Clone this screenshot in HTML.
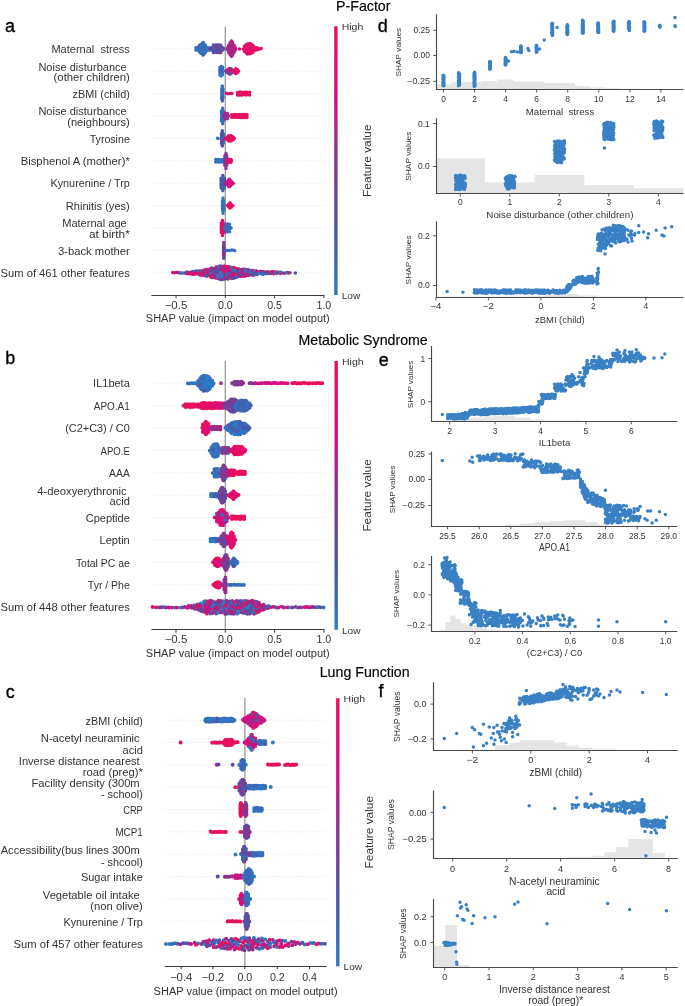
<!DOCTYPE html>
<html><head><meta charset="utf-8"><style>
html,body{margin:0;padding:0;background:#fff;}
svg{display:block;will-change:transform;}
text{font-family:'Liberation Sans', sans-serif;fill:#333;white-space:pre;}
</style></head><body>
<svg width="685" height="1006" viewBox="0 0 685 1006">
<rect width="685" height="1006" fill="#fff"/>
<defs><linearGradient id="cb" x1="0" y1="1" x2="0" y2="0"><stop offset="0.0" stop-color="#2e78c3"/><stop offset="0.25" stop-color="#4b55aa"/><stop offset="0.5" stop-color="#87378c"/><stop offset="0.75" stop-color="#dc0a82"/><stop offset="1.0" stop-color="#e8105a"/></linearGradient></defs>
<line x1="151.4" y1="48.8" x2="324.2" y2="48.8" stroke="#d5d5d5" stroke-width="0.7" stroke-dasharray="1 2"/>
<line x1="151.4" y1="71.2" x2="324.2" y2="71.2" stroke="#d5d5d5" stroke-width="0.7" stroke-dasharray="1 2"/>
<line x1="151.4" y1="93.6" x2="324.2" y2="93.6" stroke="#d5d5d5" stroke-width="0.7" stroke-dasharray="1 2"/>
<line x1="151.4" y1="116.0" x2="324.2" y2="116.0" stroke="#d5d5d5" stroke-width="0.7" stroke-dasharray="1 2"/>
<line x1="151.4" y1="138.4" x2="324.2" y2="138.4" stroke="#d5d5d5" stroke-width="0.7" stroke-dasharray="1 2"/>
<line x1="151.4" y1="160.8" x2="324.2" y2="160.8" stroke="#d5d5d5" stroke-width="0.7" stroke-dasharray="1 2"/>
<line x1="151.4" y1="183.2" x2="324.2" y2="183.2" stroke="#d5d5d5" stroke-width="0.7" stroke-dasharray="1 2"/>
<line x1="151.4" y1="205.6" x2="324.2" y2="205.6" stroke="#d5d5d5" stroke-width="0.7" stroke-dasharray="1 2"/>
<line x1="151.4" y1="228.0" x2="324.2" y2="228.0" stroke="#d5d5d5" stroke-width="0.7" stroke-dasharray="1 2"/>
<line x1="151.4" y1="250.4" x2="324.2" y2="250.4" stroke="#d5d5d5" stroke-width="0.7" stroke-dasharray="1 2"/>
<line x1="151.4" y1="272.8" x2="324.2" y2="272.8" stroke="#d5d5d5" stroke-width="0.7" stroke-dasharray="1 2"/>
<line x1="225.3" y1="26.4" x2="225.3" y2="295.2" stroke="#9a9a9a" stroke-width="1.3"/>
<path d="M195.9 47.8h0M195.9 49.9h0M197.8 50.2h0M199.0 47.4h0M199.0 50.0h0M201.0 47.9h0M201.0 50.1h0M202.4 47.4h0M202.4 49.8h0M204.4 47.6h0M204.4 50.1h0M206.1 47.4h0M206.1 49.8h0M207.5 47.5h0M207.5 50.2h0M209.3 47.8h0M209.3 50.2h0M199.7 47.6h0M201.1 51.2h0M203.2 42.5h0M203.2 45.0h0M203.2 52.7h0M203.1 54.9h0M204.0 48.6h0M204.0 51.3h0M205.5 52.3h0M206.7 49.0h0" stroke="#2e78c3" stroke-width="3.50" stroke-linecap="round" fill="none"/>
<path d="M197.8 47.3h0M198.4 48.6h0M201.1 44.2h0M201.1 53.6h0M203.2 54.7h0M203.1 50.0h0" stroke="#3d65b6" stroke-width="3.50" stroke-linecap="round" fill="none"/>
<path d="M199.7 45.3h0M204.0 53.7h0M211.5 50.0h0M213.4 44.9h0M213.4 47.4h0" stroke="#455caf" stroke-width="3.50" stroke-linecap="round" fill="none"/>
<path d="M199.7 50.0h0M199.7 52.3h0M201.1 46.4h0M201.1 48.9h0M203.2 47.7h0M203.2 50.2h0M203.1 42.7h0M203.1 45.4h0M203.1 47.6h0M203.1 52.2h0M204.0 44.1h0M204.0 46.3h0M205.5 45.2h0M205.5 47.5h0M205.5 50.2h0" stroke="#366fbc" stroke-width="3.50" stroke-linecap="round" fill="none"/>
<path d="M209.8 48.8h0M217.6 50.0h0M219.3 52.8h0M231.7 51.1h0" stroke="#6f4398" stroke-width="3.50" stroke-linecap="round" fill="none"/>
<path d="M211.5 47.7h0M213.4 52.4h0M215.9 47.6h0M215.9 52.5h0M217.6 45.1h0M217.6 52.3h0M217.4 45.3h0M217.4 47.5h0M217.4 52.3h0M219.3 50.1h0M220.8 47.3h0M222.9 47.8h0M222.9 50.0h0M223.7 48.5h0" stroke="#5f4ba0" stroke-width="3.50" stroke-linecap="round" fill="none"/>
<path d="M213.4 50.3h0M215.9 50.3h0M217.4 49.8h0M219.3 44.9h0M219.3 47.6h0M220.8 45.2h0M220.8 50.2h0" stroke="#4f53a8" stroke-width="3.50" stroke-linecap="round" fill="none"/>
<path d="M215.9 45.1h0M217.6 47.3h0M220.8 52.6h0M234.0 47.3h0M235.2 47.8h0" stroke="#7f3b90" stroke-width="3.50" stroke-linecap="round" fill="none"/>
<path d="M227.8 47.4h0M229.5 47.4h0M229.5 49.7h0M231.3 47.6h0M231.9 47.6h0M230.1 47.3h0M231.3 46.1h0M231.3 49.0h0M231.3 51.1h0M231.3 53.8h0M232.6 47.8h0M232.6 49.9h0M234.1 45.3h0M235.7 49.0h0" stroke="#c01985" stroke-width="3.50" stroke-linecap="round" fill="none"/>
<path d="M227.8 50.1h0M234.0 49.9h0M228.7 47.6h0M228.7 52.7h0M230.1 42.8h0M230.1 45.4h0M230.1 49.9h0M230.1 54.8h0M231.7 56.3h0" stroke="#92318b" stroke-width="3.50" stroke-linecap="round" fill="none"/>
<path d="M231.3 50.1h0M231.9 50.2h0M231.7 53.7h0M232.6 42.8h0M234.1 47.4h0M234.1 52.6h0" stroke="#d60d83" stroke-width="3.50" stroke-linecap="round" fill="none"/>
<path d="M235.2 50.2h0M227.3 49.0h0M228.7 45.2h0M228.7 50.1h0M230.1 52.7h0M231.7 41.2h0M231.7 43.7h0M231.7 46.5h0M231.7 48.7h0M231.3 41.2h0M231.3 43.7h0M231.3 56.1h0M232.6 45.3h0M232.6 52.5h0M232.6 54.7h0M234.1 50.2h0" stroke="#a92588" stroke-width="3.50" stroke-linecap="round" fill="none"/>
<path d="M239.5 48.9h0" stroke="#de0b7a" stroke-width="3.50" stroke-linecap="round" fill="none"/>
<path d="M243.3 49.0h0M244.4 48.5h0M247.1 44.0h0M247.1 46.6h0M249.4 51.1h0M249.4 53.7h0M249.5 44.1h0M249.5 51.3h0M250.5 43.7h0M250.5 53.6h0M252.4 47.3h0M252.4 52.8h0M253.5 48.5h0M255.7 47.8h0M255.7 50.1h0M257.0 47.7h0M257.0 49.8h0M259.5 49.1h0" stroke="#e8105a" stroke-width="3.50" stroke-linecap="round" fill="none"/>
<path d="M244.4 46.3h0M244.4 51.3h0M246.0 45.3h0M246.0 47.8h0M246.0 50.0h0M247.1 49.1h0M247.1 51.3h0M249.4 43.7h0M249.5 46.2h0M250.5 46.2h0M250.5 48.7h0M250.5 51.3h0M252.4 44.9h0M253.5 46.3h0M253.5 51.3h0M254.7 48.8h0M257.9 49.1h0" stroke="#e50e65" stroke-width="3.50" stroke-linecap="round" fill="none"/>
<path d="M246.0 52.6h0M247.1 53.9h0M249.4 46.1h0M249.4 48.5h0M249.5 48.6h0M249.5 53.5h0M252.4 50.3h0M261.1 48.6h0" stroke="#e20d6f" stroke-width="3.50" stroke-linecap="round" fill="none"/>
<path d="M219.9 67.6h0M219.9 71.3h0M219.9 75.1h0M221.1 68.4h0M221.1 74.0h0M221.1 76.1h0M222.6 69.3h0M222.6 70.9h0M222.6 73.2h0M222.6 74.7h0" stroke="#2e78c3" stroke-width="3.50" stroke-linecap="round" fill="none"/>
<path d="M219.9 69.5h0M219.9 73.1h0M221.1 66.6h0M222.6 67.2h0" stroke="#366fbc" stroke-width="3.50" stroke-linecap="round" fill="none"/>
<path d="M221.1 70.0h0" stroke="#455caf" stroke-width="3.50" stroke-linecap="round" fill="none"/>
<path d="M221.1 71.9h0" stroke="#3d65b6" stroke-width="3.50" stroke-linecap="round" fill="none"/>
<path d="M225.7 71.0h0M227.0 69.9h0M230.1 73.8h0M229.8 68.9h0" stroke="#92318b" stroke-width="3.50" stroke-linecap="round" fill="none"/>
<path d="M227.0 72.5h0M229.0 73.7h0M230.1 71.1h0M230.9 71.2h0M230.9 73.7h0M232.8 69.9h0M232.8 72.3h0M233.9 71.5h0" stroke="#7f3b90" stroke-width="3.50" stroke-linecap="round" fill="none"/>
<path d="M229.0 68.7h0" stroke="#c01985" stroke-width="3.50" stroke-linecap="round" fill="none"/>
<path d="M229.0 71.4h0M230.1 68.7h0M229.8 71.4h0M230.9 68.7h0" stroke="#a92588" stroke-width="3.50" stroke-linecap="round" fill="none"/>
<path d="M229.8 73.6h0" stroke="#6f4398" stroke-width="3.50" stroke-linecap="round" fill="none"/>
<path d="M232.9 71.1h0M234.9 70.2h0M234.9 72.3h0M235.9 71.2h0M237.5 69.8h0M237.5 72.5h0M238.6 71.3h0" stroke="#e8105a" stroke-width="3.50" stroke-linecap="round" fill="none"/>
<path d="M236.0 68.9h0" stroke="#e20d6f" stroke-width="3.50" stroke-linecap="round" fill="none"/>
<path d="M236.0 71.4h0M236.0 73.6h0M235.9 68.9h0" stroke="#e50e65" stroke-width="3.50" stroke-linecap="round" fill="none"/>
<path d="M235.9 73.6h0" stroke="#de0b7a" stroke-width="3.50" stroke-linecap="round" fill="none"/>
<path d="M221.8 88.6h0M221.8 90.6h0M221.8 92.6h0M221.8 96.5h0M222.3 85.9h0M222.3 87.6h0M222.3 91.5h0M222.3 93.5h0M222.3 95.5h0M222.3 97.5h0M222.3 99.5h0M222.9 88.8h0M222.9 92.4h0M222.9 94.4h0M222.9 96.7h0" stroke="#366fbc" stroke-width="3.50" stroke-linecap="round" fill="none"/>
<path d="M221.8 94.4h0M222.3 90.0h0" stroke="#2e78c3" stroke-width="3.50" stroke-linecap="round" fill="none"/>
<path d="M221.8 98.2h0" stroke="#455caf" stroke-width="3.50" stroke-linecap="round" fill="none"/>
<path d="M222.3 101.1h0M222.9 90.7h0M222.9 98.2h0" stroke="#3d65b6" stroke-width="3.50" stroke-linecap="round" fill="none"/>
<path d="M226.4 93.3h0M227.9 93.8h0M230.0 93.5h0M244.1 94.5h0" stroke="#e50e65" stroke-width="3.50" stroke-linecap="round" fill="none"/>
<path d="M231.9 93.4h0M237.5 94.9h0M239.1 95.1h0M240.4 95.1h0M249.6 94.9h0" stroke="#e20d6f" stroke-width="3.50" stroke-linecap="round" fill="none"/>
<path d="M237.5 92.5h0M239.1 92.2h0M242.4 92.5h0M242.4 94.9h0M244.1 92.3h0M245.9 92.3h0M245.9 95.0h0M247.0 92.2h0M247.0 94.7h0M249.6 92.2h0" stroke="#e8105a" stroke-width="3.50" stroke-linecap="round" fill="none"/>
<path d="M240.4 92.1h0" stroke="#de0b7a" stroke-width="3.50" stroke-linecap="round" fill="none"/>
<path d="M221.5 111.0h0M221.5 119.1h0M221.5 120.9h0M222.6 108.2h0M222.6 110.0h0M222.6 114.0h0M222.6 120.0h0M222.6 121.9h0M222.6 123.7h0M223.6 111.4h0M223.6 117.1h0M223.6 120.7h0" stroke="#366fbc" stroke-width="3.50" stroke-linecap="round" fill="none"/>
<path d="M221.5 113.0h0M221.5 115.2h0M221.5 116.8h0M222.6 116.1h0M223.6 115.2h0M223.6 118.8h0" stroke="#2e78c3" stroke-width="3.50" stroke-linecap="round" fill="none"/>
<path d="M222.6 112.4h0M222.6 118.0h0M223.6 112.9h0" stroke="#3d65b6" stroke-width="3.50" stroke-linecap="round" fill="none"/>
<path d="M223.8 115.7h0M225.0 118.6h0M226.3 115.7h0M227.3 113.4h0M227.3 118.7h0" stroke="#a92588" stroke-width="3.50" stroke-linecap="round" fill="none"/>
<path d="M225.0 113.4h0M227.3 116.0h0" stroke="#7f3b90" stroke-width="3.50" stroke-linecap="round" fill="none"/>
<path d="M225.0 116.0h0M226.3 113.6h0M226.3 118.6h0M226.6 115.7h0M226.6 118.4h0M228.5 115.9h0" stroke="#92318b" stroke-width="3.50" stroke-linecap="round" fill="none"/>
<path d="M226.6 113.8h0" stroke="#c01985" stroke-width="3.50" stroke-linecap="round" fill="none"/>
<path d="M231.7 114.8h0M231.7 117.3h0M233.7 114.8h0M233.7 117.3h0M235.6 117.2h0M237.3 115.0h0M237.3 117.3h0M238.8 114.6h0M238.8 117.3h0M240.7 114.5h0M240.7 117.5h0M242.0 114.6h0M242.0 117.5h0M245.3 114.8h0M245.3 117.4h0M247.0 114.7h0" stroke="#e8105a" stroke-width="3.50" stroke-linecap="round" fill="none"/>
<path d="M235.6 114.6h0M243.8 114.6h0M247.0 117.4h0" stroke="#e20d6f" stroke-width="3.50" stroke-linecap="round" fill="none"/>
<path d="M243.8 117.5h0" stroke="#e50e65" stroke-width="3.50" stroke-linecap="round" fill="none"/>
<path d="M217.5 138.3h0M218.1 138.6h0" stroke="#2e78c3" stroke-width="3.50" stroke-linecap="round" fill="none"/>
<path d="M221.5 133.7h0M221.5 135.3h0M221.5 137.3h0M221.5 139.2h0M222.3 130.7h0M222.3 132.6h0M222.3 134.8h0M222.3 140.2h0M222.3 144.4h0M223.3 133.9h0M223.3 135.3h0M223.3 139.2h0" stroke="#4f53a8" stroke-width="3.50" stroke-linecap="round" fill="none"/>
<path d="M221.5 141.2h0M222.3 138.3h0" stroke="#7f3b90" stroke-width="3.50" stroke-linecap="round" fill="none"/>
<path d="M221.5 143.2h0M222.3 142.2h0M222.3 146.1h0M223.3 141.0h0" stroke="#5f4ba0" stroke-width="3.50" stroke-linecap="round" fill="none"/>
<path d="M222.3 136.7h0M223.3 143.2h0" stroke="#455caf" stroke-width="3.50" stroke-linecap="round" fill="none"/>
<path d="M223.3 137.2h0" stroke="#3d65b6" stroke-width="3.50" stroke-linecap="round" fill="none"/>
<path d="M225.6 138.4h0M228.4 140.8h0M234.3 138.5h0" stroke="#e50e65" stroke-width="3.50" stroke-linecap="round" fill="none"/>
<path d="M227.2 137.3h0M227.2 139.4h0M230.4 138.3h0M233.1 137.0h0" stroke="#e20d6f" stroke-width="3.50" stroke-linecap="round" fill="none"/>
<path d="M228.4 136.1h0M228.4 138.7h0M230.4 135.9h0M230.4 140.8h0M229.9 135.7h0M229.9 138.6h0M229.9 141.0h0M231.2 135.8h0M231.2 138.3h0M231.2 140.8h0M233.1 139.7h0" stroke="#e8105a" stroke-width="3.50" stroke-linecap="round" fill="none"/>
<path d="M215.8 159.6h0M221.0 161.8h0M222.7 161.9h0" stroke="#366fbc" stroke-width="3.50" stroke-linecap="round" fill="none"/>
<path d="M215.8 161.9h0" stroke="#455caf" stroke-width="3.50" stroke-linecap="round" fill="none"/>
<path d="M217.7 159.4h0M217.7 161.8h0M219.0 159.4h0M219.0 162.3h0M221.0 159.9h0" stroke="#2e78c3" stroke-width="3.50" stroke-linecap="round" fill="none"/>
<path d="M222.7 159.7h0" stroke="#3d65b6" stroke-width="3.50" stroke-linecap="round" fill="none"/>
<path d="M224.8 156.1h0M224.8 157.8h0M224.8 162.0h0M224.8 163.5h0M226.7 163.9h0" stroke="#6f4398" stroke-width="3.50" stroke-linecap="round" fill="none"/>
<path d="M224.8 159.6h0M226.0 153.4h0M226.0 158.6h0M226.0 168.5h0M226.7 155.8h0M226.7 160.0h0M226.7 161.8h0" stroke="#7f3b90" stroke-width="3.50" stroke-linecap="round" fill="none"/>
<path d="M224.8 165.3h0" stroke="#a92588" stroke-width="3.50" stroke-linecap="round" fill="none"/>
<path d="M226.0 154.9h0M226.0 160.9h0M226.0 162.5h0M226.0 164.5h0M226.0 166.3h0M226.7 158.0h0M226.7 165.3h0" stroke="#92318b" stroke-width="3.50" stroke-linecap="round" fill="none"/>
<path d="M226.0 156.7h0" stroke="#5f4ba0" stroke-width="3.50" stroke-linecap="round" fill="none"/>
<path d="M227.6 161.0h0M229.9 159.5h0M229.9 162.0h0M231.0 159.5h0M231.0 162.3h0" stroke="#e50e65" stroke-width="3.50" stroke-linecap="round" fill="none"/>
<path d="M228.1 159.3h0" stroke="#de0b7a" stroke-width="3.50" stroke-linecap="round" fill="none"/>
<path d="M228.1 162.3h0M229.4 159.4h0M229.4 162.0h0" stroke="#e8105a" stroke-width="3.50" stroke-linecap="round" fill="none"/>
<path d="M231.3 160.5h0" stroke="#d60d83" stroke-width="3.50" stroke-linecap="round" fill="none"/>
<path d="M221.1 178.2h0M221.1 183.9h0M222.8 181.6h0M222.8 185.2h0M222.8 188.9h0M224.5 178.3h0" stroke="#455caf" stroke-width="3.50" stroke-linecap="round" fill="none"/>
<path d="M221.1 180.4h0M221.1 186.0h0M221.1 188.0h0M222.8 175.4h0M222.8 179.2h0M222.8 182.9h0M224.5 180.6h0M224.5 184.0h0" stroke="#4f53a8" stroke-width="3.50" stroke-linecap="round" fill="none"/>
<path d="M221.1 182.5h0M222.8 177.2h0M222.8 186.9h0M222.8 190.8h0" stroke="#3d65b6" stroke-width="3.50" stroke-linecap="round" fill="none"/>
<path d="M224.5 182.2h0M224.5 185.9h0" stroke="#5f4ba0" stroke-width="3.50" stroke-linecap="round" fill="none"/>
<path d="M224.5 187.9h0" stroke="#366fbc" stroke-width="3.50" stroke-linecap="round" fill="none"/>
<path d="M225.9 182.9h0M226.9 181.9h0M228.3 180.5h0M228.3 183.5h0M229.3 182.2h0M230.5 185.7h0M232.1 182.0h0M232.1 184.3h0M233.3 183.4h0" stroke="#de0b7a" stroke-width="3.50" stroke-linecap="round" fill="none"/>
<path d="M226.9 184.2h0M229.2 182.2h0M229.2 184.5h0M229.2 186.7h0M229.3 179.3h0M229.3 184.2h0M229.3 186.7h0M230.5 180.8h0" stroke="#d60d83" stroke-width="3.50" stroke-linecap="round" fill="none"/>
<path d="M228.3 185.9h0M229.2 179.8h0M230.5 183.2h0" stroke="#c01985" stroke-width="3.50" stroke-linecap="round" fill="none"/>
<path d="M222.5 201.1h0M222.5 202.5h0M222.5 206.4h0M222.5 210.2h0M223.0 198.1h0M223.0 199.7h0M223.0 202.0h0M223.0 203.5h0M223.0 209.4h0M223.0 211.3h0M223.0 213.3h0M223.7 201.0h0M223.7 202.7h0M223.7 204.5h0M223.7 206.7h0M223.7 210.3h0" stroke="#2e78c3" stroke-width="3.50" stroke-linecap="round" fill="none"/>
<path d="M222.5 204.9h0M222.5 208.2h0M223.0 205.7h0M223.0 207.7h0" stroke="#366fbc" stroke-width="3.50" stroke-linecap="round" fill="none"/>
<path d="M223.7 208.7h0" stroke="#3d65b6" stroke-width="3.50" stroke-linecap="round" fill="none"/>
<path d="M227.4 205.5h0M228.4 206.5h0M230.1 205.3h0M229.8 205.9h0" stroke="#e50e65" stroke-width="3.50" stroke-linecap="round" fill="none"/>
<path d="M228.4 204.6h0M230.1 207.9h0M229.8 203.2h0M229.8 208.1h0M231.4 207.0h0M232.8 205.8h0" stroke="#e8105a" stroke-width="3.50" stroke-linecap="round" fill="none"/>
<path d="M230.1 202.9h0" stroke="#e20d6f" stroke-width="3.50" stroke-linecap="round" fill="none"/>
<path d="M231.4 204.7h0" stroke="#de0b7a" stroke-width="3.50" stroke-linecap="round" fill="none"/>
<path d="M221.3 223.0h0" stroke="#d60d83" stroke-width="3.50" stroke-linecap="round" fill="none"/>
<path d="M221.3 225.3h0M221.3 228.8h0M222.5 229.8h0M223.6 225.3h0M223.6 226.9h0M223.6 230.9h0" stroke="#de0b7a" stroke-width="3.50" stroke-linecap="round" fill="none"/>
<path d="M221.3 226.8h0M221.3 231.0h0M222.5 220.4h0M222.5 224.4h0M222.5 226.3h0M222.5 231.9h0M222.5 234.0h0M222.5 235.4h0M223.6 223.3h0M223.6 228.9h0M223.6 232.7h0" stroke="#e20d6f" stroke-width="3.50" stroke-linecap="round" fill="none"/>
<path d="M221.3 232.5h0" stroke="#e8105a" stroke-width="3.50" stroke-linecap="round" fill="none"/>
<path d="M222.5 222.1h0M222.5 228.1h0" stroke="#e50e65" stroke-width="3.50" stroke-linecap="round" fill="none"/>
<path d="M224.6 228.1h0M226.1 224.3h0M226.1 229.2h0M227.8 224.1h0M227.6 231.4h0M229.5 229.0h0M229.5 231.7h0M231.1 228.0h0" stroke="#2e78c3" stroke-width="3.50" stroke-linecap="round" fill="none"/>
<path d="M226.1 227.0h0M229.5 227.0h0" stroke="#3d65b6" stroke-width="3.50" stroke-linecap="round" fill="none"/>
<path d="M226.1 231.7h0M227.8 226.7h0M227.6 229.5h0" stroke="#455caf" stroke-width="3.50" stroke-linecap="round" fill="none"/>
<path d="M227.8 229.3h0M227.8 231.4h0M227.6 224.6h0M227.6 226.7h0M229.5 224.3h0" stroke="#366fbc" stroke-width="3.50" stroke-linecap="round" fill="none"/>
<path d="M223.5 245.5h0M223.5 253.1h0M223.7 248.8h0M224.0 251.1h0" stroke="#92318b" stroke-width="3.50" stroke-linecap="round" fill="none"/>
<path d="M223.5 247.4h0M223.5 255.4h0M223.7 242.5h0M223.7 245.0h0M223.7 246.3h0M223.7 250.5h0M223.7 255.9h0M224.0 245.9h0M224.0 247.8h0M224.0 249.4h0M224.0 253.1h0M224.0 255.4h0" stroke="#7f3b90" stroke-width="3.50" stroke-linecap="round" fill="none"/>
<path d="M223.5 249.2h0M223.7 258.3h0" stroke="#6f4398" stroke-width="3.50" stroke-linecap="round" fill="none"/>
<path d="M223.5 251.1h0" stroke="#5f4ba0" stroke-width="3.50" stroke-linecap="round" fill="none"/>
<path d="M223.7 252.5h0M223.7 254.0h0" stroke="#a92588" stroke-width="3.50" stroke-linecap="round" fill="none"/>
<path d="M226.6 250.5h0M229.9 250.5h0M234.7 250.7h0" stroke="#2e78c3" stroke-width="3.50" stroke-linecap="round" fill="none"/>
<path d="M227.8 250.4h0M233.8 250.2h0" stroke="#366fbc" stroke-width="3.50" stroke-linecap="round" fill="none"/>
<path d="M231.8 250.1h0" stroke="#3d65b6" stroke-width="3.50" stroke-linecap="round" fill="none"/>
<path d="M220.7 273.5h0M227.1 268.8h0M230.0 273.2h0M224.2 275.8h0M221.0 277.4h0M231.7 271.3h0" stroke="#c01985" stroke-width="3.50" stroke-linecap="round" fill="none"/>
<path d="M257.1 274.6h0M270.3 272.3h0M242.2 273.2h0M225.6 268.4h0M209.4 269.7h0M247.1 271.3h0" stroke="#6f4398" stroke-width="3.50" stroke-linecap="round" fill="none"/>
<path d="M259.2 272.3h0M217.7 275.1h0M225.4 277.3h0M213.7 268.5h0M223.2 274.8h0" stroke="#e50e65" stroke-width="3.50" stroke-linecap="round" fill="none"/>
<path d="M181.3 273.1h0M228.9 275.0h0M208.4 273.5h0M243.8 274.9h0M209.4 274.4h0" stroke="#3d65b6" stroke-width="3.50" stroke-linecap="round" fill="none"/>
<path d="M287.1 272.4h0M219.0 266.2h0M264.6 273.6h0M192.4 271.4h0M206.2 274.7h0M295.4 273.0h0" stroke="#4f53a8" stroke-width="3.50" stroke-linecap="round" fill="none"/>
<path d="M263.7 271.8h0M188.2 272.4h0M212.6 269.7h0M205.3 275.6h0M245.8 275.4h0M237.3 274.8h0M212.1 272.7h0M220.9 279.7h0M237.0 273.4h0" stroke="#2e78c3" stroke-width="3.50" stroke-linecap="round" fill="none"/>
<path d="M200.9 271.1h0M235.5 268.5h0M226.0 271.6h0M192.9 274.2h0M222.4 279.4h0M214.4 273.9h0M212.3 277.7h0" stroke="#92318b" stroke-width="3.50" stroke-linecap="round" fill="none"/>
<path d="M237.8 272.3h0M225.7 267.0h0M223.3 277.4h0" stroke="#de0b7a" stroke-width="3.50" stroke-linecap="round" fill="none"/>
<path d="M249.1 275.6h0M219.7 274.8h0M254.2 273.4h0M254.0 275.1h0M260.4 271.2h0" stroke="#e8105a" stroke-width="3.50" stroke-linecap="round" fill="none"/>
<path d="M221.1 270.9h0M260.5 273.5h0M172.7 272.5h0M227.7 277.9h0M211.2 270.2h0M202.1 271.8h0" stroke="#c01985" stroke-width="3.50" stroke-linecap="round" fill="none"/>
<path d="M256.7 272.7h0M252.6 275.3h0M211.8 268.1h0M242.6 270.6h0M230.4 275.6h0" stroke="#6f4398" stroke-width="3.50" stroke-linecap="round" fill="none"/>
<path d="M244.8 276.3h0M248.4 271.0h0M243.9 270.6h0M245.3 269.5h0" stroke="#e50e65" stroke-width="3.50" stroke-linecap="round" fill="none"/>
<path d="M179.6 273.1h0M207.5 275.0h0M234.5 277.9h0M225.1 273.4h0M250.8 271.8h0" stroke="#3d65b6" stroke-width="3.50" stroke-linecap="round" fill="none"/>
<path d="M253.4 272.3h0M272.8 273.2h0M206.8 270.5h0M252.9 274.1h0M219.4 271.1h0" stroke="#4f53a8" stroke-width="3.50" stroke-linecap="round" fill="none"/>
<path d="M226.6 273.1h0M281.6 272.5h0M250.4 270.3h0M276.8 273.6h0M204.1 270.0h0M214.0 275.2h0M207.7 269.2h0M231.0 274.3h0" stroke="#2e78c3" stroke-width="3.50" stroke-linecap="round" fill="none"/>
<path d="M187.4 273.5h0M236.3 270.1h0M206.0 271.9h0M244.8 274.0h0M238.8 269.1h0M271.4 271.7h0" stroke="#92318b" stroke-width="3.50" stroke-linecap="round" fill="none"/>
<path d="M184.8 273.0h0M240.8 276.4h0M186.1 273.3h0" stroke="#de0b7a" stroke-width="3.50" stroke-linecap="round" fill="none"/>
<path d="M277.1 272.0h0M216.3 266.7h0M217.5 278.3h0M191.1 274.1h0M201.0 272.6h0" stroke="#e8105a" stroke-width="3.50" stroke-linecap="round" fill="none"/>
<path d="M224.3 270.0h0M251.7 272.9h0M210.3 268.7h0M238.9 273.0h0M204.7 274.2h0M242.1 271.9h0" stroke="#c01985" stroke-width="3.50" stroke-linecap="round" fill="none"/>
<path d="M212.9 274.0h0M208.7 271.3h0M189.5 272.2h0M262.5 271.4h0M247.9 272.3h0" stroke="#6f4398" stroke-width="3.50" stroke-linecap="round" fill="none"/>
<path d="M271.1 273.6h0M212.2 271.1h0M246.3 272.7h0M228.0 273.5h0" stroke="#e50e65" stroke-width="3.50" stroke-linecap="round" fill="none"/>
<path d="M216.1 274.3h0M266.5 273.8h0M214.8 269.8h0M194.9 272.9h0M220.7 266.0h0" stroke="#3d65b6" stroke-width="3.50" stroke-linecap="round" fill="none"/>
<path d="M250.9 274.5h0M232.0 269.3h0M243.4 272.0h0M203.9 271.4h0M256.0 270.8h0" stroke="#4f53a8" stroke-width="3.50" stroke-linecap="round" fill="none"/>
<path d="M230.6 270.1h0M194.7 271.4h0M252.2 271.6h0M205.2 272.9h0M232.3 267.4h0M228.9 272.4h0M218.4 273.9h0M243.8 269.1h0" stroke="#2e78c3" stroke-width="3.50" stroke-linecap="round" fill="none"/>
<path d="M215.2 276.1h0M230.1 277.0h0M209.4 275.7h0M290.0 272.8h0M219.2 279.0h0M274.2 271.8h0" stroke="#92318b" stroke-width="3.50" stroke-linecap="round" fill="none"/>
<path d="M194.6 274.3h0M212.4 276.2h0M240.6 272.3h0" stroke="#de0b7a" stroke-width="3.50" stroke-linecap="round" fill="none"/>
<path d="M174.5 272.8h0M217.7 269.4h0M272.8 271.7h0M280.5 273.4h0M227.0 266.6h0" stroke="#e8105a" stroke-width="3.50" stroke-linecap="round" fill="none"/>
<path d="M188.7 273.8h0M215.9 271.9h0M229.1 270.7h0M242.7 276.2h0M223.1 270.8h0M222.3 266.5h0" stroke="#c01985" stroke-width="3.50" stroke-linecap="round" fill="none"/>
<path d="M203.5 272.9h0M206.6 276.3h0M262.8 272.8h0M198.0 274.1h0M246.6 269.6h0" stroke="#6f4398" stroke-width="3.50" stroke-linecap="round" fill="none"/>
<path d="M278.8 272.6h0M252.9 270.4h0M201.4 275.3h0M239.3 271.7h0" stroke="#e50e65" stroke-width="3.50" stroke-linecap="round" fill="none"/>
<path d="M266.5 272.1h0M233.4 270.0h0M255.2 274.4h0M223.6 267.2h0M234.0 271.2h0" stroke="#3d65b6" stroke-width="3.50" stroke-linecap="round" fill="none"/>
<path d="M267.8 273.2h0M213.6 271.8h0M186.8 272.0h0M235.9 276.2h0M214.8 271.1h0" stroke="#4f53a8" stroke-width="3.50" stroke-linecap="round" fill="none"/>
<path d="M182.8 272.9h0M249.3 272.6h0M254.8 271.6h0M238.1 276.4h0M216.8 277.1h0M227.1 276.5h0M196.9 272.5h0M219.6 272.5h0" stroke="#2e78c3" stroke-width="3.50" stroke-linecap="round" fill="none"/>
<path d="M288.4 272.9h0M217.6 272.3h0M232.4 274.3h0M248.2 269.7h0M234.3 276.4h0M241.2 275.0h0" stroke="#92318b" stroke-width="3.50" stroke-linecap="round" fill="none"/>
<path d="M257.4 271.4h0M215.4 277.9h0M228.6 276.7h0" stroke="#de0b7a" stroke-width="3.50" stroke-linecap="round" fill="none"/>
<path d="M219.9 276.3h0M267.8 271.8h0M231.8 278.4h0M210.6 277.0h0" stroke="#e8105a" stroke-width="3.50" stroke-linecap="round" fill="none"/>
<path d="M247.3 275.2h0M232.4 276.2h0M223.6 273.0h0M233.5 272.4h0M238.9 274.7h0" stroke="#c01985" stroke-width="3.50" stroke-linecap="round" fill="none"/>
<path d="M230.7 268.2h0M231.2 272.6h0M261.2 272.4h0M219.8 268.4h0M265.0 272.2h0" stroke="#6f4398" stroke-width="3.50" stroke-linecap="round" fill="none"/>
<path d="M210.9 274.7h0M192.7 272.9h0M226.3 270.0h0M205.9 269.6h0" stroke="#e50e65" stroke-width="3.50" stroke-linecap="round" fill="none"/>
<path d="M261.7 274.0h0M196.1 271.0h0M235.7 272.9h0M219.2 277.6h0M233.1 268.4h0" stroke="#3d65b6" stroke-width="3.50" stroke-linecap="round" fill="none"/>
<path d="M240.3 273.8h0M217.1 270.7h0M249.3 274.3h0M224.4 279.0h0M233.2 278.3h0" stroke="#4f53a8" stroke-width="3.50" stroke-linecap="round" fill="none"/>
<path d="M210.4 272.7h0M285.6 273.0h0M259.0 273.6h0M217.9 276.4h0M280.0 272.1h0M221.9 272.6h0M230.2 267.0h0M217.8 267.7h0" stroke="#2e78c3" stroke-width="3.50" stroke-linecap="round" fill="none"/>
<path d="M283.8 273.2h0M202.8 270.7h0M216.5 268.5h0M240.6 269.5h0M227.6 270.6h0M237.7 270.6h0" stroke="#92318b" stroke-width="3.50" stroke-linecap="round" fill="none"/>
<path d="M176.6 272.5h0M226.3 278.5h0M274.0 273.8h0" stroke="#de0b7a" stroke-width="3.50" stroke-linecap="round" fill="none"/>
<path d="M190.7 272.8h0M207.3 272.6h0M220.8 269.4h0M234.1 267.6h0" stroke="#e8105a" stroke-width="3.50" stroke-linecap="round" fill="none"/>
<path d="M247.6 274.0h0M222.8 268.6h0M197.6 271.2h0M228.3 266.8h0M242.1 269.4h0" stroke="#c01985" stroke-width="3.50" stroke-linecap="round" fill="none"/>
<path d="M210.0 270.9h0M213.9 277.1h0M215.2 268.2h0M203.9 275.5h0M228.1 279.1h0" stroke="#6f4398" stroke-width="3.50" stroke-linecap="round" fill="none"/>
<path d="M234.9 274.8h0M240.4 270.9h0M224.4 271.5h0M224.3 266.0h0" stroke="#e50e65" stroke-width="3.50" stroke-linecap="round" fill="none"/>
<path d="M226.3 275.1h0M199.2 270.9h0M239.2 270.4h0M236.6 277.3h0" stroke="#3d65b6" stroke-width="3.50" stroke-linecap="round" fill="none"/>
<path d="M269.3 273.4h0M235.8 271.4h0M229.1 278.1h0M219.1 269.5h0M255.4 273.1h0" stroke="#4f53a8" stroke-width="3.50" stroke-linecap="round" fill="none"/>
<path d="M198.3 272.3h0M222.1 276.6h0M221.5 274.9h0M275.0 272.8h0M245.7 271.2h0M235.0 269.8h0M244.7 272.5h0M263.4 274.3h0" stroke="#2e78c3" stroke-width="3.50" stroke-linecap="round" fill="none"/>
<path d="M199.4 274.7h0M201.4 273.8h0M221.3 267.7h0M178.3 272.5h0M239.4 276.0h0M243.6 273.3h0" stroke="#92318b" stroke-width="3.50" stroke-linecap="round" fill="none"/>
<path d="M196.1 273.6h0M229.5 269.3h0M222.1 269.7h0" stroke="#de0b7a" stroke-width="3.50" stroke-linecap="round" fill="none"/>
<path d="M202.7 274.3h0M199.7 272.8h0M233.6 273.7h0M237.4 268.7h0" stroke="#e8105a" stroke-width="3.50" stroke-linecap="round" fill="none"/>
<line x1="151.4" y1="295.5" x2="324.2" y2="295.5" stroke="#3a3a3a" stroke-width="1.15"/>
<line x1="176.0" y1="295.2" x2="176.0" y2="298.2" stroke="#333" stroke-width="1"/>
<text x="176.0" y="308.6" font-size="10.30" text-anchor="middle" textLength="22.6" lengthAdjust="spacingAndGlyphs">−0.5</text>
<line x1="225.3" y1="295.2" x2="225.3" y2="298.2" stroke="#333" stroke-width="1"/>
<text x="225.3" y="308.6" font-size="10.30" text-anchor="middle" textLength="14.8" lengthAdjust="spacingAndGlyphs">0.0</text>
<line x1="274.6" y1="295.2" x2="274.6" y2="298.2" stroke="#333" stroke-width="1"/>
<text x="274.6" y="308.6" font-size="10.30" text-anchor="middle" textLength="14.8" lengthAdjust="spacingAndGlyphs">0.5</text>
<line x1="323.9" y1="295.2" x2="323.9" y2="298.2" stroke="#333" stroke-width="1"/>
<text x="323.9" y="308.6" font-size="10.30" text-anchor="middle" textLength="14.8" lengthAdjust="spacingAndGlyphs">1.0</text>
<text x="237.8" y="322.2" font-size="10.04" text-anchor="middle" textLength="184.0" lengthAdjust="spacingAndGlyphs">SHAP value (impact on model output)</text>
<text x="129.8" y="52.9" font-size="10.09" text-anchor="end" textLength="78.4" lengthAdjust="spacingAndGlyphs">Maternal  stress</text>
<text x="129.8" y="70.6" font-size="10.09" text-anchor="end" textLength="91.4" lengthAdjust="spacingAndGlyphs">Noise disturbance </text>
<text x="129.8" y="81.4" font-size="10.09" text-anchor="end" textLength="76.2" lengthAdjust="spacingAndGlyphs">(other children)</text>
<text x="129.8" y="97.7" font-size="10.09" text-anchor="end" textLength="57.2" lengthAdjust="spacingAndGlyphs">zBMI (child)</text>
<text x="129.8" y="115.4" font-size="10.09" text-anchor="end" textLength="91.4" lengthAdjust="spacingAndGlyphs">Noise disturbance </text>
<text x="129.8" y="126.2" font-size="10.09" text-anchor="end" textLength="62.6" lengthAdjust="spacingAndGlyphs">(neighbours)</text>
<text x="129.8" y="142.5" font-size="10.09" text-anchor="end" textLength="40.1" lengthAdjust="spacingAndGlyphs">Tyrosine</text>
<text x="129.8" y="164.9" font-size="10.09" text-anchor="end" textLength="109.1" lengthAdjust="spacingAndGlyphs">Bisphenol A (mother)*</text>
<text x="129.8" y="187.3" font-size="10.09" text-anchor="end" textLength="79.3" lengthAdjust="spacingAndGlyphs">Kynurenine / Trp</text>
<text x="129.8" y="209.7" font-size="10.09" text-anchor="end" textLength="64.0" lengthAdjust="spacingAndGlyphs">Rhinitis (yes)</text>
<text x="129.8" y="227.4" font-size="10.09" text-anchor="end" textLength="67.6" lengthAdjust="spacingAndGlyphs">Maternal age </text>
<text x="129.8" y="238.2" font-size="10.09" text-anchor="end" textLength="40.9" lengthAdjust="spacingAndGlyphs">at birth*</text>
<text x="129.8" y="254.5" font-size="10.09" text-anchor="end" textLength="71.8" lengthAdjust="spacingAndGlyphs">3-back mother</text>
<text x="129.8" y="276.9" font-size="10.09" text-anchor="end" textLength="129.2" lengthAdjust="spacingAndGlyphs">Sum of 461 other features</text>
<rect x="334.2" y="26.3" width="3.4" height="268.7" fill="url(#cb)"/>
<text x="341.7" y="29.9" font-size="9.68" textLength="21.6" lengthAdjust="spacingAndGlyphs">High</text>
<text x="341.7" y="299.0" font-size="9.68" textLength="18.5" lengthAdjust="spacingAndGlyphs">Low</text>
<text x="371.1" y="160.7" font-size="10.92" text-anchor="middle" textLength="72.4" lengthAdjust="spacingAndGlyphs" transform="rotate(-90 371.1 160.7)">Feature value</text>
<line x1="151.4" y1="383.2" x2="324.2" y2="383.2" stroke="#d5d5d5" stroke-width="0.7" stroke-dasharray="1 2"/>
<line x1="151.4" y1="405.6" x2="324.2" y2="405.6" stroke="#d5d5d5" stroke-width="0.7" stroke-dasharray="1 2"/>
<line x1="151.4" y1="428.0" x2="324.2" y2="428.0" stroke="#d5d5d5" stroke-width="0.7" stroke-dasharray="1 2"/>
<line x1="151.4" y1="450.4" x2="324.2" y2="450.4" stroke="#d5d5d5" stroke-width="0.7" stroke-dasharray="1 2"/>
<line x1="151.4" y1="472.8" x2="324.2" y2="472.8" stroke="#d5d5d5" stroke-width="0.7" stroke-dasharray="1 2"/>
<line x1="151.4" y1="495.2" x2="324.2" y2="495.2" stroke="#d5d5d5" stroke-width="0.7" stroke-dasharray="1 2"/>
<line x1="151.4" y1="517.6" x2="324.2" y2="517.6" stroke="#d5d5d5" stroke-width="0.7" stroke-dasharray="1 2"/>
<line x1="151.4" y1="540.0" x2="324.2" y2="540.0" stroke="#d5d5d5" stroke-width="0.7" stroke-dasharray="1 2"/>
<line x1="151.4" y1="562.4" x2="324.2" y2="562.4" stroke="#d5d5d5" stroke-width="0.7" stroke-dasharray="1 2"/>
<line x1="151.4" y1="584.8" x2="324.2" y2="584.8" stroke="#d5d5d5" stroke-width="0.7" stroke-dasharray="1 2"/>
<line x1="151.4" y1="607.2" x2="324.2" y2="607.2" stroke="#d5d5d5" stroke-width="0.7" stroke-dasharray="1 2"/>
<line x1="225.3" y1="360.8" x2="225.3" y2="629.6" stroke="#9a9a9a" stroke-width="1.3"/>
<path d="M187.8 383.3h0M198.1 380.8h0M198.1 385.5h0M200.2 378.5h0M201.4 379.8h0M201.4 387.0h0M201.4 389.3h0M203.3 383.2h0M205.4 376.1h0M204.6 385.4h0M204.6 387.9h0M207.1 387.9h0M208.8 387.1h0M208.8 389.5h0" stroke="#3d65b6" stroke-width="3.80" stroke-linecap="round" fill="none"/>
<path d="M189.4 383.5h0M191.6 383.1h0M196.0 383.4h0M200.2 380.6h0M200.2 383.2h0M201.4 382.0h0M203.3 388.1h0M205.4 378.6h0M205.4 390.3h0M204.6 375.7h0M204.6 380.6h0M207.1 380.8h0M207.1 390.7h0M208.8 379.3h0M210.1 378.6h0M210.1 380.8h0M210.1 385.5h0M212.3 380.7h0M212.3 383.2h0" stroke="#366fbc" stroke-width="3.80" stroke-linecap="round" fill="none"/>
<path d="M193.1 383.4h0M194.6 383.1h0M198.1 383.5h0M200.2 387.8h0M201.4 376.8h0M203.3 375.6h0M203.3 380.9h0M203.3 385.5h0M203.3 390.8h0M205.4 380.8h0M205.4 383.5h0M205.4 385.7h0M205.4 387.8h0M204.6 378.4h0M204.6 383.4h0M207.1 376.1h0M207.1 378.2h0M207.1 383.1h0M207.1 385.6h0M208.8 377.0h0M208.8 382.1h0M208.8 384.6h0M210.1 383.1h0M210.1 388.3h0M212.3 385.7h0M213.7 383.5h0" stroke="#2e78c3" stroke-width="3.80" stroke-linecap="round" fill="none"/>
<path d="M200.2 385.5h0M201.4 384.6h0M203.3 378.3h0" stroke="#455caf" stroke-width="3.80" stroke-linecap="round" fill="none"/>
<path d="M204.6 390.6h0" stroke="#4f53a8" stroke-width="3.80" stroke-linecap="round" fill="none"/>
<path d="M221.0 383.2h0M237.6 382.0h0M237.9 384.4h0M239.4 382.2h0M240.8 382.0h0M250.8 382.9h0" stroke="#92318b" stroke-width="3.80" stroke-linecap="round" fill="none"/>
<path d="M232.0 383.2h0M237.6 384.6h0M237.9 381.8h0" stroke="#6f4398" stroke-width="3.80" stroke-linecap="round" fill="none"/>
<path d="M234.3 381.9h0M234.3 384.5h0M235.4 381.8h0M235.4 384.6h0M237.0 381.9h0M237.0 384.3h0M241.7 381.7h0M241.7 384.4h0M249.5 383.2h0M252.7 383.4h0" stroke="#7f3b90" stroke-width="3.80" stroke-linecap="round" fill="none"/>
<path d="M239.4 384.3h0M255.7 383.3h0M265.0 383.0h0M267.9 383.2h0" stroke="#a92588" stroke-width="3.80" stroke-linecap="round" fill="none"/>
<path d="M240.8 384.4h0" stroke="#5f4ba0" stroke-width="3.80" stroke-linecap="round" fill="none"/>
<path d="M243.2 383.0h0M255.0 383.1h0M257.6 383.4h0M259.5 383.3h0M266.2 383.0h0M279.9 383.1h0" stroke="#c01985" stroke-width="3.80" stroke-linecap="round" fill="none"/>
<path d="M261.3 383.1h0M262.6 383.1h0M273.1 383.0h0M274.6 383.0h0M276.1 383.0h0M277.8 383.3h0M287.7 383.3h0" stroke="#d60d83" stroke-width="3.80" stroke-linecap="round" fill="none"/>
<path d="M269.5 382.9h0M271.1 383.4h0M281.5 383.0h0M283.3 383.1h0M293.8 383.0h0" stroke="#de0b7a" stroke-width="3.80" stroke-linecap="round" fill="none"/>
<path d="M285.4 383.2h0M308.8 383.5h0M318.7 383.1h0" stroke="#e20d6f" stroke-width="3.80" stroke-linecap="round" fill="none"/>
<path d="M292.2 383.2h0M295.3 382.9h0M298.6 383.1h0M305.1 383.0h0M314.0 383.1h0" stroke="#e50e65" stroke-width="3.80" stroke-linecap="round" fill="none"/>
<path d="M297.1 383.5h0M300.4 383.5h0M301.8 383.1h0M303.2 382.9h0M307.5 383.3h0M310.5 383.2h0M312.5 383.4h0M316.0 383.3h0M317.0 382.9h0M320.3 383.2h0M322.3 383.2h0" stroke="#e8105a" stroke-width="3.80" stroke-linecap="round" fill="none"/>
<path d="M183.5 405.7h0M185.5 404.2h0M187.3 406.7h0M188.6 404.1h0M188.6 406.8h0M190.5 404.3h0M190.5 407.1h0M192.2 404.5h0M192.2 407.1h0M193.7 404.1h0M193.7 406.8h0M195.6 404.6h0M195.6 406.6h0M197.2 406.6h0M198.5 406.9h0M201.3 403.3h0M201.3 405.9h0M203.2 403.0h0M203.2 405.7h0M203.2 408.3h0M204.5 405.6h0M206.6 403.4h0M206.6 405.8h0M208.5 403.2h0M208.5 407.9h0M210.5 405.9h0M211.7 408.3h0" stroke="#e8105a" stroke-width="3.80" stroke-linecap="round" fill="none"/>
<path d="M185.5 407.0h0M187.3 404.6h0M197.2 404.3h0M198.5 404.4h0M204.5 403.0h0M204.5 408.0h0M206.6 408.3h0M208.5 405.6h0M210.5 403.2h0M210.5 408.1h0M211.7 403.4h0M213.7 403.2h0M213.7 408.2h0M221.0 408.0h0" stroke="#e50e65" stroke-width="3.80" stroke-linecap="round" fill="none"/>
<path d="M201.3 407.9h0M215.4 403.0h0M215.4 407.8h0M216.7 405.8h0M216.7 407.9h0M219.0 403.0h0M219.0 405.7h0M221.0 403.1h0M221.0 405.5h0" stroke="#e20d6f" stroke-width="3.80" stroke-linecap="round" fill="none"/>
<path d="M211.7 405.5h0M213.7 405.6h0M215.4 405.5h0M216.7 403.4h0M219.0 407.9h0" stroke="#de0b7a" stroke-width="3.80" stroke-linecap="round" fill="none"/>
<path d="M223.3 403.4h0" stroke="#c01985" stroke-width="3.80" stroke-linecap="round" fill="none"/>
<path d="M223.3 405.5h0M223.3 407.8h0M224.7 407.8h0" stroke="#a92588" stroke-width="3.80" stroke-linecap="round" fill="none"/>
<path d="M224.7 403.3h0M224.7 405.7h0M224.9 405.7h0M230.9 404.3h0M230.9 406.8h0M233.0 404.4h0M233.0 409.2h0M236.4 405.8h0" stroke="#92318b" stroke-width="3.80" stroke-linecap="round" fill="none"/>
<path d="M226.3 403.3h0M229.6 402.9h0M233.0 399.3h0M233.5 399.6h0M233.5 409.4h0M233.5 411.7h0M234.5 406.7h0M237.3 409.5h0M239.8 408.1h0M240.7 405.4h0" stroke="#5f4ba0" stroke-width="3.80" stroke-linecap="round" fill="none"/>
<path d="M226.3 405.4h0M226.3 407.9h0M228.0 401.8h0M228.0 404.5h0M228.0 406.9h0M228.0 409.1h0M229.6 401.0h0M229.6 405.8h0M229.6 408.0h0M229.6 410.2h0M230.9 399.3h0M230.9 409.0h0M230.9 411.6h0M233.0 406.7h0M233.5 401.7h0M233.5 404.5h0M234.5 399.4h0M234.5 401.9h0M234.5 409.5h0M236.4 400.5h0M236.4 408.3h0M239.8 403.0h0M239.8 405.6h0" stroke="#6f4398" stroke-width="3.80" stroke-linecap="round" fill="none"/>
<path d="M230.9 402.1h0M233.0 401.7h0M234.5 404.2h0M234.5 411.5h0M236.4 403.1h0M236.4 410.4h0M237.3 402.2h0M237.3 404.6h0M237.3 406.6h0" stroke="#7f3b90" stroke-width="3.80" stroke-linecap="round" fill="none"/>
<path d="M233.0 411.5h0M233.5 406.7h0" stroke="#4f53a8" stroke-width="3.80" stroke-linecap="round" fill="none"/>
<path d="M235.4 405.6h0M236.5 405.7h0M236.5 408.3h0M240.1 408.0h0M241.5 400.5h0M241.5 408.1h0M243.4 402.9h0M243.4 405.8h0M242.6 403.3h0M242.6 410.4h0M244.8 408.3h0M246.0 405.7h0M247.3 409.4h0M249.5 403.3h0" stroke="#2e78c3" stroke-width="3.80" stroke-linecap="round" fill="none"/>
<path d="M236.5 403.3h0M237.9 404.3h0M237.9 409.5h0M240.1 400.6h0M243.4 400.9h0M242.6 405.9h0M242.6 408.2h0M244.8 403.2h0M246.0 402.9h0M246.0 408.3h0M247.3 402.2h0M247.3 404.3h0M247.3 406.9h0M249.5 405.7h0" stroke="#366fbc" stroke-width="3.80" stroke-linecap="round" fill="none"/>
<path d="M237.9 402.2h0M237.9 406.9h0M241.5 405.4h0M241.5 410.6h0M243.4 408.1h0M243.4 410.8h0M246.0 400.6h0M246.0 410.3h0" stroke="#3d65b6" stroke-width="3.80" stroke-linecap="round" fill="none"/>
<path d="M240.1 403.1h0M240.1 405.4h0M240.1 410.5h0M241.5 402.9h0M242.6 400.8h0M244.8 400.6h0M244.8 405.6h0M244.8 410.5h0M249.5 407.9h0M250.9 405.5h0" stroke="#455caf" stroke-width="3.80" stroke-linecap="round" fill="none"/>
<path d="M202.2 427.8h0M202.8 426.8h0M202.8 429.0h0M204.9 425.3h0M205.9 424.5h0M205.9 427.0h0M205.8 434.1h0M207.5 423.1h0M207.5 432.7h0M208.6 424.0h0M209.9 428.2h0" stroke="#e8105a" stroke-width="3.80" stroke-linecap="round" fill="none"/>
<path d="M202.8 424.5h0M204.9 423.0h0M204.9 427.7h0M205.9 421.6h0M205.9 429.1h0M205.9 431.5h0M205.8 421.8h0M205.8 424.6h0M205.8 427.0h0M205.8 429.0h0M205.8 431.7h0M207.5 425.8h0M207.5 428.3h0M207.5 430.4h0" stroke="#e50e65" stroke-width="3.80" stroke-linecap="round" fill="none"/>
<path d="M202.8 431.9h0M208.6 427.1h0" stroke="#de0b7a" stroke-width="3.80" stroke-linecap="round" fill="none"/>
<path d="M204.9 430.2h0M204.9 433.1h0M205.9 434.2h0M208.6 429.0h0" stroke="#e20d6f" stroke-width="3.80" stroke-linecap="round" fill="none"/>
<path d="M208.6 431.9h0" stroke="#d60d83" stroke-width="3.80" stroke-linecap="round" fill="none"/>
<path d="M211.7 426.6h0M215.9 429.0h0M217.7 429.3h0M220.5 426.8h0" stroke="#c01985" stroke-width="3.80" stroke-linecap="round" fill="none"/>
<path d="M211.7 429.5h0M220.5 429.5h0" stroke="#92318b" stroke-width="3.80" stroke-linecap="round" fill="none"/>
<path d="M213.0 426.7h0M213.0 428.9h0M214.4 426.6h0M214.4 429.2h0M219.0 429.1h0" stroke="#7f3b90" stroke-width="3.80" stroke-linecap="round" fill="none"/>
<path d="M215.9 427.0h0M217.7 427.0h0M219.0 427.0h0" stroke="#a92588" stroke-width="3.80" stroke-linecap="round" fill="none"/>
<path d="M225.3 427.7h0M228.1 428.3h0M228.1 430.2h0M230.1 429.0h0M231.5 423.1h0M231.5 428.2h0M231.5 433.1h0M232.5 423.1h0M234.3 424.2h0M234.3 431.8h0M235.9 422.2h0M237.4 426.9h0M237.4 427.1h0M237.4 431.6h0M239.1 421.7h0M239.1 424.6h0M239.1 429.0h0M240.2 426.9h0M241.9 425.6h0M241.9 427.9h0M244.1 425.3h0M244.1 433.2h0M247.0 427.8h0" stroke="#3d65b6" stroke-width="3.80" stroke-linecap="round" fill="none"/>
<path d="M226.7 427.0h0M226.7 429.4h0M230.1 426.8h0M231.5 425.4h0M232.5 425.7h0M232.5 430.4h0M232.5 433.1h0M234.3 427.1h0M235.9 429.0h0M235.9 434.0h0M237.4 421.8h0M237.4 424.5h0M237.4 421.8h0M237.4 424.4h0M237.4 429.4h0M237.4 434.3h0M239.1 431.6h0M239.1 434.3h0M240.2 422.0h0M240.2 431.4h0M240.2 434.4h0M241.9 423.3h0M241.9 430.2h0M244.1 430.4h0M245.6 426.5h0M245.6 429.0h0M248.5 429.4h0" stroke="#366fbc" stroke-width="3.80" stroke-linecap="round" fill="none"/>
<path d="M228.1 425.5h0M230.1 424.3h0M231.5 430.2h0M232.5 428.3h0M234.3 429.4h0M235.9 431.9h0M237.4 429.1h0M237.4 431.6h0M239.1 426.6h0M240.2 424.5h0M244.1 423.3h0M247.0 425.3h0M247.0 430.5h0M248.5 426.9h0M249.5 427.9h0" stroke="#455caf" stroke-width="3.80" stroke-linecap="round" fill="none"/>
<path d="M230.1 431.5h0M234.3 422.1h0M234.3 434.2h0M235.9 424.2h0M235.9 426.5h0M237.4 434.3h0M240.2 429.1h0M241.9 432.7h0M245.6 424.1h0M245.6 431.9h0" stroke="#2e78c3" stroke-width="3.80" stroke-linecap="round" fill="none"/>
<path d="M244.1 428.1h0" stroke="#4f53a8" stroke-width="3.80" stroke-linecap="round" fill="none"/>
<path d="M209.6 450.6h0M211.3 447.7h0M211.3 453.1h0M212.6 447.9h0M212.6 450.4h0M212.6 455.5h0M213.7 444.6h0M213.7 446.6h0M213.7 451.5h0M213.7 456.5h0M215.3 449.1h0M215.3 456.5h0M215.2 449.4h0M215.2 451.5h0M217.0 449.0h0M217.0 454.3h0M217.9 455.5h0M219.0 450.6h0M220.9 450.1h0" stroke="#2e78c3" stroke-width="3.80" stroke-linecap="round" fill="none"/>
<path d="M211.3 450.3h0M213.7 449.1h0M213.7 454.2h0M215.3 444.4h0M215.2 444.1h0M215.2 447.0h0M215.2 454.3h0M215.2 456.4h0M217.0 446.8h0M217.9 445.7h0" stroke="#3d65b6" stroke-width="3.80" stroke-linecap="round" fill="none"/>
<path d="M212.6 445.8h0M212.6 453.0h0M215.3 446.6h0M215.3 451.8h0M215.3 454.2h0M217.0 444.1h0M217.0 451.7h0M217.0 456.4h0M217.9 447.7h0M217.9 450.2h0M217.9 453.0h0M219.0 452.9h0" stroke="#366fbc" stroke-width="3.80" stroke-linecap="round" fill="none"/>
<path d="M219.0 448.0h0" stroke="#455caf" stroke-width="3.80" stroke-linecap="round" fill="none"/>
<path d="M222.4 447.9h0M222.4 450.3h0M225.5 450.5h0M228.4 452.6h0" stroke="#6f4398" stroke-width="3.80" stroke-linecap="round" fill="none"/>
<path d="M222.4 453.1h0M224.2 452.9h0M225.5 448.2h0M227.2 450.5h0" stroke="#92318b" stroke-width="3.80" stroke-linecap="round" fill="none"/>
<path d="M224.2 447.7h0M224.2 450.5h0M225.5 452.6h0M227.2 448.0h0M227.2 453.1h0M228.4 447.8h0" stroke="#7f3b90" stroke-width="3.80" stroke-linecap="round" fill="none"/>
<path d="M228.4 450.5h0" stroke="#4f53a8" stroke-width="3.80" stroke-linecap="round" fill="none"/>
<path d="M230.5 450.7h0M231.3 451.4h0M236.5 446.6h0M236.5 454.0h0M238.4 446.7h0M238.4 449.5h0M238.4 451.3h0M237.8 449.0h0M239.1 449.0h0M239.1 454.2h0M241.6 453.9h0M242.8 452.8h0" stroke="#e50e65" stroke-width="3.80" stroke-linecap="round" fill="none"/>
<path d="M231.3 449.3h0M233.6 453.0h0M237.8 454.4h0M242.8 450.6h0M244.6 451.7h0" stroke="#de0b7a" stroke-width="3.80" stroke-linecap="round" fill="none"/>
<path d="M233.6 448.0h0M233.6 450.7h0M234.5 446.7h0M234.5 449.2h0M234.5 454.4h0M236.5 449.1h0M237.8 451.8h0M239.1 446.8h0M239.1 451.6h0M241.6 449.0h0M241.6 451.5h0M242.8 447.8h0M244.6 449.4h0M245.5 450.1h0" stroke="#e20d6f" stroke-width="3.80" stroke-linecap="round" fill="none"/>
<path d="M234.5 451.5h0M236.5 451.3h0M238.4 454.0h0M237.8 446.8h0M241.6 446.7h0" stroke="#e8105a" stroke-width="3.80" stroke-linecap="round" fill="none"/>
<path d="M212.7 473.1h0M214.4 471.3h0M215.9 471.4h0M215.9 476.6h0" stroke="#3d65b6" stroke-width="3.80" stroke-linecap="round" fill="none"/>
<path d="M214.4 469.2h0M214.4 473.8h0M216.1 469.0h0M216.1 476.4h0M218.0 469.0h0M218.0 471.5h0M218.0 476.6h0" stroke="#2e78c3" stroke-width="3.80" stroke-linecap="round" fill="none"/>
<path d="M214.4 476.6h0M216.1 471.3h0M216.1 474.2h0M215.9 469.4h0M215.9 473.9h0M218.0 474.3h0M219.8 473.0h0" stroke="#366fbc" stroke-width="3.80" stroke-linecap="round" fill="none"/>
<path d="M219.7 473.1h0M221.2 469.0h0M221.2 473.9h0M223.0 466.8h0M223.0 469.0h0M223.0 471.4h0M223.5 472.6h0M223.5 467.9h0M223.5 475.5h0M223.5 480.2h0M226.7 474.0h0" stroke="#5f4ba0" stroke-width="3.80" stroke-linecap="round" fill="none"/>
<path d="M221.2 471.7h0M223.0 474.3h0M223.5 465.4h0M223.5 477.7h0M223.5 480.4h0M223.5 465.4h0M223.5 470.6h0M223.5 477.6h0M225.0 469.0h0M225.0 471.8h0M225.0 476.3h0M226.7 469.4h0M226.7 471.5h0" stroke="#6f4398" stroke-width="3.80" stroke-linecap="round" fill="none"/>
<path d="M221.2 476.6h0M223.5 467.7h0M223.5 475.5h0M223.5 472.7h0M225.0 466.9h0M226.7 476.4h0M228.1 473.1h0" stroke="#7f3b90" stroke-width="3.80" stroke-linecap="round" fill="none"/>
<path d="M223.0 476.7h0M223.0 478.9h0M223.5 470.1h0M225.0 474.0h0" stroke="#92318b" stroke-width="3.80" stroke-linecap="round" fill="none"/>
<path d="M225.0 478.8h0" stroke="#4f53a8" stroke-width="3.80" stroke-linecap="round" fill="none"/>
<path d="M229.1 470.6h0M229.1 472.6h0M231.0 475.0h0M233.2 470.3h0M233.2 472.5h0" stroke="#de0b7a" stroke-width="3.80" stroke-linecap="round" fill="none"/>
<path d="M229.1 475.4h0M231.0 473.0h0M245.0 474.1h0" stroke="#e20d6f" stroke-width="3.80" stroke-linecap="round" fill="none"/>
<path d="M231.0 470.2h0M233.2 475.2h0M234.2 470.4h0M234.2 475.0h0M238.3 471.8h0M239.6 473.9h0M241.3 474.0h0M243.0 474.1h0" stroke="#e50e65" stroke-width="3.80" stroke-linecap="round" fill="none"/>
<path d="M234.2 473.0h0M236.0 471.8h0M236.0 473.9h0M238.3 474.0h0M239.6 471.4h0M241.3 471.4h0M243.0 471.6h0M245.0 471.7h0" stroke="#e8105a" stroke-width="3.80" stroke-linecap="round" fill="none"/>
<path d="M211.0 493.9h0M212.2 493.8h0M212.2 496.4h0M215.5 494.0h0M216.7 496.7h0" stroke="#366fbc" stroke-width="3.80" stroke-linecap="round" fill="none"/>
<path d="M211.0 496.3h0M214.3 494.1h0" stroke="#2e78c3" stroke-width="3.80" stroke-linecap="round" fill="none"/>
<path d="M214.3 496.2h0M215.5 496.3h0M227.2 495.2h0" stroke="#3d65b6" stroke-width="3.80" stroke-linecap="round" fill="none"/>
<path d="M216.7 493.9h0M217.5 495.4h0M222.1 490.0h0" stroke="#455caf" stroke-width="3.80" stroke-linecap="round" fill="none"/>
<path d="M219.6 491.4h0M219.6 494.2h0M219.6 496.6h0M221.0 494.0h0M222.1 487.6h0M222.1 497.8h0M222.1 500.1h0M222.1 493.0h0M222.1 500.3h0M224.4 496.3h0M224.4 498.7h0M225.2 498.7h0" stroke="#6f4398" stroke-width="3.80" stroke-linecap="round" fill="none"/>
<path d="M219.6 498.7h0M222.1 502.4h0M225.2 493.7h0" stroke="#4f53a8" stroke-width="3.80" stroke-linecap="round" fill="none"/>
<path d="M221.0 489.0h0M221.0 491.5h0M221.0 498.8h0M221.0 501.1h0M222.1 490.6h0M222.1 495.4h0M222.1 497.8h0M224.4 489.3h0M224.4 491.6h0M224.4 494.1h0M224.4 501.3h0M225.2 491.3h0M225.2 496.3h0" stroke="#5f4ba0" stroke-width="3.80" stroke-linecap="round" fill="none"/>
<path d="M221.0 496.3h0M222.1 492.5h0M222.1 494.9h0M222.1 502.7h0M222.1 488.0h0" stroke="#7f3b90" stroke-width="3.80" stroke-linecap="round" fill="none"/>
<path d="M228.5 495.4h0M230.4 496.5h0M232.0 495.2h0M232.0 497.4h0M233.3 491.4h0M233.7 494.2h0M233.7 498.7h0M234.6 497.4h0M236.3 493.9h0M236.3 496.5h0" stroke="#e8105a" stroke-width="3.80" stroke-linecap="round" fill="none"/>
<path d="M230.4 493.8h0M233.3 499.1h0M234.6 492.9h0M234.6 495.5h0M238.6 494.9h0" stroke="#e50e65" stroke-width="3.80" stroke-linecap="round" fill="none"/>
<path d="M232.0 493.0h0M233.7 496.6h0" stroke="#de0b7a" stroke-width="3.80" stroke-linecap="round" fill="none"/>
<path d="M233.3 494.0h0" stroke="#d60d83" stroke-width="3.80" stroke-linecap="round" fill="none"/>
<path d="M233.3 496.3h0M233.7 491.4h0" stroke="#e20d6f" stroke-width="3.80" stroke-linecap="round" fill="none"/>
<path d="M214.6 517.4h0" stroke="#a92588" stroke-width="3.80" stroke-linecap="round" fill="none"/>
<path d="M216.8 513.6h0M225.2 517.7h0" stroke="#3d65b6" stroke-width="3.80" stroke-linecap="round" fill="none"/>
<path d="M216.8 516.5h0M223.2 517.4h0" stroke="#5f4ba0" stroke-width="3.80" stroke-linecap="round" fill="none"/>
<path d="M216.8 518.7h0M240.3 519.0h0M244.3 519.0h0" stroke="#e50e65" stroke-width="3.80" stroke-linecap="round" fill="none"/>
<path d="M216.8 521.4h0M218.6 519.8h0M218.6 522.2h0M220.2 512.7h0M220.2 517.5h0M220.2 524.9h0M222.1 512.6h0M222.1 520.2h0M222.1 522.6h0M222.1 515.3h0M222.1 517.9h0M222.1 519.9h0M223.2 510.5h0M225.2 515.0h0" stroke="#d60d83" stroke-width="3.80" stroke-linecap="round" fill="none"/>
<path d="M218.6 512.6h0M218.6 517.5h0M222.1 512.5h0M223.2 512.7h0M223.2 515.2h0M223.2 522.6h0M228.6 517.4h0" stroke="#c01985" stroke-width="3.80" stroke-linecap="round" fill="none"/>
<path d="M218.6 515.2h0M220.2 515.2h0M220.2 519.9h0M220.2 522.4h0M222.1 510.0h0M222.1 522.6h0M222.1 525.1h0M223.2 520.1h0M223.2 525.2h0M225.2 512.9h0M226.8 513.7h0M226.8 519.0h0" stroke="#de0b7a" stroke-width="3.80" stroke-linecap="round" fill="none"/>
<path d="M220.2 510.4h0M222.1 510.2h0M222.1 517.6h0M222.1 525.1h0M226.8 521.2h0M244.3 516.5h0" stroke="#e20d6f" stroke-width="3.80" stroke-linecap="round" fill="none"/>
<path d="M222.1 514.9h0M225.2 520.2h0" stroke="#366fbc" stroke-width="3.80" stroke-linecap="round" fill="none"/>
<path d="M225.2 522.6h0" stroke="#7f3b90" stroke-width="3.80" stroke-linecap="round" fill="none"/>
<path d="M226.8 516.1h0" stroke="#92318b" stroke-width="3.80" stroke-linecap="round" fill="none"/>
<path d="M231.9 516.2h0M231.9 519.1h0M234.3 516.5h0M234.3 518.6h0M235.7 516.6h0M235.7 518.8h0M236.8 516.6h0M236.8 518.7h0M238.6 516.7h0M238.6 518.8h0M240.3 516.4h0M242.0 516.4h0M242.0 518.6h0" stroke="#e8105a" stroke-width="3.80" stroke-linecap="round" fill="none"/>
<path d="M210.5 538.8h0M210.5 541.3h0M212.2 538.9h0M215.3 541.5h0M218.5 538.6h0M218.5 541.3h0" stroke="#366fbc" stroke-width="3.80" stroke-linecap="round" fill="none"/>
<path d="M212.2 541.3h0M213.4 539.0h0M213.4 541.0h0M217.4 538.8h0" stroke="#2e78c3" stroke-width="3.80" stroke-linecap="round" fill="none"/>
<path d="M215.3 538.6h0M217.4 541.2h0" stroke="#3d65b6" stroke-width="3.80" stroke-linecap="round" fill="none"/>
<path d="M219.6 540.2h0M221.3 536.2h0M221.3 538.6h0M223.1 540.3h0M223.1 542.6h0M223.6 539.1h0M223.6 541.4h0M223.9 533.6h0M223.9 541.2h0M223.9 543.9h0M225.5 540.0h0M228.4 539.9h0" stroke="#7f3b90" stroke-width="3.80" stroke-linecap="round" fill="none"/>
<path d="M221.3 541.1h0M221.3 543.7h0M223.1 537.7h0M223.1 544.8h0M223.6 536.4h0M225.5 535.3h0M225.5 544.7h0M226.2 538.5h0M226.2 541.2h0M226.2 543.4h0" stroke="#6f4398" stroke-width="3.80" stroke-linecap="round" fill="none"/>
<path d="M223.1 534.9h0M223.6 533.7h0M223.6 543.8h0M223.9 546.3h0M226.2 536.5h0" stroke="#92318b" stroke-width="3.80" stroke-linecap="round" fill="none"/>
<path d="M223.6 546.0h0M223.9 536.3h0M223.9 538.5h0" stroke="#5f4ba0" stroke-width="3.80" stroke-linecap="round" fill="none"/>
<path d="M225.5 537.4h0" stroke="#a92588" stroke-width="3.80" stroke-linecap="round" fill="none"/>
<path d="M225.5 542.6h0" stroke="#4f53a8" stroke-width="3.80" stroke-linecap="round" fill="none"/>
<path d="M228.2 540.0h0M228.6 536.4h0M230.7 536.6h0M230.7 543.4h0M230.7 545.9h0M231.4 532.4h0M231.4 534.8h0M231.4 540.1h0M231.3 532.6h0M231.3 537.6h0M231.3 540.0h0M231.3 542.6h0M231.3 544.8h0M231.3 547.3h0M233.0 536.3h0M233.0 538.7h0M233.0 543.6h0M233.0 546.1h0M234.1 541.4h0" stroke="#e8105a" stroke-width="3.80" stroke-linecap="round" fill="none"/>
<path d="M228.6 538.6h0M228.6 541.0h0M228.6 543.8h0M230.7 534.1h0M234.1 543.7h0" stroke="#de0b7a" stroke-width="3.80" stroke-linecap="round" fill="none"/>
<path d="M230.7 538.7h0M231.4 537.6h0M231.4 545.2h0M231.3 535.2h0M233.0 533.7h0M233.0 541.0h0M234.1 536.6h0M234.1 538.9h0M235.5 539.8h0" stroke="#e50e65" stroke-width="3.80" stroke-linecap="round" fill="none"/>
<path d="M230.7 541.0h0M231.4 542.5h0M231.4 547.6h0" stroke="#e20d6f" stroke-width="3.80" stroke-linecap="round" fill="none"/>
<path d="M213.0 562.1h0M214.7 560.0h0M214.7 562.2h0M216.3 563.5h0M216.3 565.8h0M217.7 558.9h0M217.7 561.2h0M217.6 566.2h0M218.8 565.8h0M220.7 564.8h0" stroke="#e50e65" stroke-width="3.80" stroke-linecap="round" fill="none"/>
<path d="M214.7 564.8h0M216.3 558.5h0M217.7 563.4h0M217.6 558.5h0M217.6 561.4h0M218.8 558.7h0M220.7 560.1h0M220.7 562.4h0" stroke="#e8105a" stroke-width="3.80" stroke-linecap="round" fill="none"/>
<path d="M216.3 561.3h0" stroke="#d60d83" stroke-width="3.80" stroke-linecap="round" fill="none"/>
<path d="M217.7 566.0h0M218.8 561.4h0M218.8 563.8h0M222.3 562.4h0" stroke="#e20d6f" stroke-width="3.80" stroke-linecap="round" fill="none"/>
<path d="M217.6 563.8h0" stroke="#de0b7a" stroke-width="3.80" stroke-linecap="round" fill="none"/>
<path d="M221.7 562.7h0M223.4 566.1h0M224.8 568.6h0M226.2 559.7h0M225.7 555.1h0M225.7 557.7h0M225.7 562.3h0M225.7 569.8h0M227.0 556.1h0M228.2 563.8h0M228.2 566.0h0" stroke="#7f3b90" stroke-width="3.80" stroke-linecap="round" fill="none"/>
<path d="M223.4 558.6h0M223.4 563.5h0M224.8 558.6h0M224.8 561.3h0M224.8 563.9h0M226.2 557.6h0M226.2 562.5h0M225.7 560.2h0M225.7 567.2h0M228.2 558.8h0M228.2 561.3h0M230.3 562.2h0" stroke="#92318b" stroke-width="3.80" stroke-linecap="round" fill="none"/>
<path d="M223.4 561.4h0M224.8 566.3h0M226.2 569.9h0M227.0 558.7h0" stroke="#a92588" stroke-width="3.80" stroke-linecap="round" fill="none"/>
<path d="M224.8 556.2h0M226.2 555.0h0M226.2 565.1h0M226.2 567.3h0M225.7 564.7h0M227.0 561.2h0M227.0 563.4h0M227.0 568.5h0" stroke="#6f4398" stroke-width="3.80" stroke-linecap="round" fill="none"/>
<path d="M227.0 566.3h0" stroke="#5f4ba0" stroke-width="3.80" stroke-linecap="round" fill="none"/>
<path d="M230.8 562.6h0M231.8 563.9h0M232.9 560.0h0M233.8 561.1h0M233.8 566.3h0M235.1 562.5h0M236.9 561.4h0M236.9 563.3h0" stroke="#366fbc" stroke-width="3.80" stroke-linecap="round" fill="none"/>
<path d="M231.8 560.9h0M233.8 558.5h0M233.8 563.4h0M233.6 561.0h0M233.6 563.4h0M235.1 564.9h0M237.5 562.6h0" stroke="#2e78c3" stroke-width="3.80" stroke-linecap="round" fill="none"/>
<path d="M232.9 562.3h0M232.9 564.6h0M233.6 558.8h0" stroke="#3d65b6" stroke-width="3.80" stroke-linecap="round" fill="none"/>
<path d="M233.6 566.1h0" stroke="#4f53a8" stroke-width="3.80" stroke-linecap="round" fill="none"/>
<path d="M235.1 559.8h0" stroke="#455caf" stroke-width="3.80" stroke-linecap="round" fill="none"/>
<path d="M213.3 584.7h0M214.9 583.5h0M214.9 586.2h0M216.6 582.5h0M216.6 584.9h0M216.6 587.2h0M217.7 582.5h0M217.7 587.1h0M217.8 582.2h0M217.8 584.7h0M217.8 587.5h0M219.3 582.5h0M219.3 584.5h0M219.3 587.5h0M220.2 583.3h0" stroke="#e8105a" stroke-width="3.80" stroke-linecap="round" fill="none"/>
<path d="M217.7 585.0h0M220.2 586.1h0" stroke="#e50e65" stroke-width="3.80" stroke-linecap="round" fill="none"/>
<path d="M221.8 584.9h0" stroke="#e20d6f" stroke-width="3.80" stroke-linecap="round" fill="none"/>
<path d="M222.5 584.9h0M224.2 584.8h0M224.2 587.5h0M225.5 577.3h0M225.5 582.3h0M225.5 584.7h0M225.5 587.4h0M225.5 589.9h0M225.5 577.4h0M225.5 580.0h0M225.5 587.0h0M225.5 580.1h0M225.5 582.5h0M225.5 584.7h0M226.6 584.7h0" stroke="#92318b" stroke-width="3.80" stroke-linecap="round" fill="none"/>
<path d="M224.2 579.9h0M224.2 589.8h0" stroke="#6f4398" stroke-width="3.80" stroke-linecap="round" fill="none"/>
<path d="M224.2 582.4h0" stroke="#4f53a8" stroke-width="3.80" stroke-linecap="round" fill="none"/>
<path d="M225.5 579.7h0M225.5 592.4h0M225.5 582.2h0M225.5 589.8h0M225.5 589.9h0" stroke="#7f3b90" stroke-width="3.80" stroke-linecap="round" fill="none"/>
<path d="M225.5 585.0h0M225.5 592.0h0M225.5 587.3h0" stroke="#a92588" stroke-width="3.80" stroke-linecap="round" fill="none"/>
<path d="M228.5 584.8h0M231.6 584.9h0M237.3 584.8h0M244.0 584.9h0" stroke="#2e78c3" stroke-width="3.80" stroke-linecap="round" fill="none"/>
<path d="M230.6 584.9h0M240.9 584.9h0" stroke="#3d65b6" stroke-width="3.80" stroke-linecap="round" fill="none"/>
<path d="M234.0 584.6h0M235.3 584.9h0M238.7 584.7h0M242.9 584.8h0" stroke="#366fbc" stroke-width="3.80" stroke-linecap="round" fill="none"/>
<path d="M157.9 607.3h0M213.3 603.7h0M289.0 607.4h0M225.7 603.2h0M245.4 612.8h0M215.2 604.6h0M219.0 604.2h0" stroke="#2e78c3" stroke-width="3.80" stroke-linecap="round" fill="none"/>
<path d="M254.1 605.5h0M248.2 601.5h0M228.4 603.8h0" stroke="#3d65b6" stroke-width="3.80" stroke-linecap="round" fill="none"/>
<path d="M206.0 601.1h0M274.5 606.8h0M161.9 607.2h0M229.7 601.4h0M254.5 601.3h0M314.2 607.2h0M262.4 607.5h0M246.1 600.9h0M233.6 613.8h0" stroke="#92318b" stroke-width="3.80" stroke-linecap="round" fill="none"/>
<path d="M308.2 607.2h0M264.6 609.1h0M252.1 605.3h0M228.0 611.0h0M230.8 613.7h0" stroke="#6f4398" stroke-width="3.80" stroke-linecap="round" fill="none"/>
<path d="M281.6 606.6h0M209.6 602.6h0M259.2 608.8h0M203.2 609.5h0" stroke="#e50e65" stroke-width="3.80" stroke-linecap="round" fill="none"/>
<path d="M272.4 606.8h0M214.6 608.9h0M207.7 601.9h0" stroke="#e8105a" stroke-width="3.80" stroke-linecap="round" fill="none"/>
<path d="M189.7 607.4h0M261.1 608.9h0M258.4 607.1h0" stroke="#4f53a8" stroke-width="3.80" stroke-linecap="round" fill="none"/>
<path d="M286.8 607.3h0M270.1 607.3h0M206.9 613.7h0" stroke="#de0b7a" stroke-width="3.80" stroke-linecap="round" fill="none"/>
<path d="M310.2 607.3h0M210.5 604.4h0M251.9 609.9h0M209.3 611.5h0" stroke="#c01985" stroke-width="3.80" stroke-linecap="round" fill="none"/>
<path d="M256.4 603.9h0M204.1 601.4h0M222.6 612.3h0M220.9 604.2h0M242.9 607.6h0M203.5 603.8h0M204.6 608.1h0" stroke="#2e78c3" stroke-width="3.80" stroke-linecap="round" fill="none"/>
<path d="M276.5 607.7h0M256.5 601.6h0M264.4 606.4h0" stroke="#3d65b6" stroke-width="3.80" stroke-linecap="round" fill="none"/>
<path d="M292.3 607.5h0M222.9 607.7h0M236.6 600.9h0M160.0 607.4h0M217.0 602.2h0M244.4 608.8h0M225.1 606.8h0M212.4 613.0h0M254.1 613.8h0" stroke="#92318b" stroke-width="3.80" stroke-linecap="round" fill="none"/>
<path d="M295.7 606.9h0M216.2 613.5h0M220.9 606.9h0M247.4 606.2h0M202.7 607.6h0" stroke="#6f4398" stroke-width="3.80" stroke-linecap="round" fill="none"/>
<path d="M171.9 607.6h0M253.6 603.0h0M215.8 607.6h0M224.3 609.1h0" stroke="#e50e65" stroke-width="3.80" stroke-linecap="round" fill="none"/>
<path d="M304.4 607.1h0M234.8 612.0h0M224.3 605.0h0" stroke="#e8105a" stroke-width="3.80" stroke-linecap="round" fill="none"/>
<path d="M316.5 607.3h0M247.2 613.8h0M245.6 604.6h0" stroke="#4f53a8" stroke-width="3.80" stroke-linecap="round" fill="none"/>
<path d="M204.8 606.0h0M228.6 607.7h0M188.4 606.0h0" stroke="#de0b7a" stroke-width="3.80" stroke-linecap="round" fill="none"/>
<path d="M229.1 612.6h0M198.3 606.6h0M197.4 604.3h0M241.3 602.7h0" stroke="#c01985" stroke-width="3.80" stroke-linecap="round" fill="none"/>
<path d="M174.8 607.6h0M323.6 607.5h0M249.7 607.4h0M226.0 608.3h0M253.0 612.0h0M232.0 609.8h0M235.3 605.4h0" stroke="#2e78c3" stroke-width="3.80" stroke-linecap="round" fill="none"/>
<path d="M243.9 601.0h0M230.8 604.1h0M249.9 610.5h0" stroke="#3d65b6" stroke-width="3.80" stroke-linecap="round" fill="none"/>
<path d="M267.5 608.2h0M205.9 603.5h0M237.9 603.2h0M182.3 607.4h0M229.9 609.1h0M208.1 605.3h0M213.4 607.2h0M230.1 605.9h0M200.8 610.8h0" stroke="#92318b" stroke-width="3.80" stroke-linecap="round" fill="none"/>
<path d="M184.7 607.0h0M234.5 609.3h0M232.2 601.0h0M243.3 612.9h0" stroke="#6f4398" stroke-width="3.80" stroke-linecap="round" fill="none"/>
<path d="M177.1 607.6h0M152.5 607.0h0M204.3 611.9h0" stroke="#e50e65" stroke-width="3.80" stroke-linecap="round" fill="none"/>
<path d="M155.8 607.3h0M255.2 610.1h0M252.2 600.7h0" stroke="#e8105a" stroke-width="3.80" stroke-linecap="round" fill="none"/>
<path d="M255.8 612.9h0M257.1 609.8h0M227.3 602.2h0" stroke="#4f53a8" stroke-width="3.80" stroke-linecap="round" fill="none"/>
<path d="M169.0 607.5h0M306.3 606.9h0M230.2 611.1h0" stroke="#de0b7a" stroke-width="3.80" stroke-linecap="round" fill="none"/>
<path d="M213.8 611.9h0M240.4 612.2h0M192.0 607.8h0M262.7 609.9h0" stroke="#c01985" stroke-width="3.80" stroke-linecap="round" fill="none"/>
<path d="M180.4 607.6h0M297.6 607.6h0M202.0 605.7h0M223.2 601.2h0M318.3 606.9h0M228.1 605.8h0M232.3 603.0h0" stroke="#2e78c3" stroke-width="3.80" stroke-linecap="round" fill="none"/>
<path d="M301.5 607.3h0M164.2 607.2h0M251.1 612.8h0" stroke="#3d65b6" stroke-width="3.80" stroke-linecap="round" fill="none"/>
<path d="M200.5 608.4h0M166.3 607.5h0M232.1 612.2h0M191.2 605.8h0M266.4 606.6h0M223.6 610.8h0M225.2 611.7h0M240.5 607.2h0" stroke="#92318b" stroke-width="3.80" stroke-linecap="round" fill="none"/>
<path d="M320.4 607.3h0M248.2 612.2h0M215.1 602.2h0M198.9 609.8h0" stroke="#6f4398" stroke-width="3.80" stroke-linecap="round" fill="none"/>
<path d="M257.8 612.2h0M245.6 610.5h0M239.8 609.1h0" stroke="#e50e65" stroke-width="3.80" stroke-linecap="round" fill="none"/>
<path d="M208.6 609.1h0M218.5 600.7h0" stroke="#e8105a" stroke-width="3.80" stroke-linecap="round" fill="none"/>
<path d="M240.6 600.8h0M212.4 601.2h0M248.7 603.4h0" stroke="#4f53a8" stroke-width="3.80" stroke-linecap="round" fill="none"/>
<path d="M196.0 605.9h0M217.4 609.1h0" stroke="#de0b7a" stroke-width="3.80" stroke-linecap="round" fill="none"/>
<path d="M220.6 612.4h0M312.2 606.9h0M250.5 601.3h0" stroke="#c01985" stroke-width="3.80" stroke-linecap="round" fill="none"/>
<path d="M222.7 604.0h0M268.7 606.0h0M200.6 603.4h0M237.5 610.2h0M212.0 610.5h0M249.9 605.5h0" stroke="#2e78c3" stroke-width="3.80" stroke-linecap="round" fill="none"/>
<path d="M236.9 613.7h0M242.8 609.7h0M227.5 613.7h0" stroke="#3d65b6" stroke-width="3.80" stroke-linecap="round" fill="none"/>
<path d="M197.2 608.9h0M218.7 607.2h0M260.2 605.0h0M260.6 607.0h0M215.5 610.6h0M226.5 600.6h0M220.2 610.4h0M236.9 607.8h0" stroke="#92318b" stroke-width="3.80" stroke-linecap="round" fill="none"/>
<path d="M210.4 613.6h0M263.6 604.6h0M251.5 607.8h0M220.9 600.8h0" stroke="#6f4398" stroke-width="3.80" stroke-linecap="round" fill="none"/>
<path d="M261.9 605.7h0M238.4 606.9h0M234.2 606.9h0" stroke="#e50e65" stroke-width="3.80" stroke-linecap="round" fill="none"/>
<path d="M211.4 608.7h0M243.6 605.8h0" stroke="#e8105a" stroke-width="3.80" stroke-linecap="round" fill="none"/>
<path d="M247.3 609.9h0M237.2 605.1h0" stroke="#4f53a8" stroke-width="3.80" stroke-linecap="round" fill="none"/>
<path d="M258.8 602.7h0M207.2 607.5h0" stroke="#de0b7a" stroke-width="3.80" stroke-linecap="round" fill="none"/>
<path d="M278.7 607.5h0M299.5 607.3h0M207.4 610.7h0" stroke="#c01985" stroke-width="3.80" stroke-linecap="round" fill="none"/>
<path d="M218.2 612.7h0M254.3 607.5h0M211.5 606.7h0M221.7 609.0h0M246.4 607.9h0M238.5 612.5h0" stroke="#2e78c3" stroke-width="3.80" stroke-linecap="round" fill="none"/>
<path d="M233.8 604.2h0M231.5 607.9h0" stroke="#3d65b6" stroke-width="3.80" stroke-linecap="round" fill="none"/>
<path d="M219.8 602.3h0M225.3 613.9h0M240.4 605.2h0M194.7 608.7h0M243.4 603.7h0M257.8 605.2h0M251.7 602.9h0M209.4 607.1h0" stroke="#92318b" stroke-width="3.80" stroke-linecap="round" fill="none"/>
<path d="M283.7 607.5h0M194.1 605.5h0M249.4 613.7h0M238.3 601.3h0" stroke="#6f4398" stroke-width="3.80" stroke-linecap="round" fill="none"/>
<path d="M255.8 606.6h0M200.0 606.0h0M226.2 605.3h0" stroke="#e50e65" stroke-width="3.80" stroke-linecap="round" fill="none"/>
<path d="M246.8 602.7h0M259.5 611.1h0" stroke="#e8105a" stroke-width="3.80" stroke-linecap="round" fill="none"/>
<path d="M217.0 604.3h0M202.6 611.2h0" stroke="#4f53a8" stroke-width="3.80" stroke-linecap="round" fill="none"/>
<path d="M187.4 607.8h0M234.3 602.1h0" stroke="#de0b7a" stroke-width="3.80" stroke-linecap="round" fill="none"/>
<path d="M205.5 609.8h0M232.3 606.3h0M210.1 600.7h0" stroke="#c01985" stroke-width="3.80" stroke-linecap="round" fill="none"/>
<line x1="151.4" y1="629.5" x2="324.2" y2="629.5" stroke="#3a3a3a" stroke-width="1.15"/>
<line x1="176.0" y1="629.6" x2="176.0" y2="632.6" stroke="#333" stroke-width="1"/>
<text x="176.0" y="643.3" font-size="10.30" text-anchor="middle" textLength="22.6" lengthAdjust="spacingAndGlyphs">−0.5</text>
<line x1="225.3" y1="629.6" x2="225.3" y2="632.6" stroke="#333" stroke-width="1"/>
<text x="225.3" y="643.3" font-size="10.30" text-anchor="middle" textLength="14.8" lengthAdjust="spacingAndGlyphs">0.0</text>
<line x1="274.6" y1="629.6" x2="274.6" y2="632.6" stroke="#333" stroke-width="1"/>
<text x="274.6" y="643.3" font-size="10.30" text-anchor="middle" textLength="14.8" lengthAdjust="spacingAndGlyphs">0.5</text>
<line x1="323.9" y1="629.6" x2="323.9" y2="632.6" stroke="#333" stroke-width="1"/>
<text x="323.9" y="643.3" font-size="10.30" text-anchor="middle" textLength="14.8" lengthAdjust="spacingAndGlyphs">1.0</text>
<text x="237.8" y="657.2" font-size="10.04" text-anchor="middle" textLength="184.0" lengthAdjust="spacingAndGlyphs">SHAP value (impact on model output)</text>
<text x="129.8" y="387.3" font-size="10.09" text-anchor="end" textLength="36.7" lengthAdjust="spacingAndGlyphs">IL1beta</text>
<text x="129.8" y="409.7" font-size="10.09" text-anchor="end" textLength="36.0" lengthAdjust="spacingAndGlyphs">APO.A1</text>
<text x="129.8" y="432.1" font-size="10.09" text-anchor="end" textLength="64.6" lengthAdjust="spacingAndGlyphs">(C2+C3) / C0</text>
<text x="129.8" y="454.5" font-size="10.09" text-anchor="end" textLength="29.2" lengthAdjust="spacingAndGlyphs">APO.E</text>
<text x="129.8" y="476.9" font-size="10.09" text-anchor="end" textLength="20.7" lengthAdjust="spacingAndGlyphs">AAA</text>
<text x="129.8" y="494.6" font-size="10.09" text-anchor="end" textLength="92.5" lengthAdjust="spacingAndGlyphs">4-deoxyerythronic </text>
<text x="129.8" y="505.4" font-size="10.09" text-anchor="end" textLength="20.3" lengthAdjust="spacingAndGlyphs">acid</text>
<text x="129.8" y="521.7" font-size="10.09" text-anchor="end" textLength="44.1" lengthAdjust="spacingAndGlyphs">Cpeptide</text>
<text x="129.8" y="544.1" font-size="10.09" text-anchor="end" textLength="30.3" lengthAdjust="spacingAndGlyphs">Leptin</text>
<text x="129.8" y="566.5" font-size="10.09" text-anchor="end" textLength="53.9" lengthAdjust="spacingAndGlyphs">Total PC ae</text>
<text x="129.8" y="588.9" font-size="10.09" text-anchor="end" textLength="42.0" lengthAdjust="spacingAndGlyphs">Tyr / Phe</text>
<text x="129.8" y="611.3" font-size="10.09" text-anchor="end" textLength="129.2" lengthAdjust="spacingAndGlyphs">Sum of 448 other features</text>
<rect x="334.5" y="361.0" width="3.4" height="268.8" fill="url(#cb)"/>
<text x="342.0" y="364.6" font-size="9.68" textLength="21.6" lengthAdjust="spacingAndGlyphs">High</text>
<text x="342.0" y="633.8" font-size="9.68" textLength="18.5" lengthAdjust="spacingAndGlyphs">Low</text>
<text x="371.4" y="495.4" font-size="10.92" text-anchor="middle" textLength="72.4" lengthAdjust="spacingAndGlyphs" transform="rotate(-90 371.4 495.4)">Feature value</text>
<line x1="164.6" y1="720.1" x2="326.6" y2="720.1" stroke="#d5d5d5" stroke-width="0.7" stroke-dasharray="1 2"/>
<line x1="164.6" y1="742.5" x2="326.6" y2="742.5" stroke="#d5d5d5" stroke-width="0.7" stroke-dasharray="1 2"/>
<line x1="164.6" y1="764.8" x2="326.6" y2="764.8" stroke="#d5d5d5" stroke-width="0.7" stroke-dasharray="1 2"/>
<line x1="164.6" y1="787.2" x2="326.6" y2="787.2" stroke="#d5d5d5" stroke-width="0.7" stroke-dasharray="1 2"/>
<line x1="164.6" y1="809.5" x2="326.6" y2="809.5" stroke="#d5d5d5" stroke-width="0.7" stroke-dasharray="1 2"/>
<line x1="164.6" y1="831.9" x2="326.6" y2="831.9" stroke="#d5d5d5" stroke-width="0.7" stroke-dasharray="1 2"/>
<line x1="164.6" y1="854.3" x2="326.6" y2="854.3" stroke="#d5d5d5" stroke-width="0.7" stroke-dasharray="1 2"/>
<line x1="164.6" y1="876.6" x2="326.6" y2="876.6" stroke="#d5d5d5" stroke-width="0.7" stroke-dasharray="1 2"/>
<line x1="164.6" y1="899.0" x2="326.6" y2="899.0" stroke="#d5d5d5" stroke-width="0.7" stroke-dasharray="1 2"/>
<line x1="164.6" y1="921.3" x2="326.6" y2="921.3" stroke="#d5d5d5" stroke-width="0.7" stroke-dasharray="1 2"/>
<line x1="164.6" y1="943.7" x2="326.6" y2="943.7" stroke="#d5d5d5" stroke-width="0.7" stroke-dasharray="1 2"/>
<line x1="244.9" y1="697.7" x2="244.9" y2="966.1" stroke="#9a9a9a" stroke-width="1.3"/>
<path d="M205.3 720.2h0M206.1 721.6h0M209.5 718.8h0M210.7 721.5h0M214.6 721.4h0M216.5 721.3h0M228.7 721.3h0M230.8 718.6h0M232.5 721.2h0M246.7 722.3h0M253.8 717.7h0M258.7 719.1h0M262.8 721.6h0" stroke="#3d65b6" stroke-width="4.00" stroke-linecap="round" fill="none"/>
<path d="M206.1 719.1h0M208.1 721.4h0M209.5 721.4h0M212.4 721.4h0M214.6 719.0h0M220.9 719.1h0M224.4 721.1h0M227.1 721.2h0M228.7 719.0h0M230.8 721.0h0M232.5 719.0h0M234.5 720.2h0M258.7 723.6h0" stroke="#366fbc" stroke-width="4.00" stroke-linecap="round" fill="none"/>
<path d="M208.1 718.6h0M210.7 719.1h0M212.4 718.7h0M216.5 718.6h0M220.9 721.4h0M222.6 718.7h0M222.6 721.4h0M224.4 718.6h0M226.1 718.8h0M226.1 721.3h0M227.1 718.7h0M250.4 722.8h0" stroke="#2e78c3" stroke-width="4.00" stroke-linecap="round" fill="none"/>
<path d="M217.8 718.8h0M217.8 721.2h0M250.4 720.0h0" stroke="#455caf" stroke-width="4.00" stroke-linecap="round" fill="none"/>
<path d="M243.0 719.8h0M248.6 718.9h0M248.6 723.6h0M250.4 717.4h0M252.4 721.2h0M252.4 723.5h0M253.2 712.5h0M253.2 725.0h0" stroke="#a92588" stroke-width="4.00" stroke-linecap="round" fill="none"/>
<path d="M244.6 718.6h0M246.7 717.5h0M248.6 716.2h0M250.4 725.2h0M252.4 726.2h0M253.2 715.1h0M253.8 727.6h0M257.1 722.7h0M261.1 717.5h0M262.8 718.7h0" stroke="#de0b7a" stroke-width="4.00" stroke-linecap="round" fill="none"/>
<path d="M244.6 721.2h0M246.7 720.0h0M250.4 715.3h0M252.4 718.9h0M253.8 715.2h0M253.8 724.8h0M255.9 713.8h0M255.9 716.5h0M255.9 718.6h0M255.9 721.0h0M255.9 723.9h0M257.1 717.9h0M258.7 716.2h0M258.7 721.2h0M264.5 720.3h0" stroke="#d60d83" stroke-width="4.00" stroke-linecap="round" fill="none"/>
<path d="M248.6 721.4h0M252.4 716.2h0M253.2 722.3h0M253.8 720.3h0M253.8 722.6h0M255.9 726.5h0M261.1 720.0h0" stroke="#c01985" stroke-width="4.00" stroke-linecap="round" fill="none"/>
<path d="M252.4 713.8h0M257.1 715.0h0" stroke="#4f53a8" stroke-width="4.00" stroke-linecap="round" fill="none"/>
<path d="M253.2 717.6h0M253.2 727.7h0M253.8 713.0h0M257.1 725.0h0M261.1 722.7h0" stroke="#e20d6f" stroke-width="4.00" stroke-linecap="round" fill="none"/>
<path d="M253.2 720.1h0" stroke="#7f3b90" stroke-width="4.00" stroke-linecap="round" fill="none"/>
<path d="M257.1 720.3h0" stroke="#5f4ba0" stroke-width="4.00" stroke-linecap="round" fill="none"/>
<path d="M180.6 742.6h0M214.2 742.6h0M220.3 742.6h0M227.4 739.9h0M228.4 742.2h0M228.0 745.1h0M230.0 744.9h0M231.6 739.8h0M232.8 741.0h0M251.5 739.7h0M251.5 745.1h0" stroke="#e50e65" stroke-width="4.00" stroke-linecap="round" fill="none"/>
<path d="M212.2 742.7h0M217.0 742.7h0M219.2 742.6h0M228.0 742.5h0M231.6 742.5h0M248.5 743.7h0M251.7 747.4h0" stroke="#e20d6f" stroke-width="4.00" stroke-linecap="round" fill="none"/>
<path d="M215.5 742.4h0M222.7 742.7h0M224.4 741.3h0M224.4 743.9h0M225.4 740.0h0M225.4 742.6h0M225.4 745.0h0M227.4 742.2h0M227.4 745.2h0M228.4 740.0h0M228.4 744.7h0M228.0 739.9h0M230.0 740.1h0M230.0 742.4h0M231.6 745.0h0M232.8 743.7h0M234.2 742.7h0M236.2 742.2h0M237.7 742.3h0M246.7 741.1h0M255.2 738.6h0" stroke="#e8105a" stroke-width="4.00" stroke-linecap="round" fill="none"/>
<path d="M244.5 742.6h0M248.5 746.0h0M250.0 744.9h0M251.7 737.5h0M251.5 742.4h0M251.5 747.5h0M253.1 737.7h0M255.2 745.9h0M256.3 743.7h0" stroke="#c01985" stroke-width="4.00" stroke-linecap="round" fill="none"/>
<path d="M246.7 743.6h0M248.5 738.7h0M250.0 742.6h0M251.5 737.3h0M251.5 749.6h0M253.1 747.6h0M255.2 741.1h0M258.4 742.4h0" stroke="#d60d83" stroke-width="4.00" stroke-linecap="round" fill="none"/>
<path d="M248.5 741.0h0M250.0 739.8h0M251.7 735.0h0M251.7 740.2h0M251.7 744.7h0M253.1 742.2h0M253.1 744.7h0M255.2 743.4h0" stroke="#de0b7a" stroke-width="4.00" stroke-linecap="round" fill="none"/>
<path d="M250.0 737.5h0M262.8 743.4h0M263.9 743.9h0M265.3 744.0h0" stroke="#455caf" stroke-width="4.00" stroke-linecap="round" fill="none"/>
<path d="M250.0 747.4h0M251.7 749.8h0M253.1 739.9h0M259.2 743.9h0M262.8 741.4h0M263.9 741.1h0M265.3 741.3h0" stroke="#366fbc" stroke-width="4.00" stroke-linecap="round" fill="none"/>
<path d="M251.7 742.5h0" stroke="#92318b" stroke-width="4.00" stroke-linecap="round" fill="none"/>
<path d="M251.5 735.1h0" stroke="#a92588" stroke-width="4.00" stroke-linecap="round" fill="none"/>
<path d="M256.3 741.3h0" stroke="#4f53a8" stroke-width="4.00" stroke-linecap="round" fill="none"/>
<path d="M259.2 741.0h0M272.9 742.5h0" stroke="#2e78c3" stroke-width="4.00" stroke-linecap="round" fill="none"/>
<path d="M260.8 740.9h0M260.8 743.9h0" stroke="#3d65b6" stroke-width="4.00" stroke-linecap="round" fill="none"/>
<path d="M216.7 764.8h0" stroke="#a92588" stroke-width="4.00" stroke-linecap="round" fill="none"/>
<path d="M218.5 764.5h0" stroke="#6f4398" stroke-width="4.00" stroke-linecap="round" fill="none"/>
<path d="M232.6 764.7h0" stroke="#5f4ba0" stroke-width="4.00" stroke-linecap="round" fill="none"/>
<path d="M239.3 764.9h0M242.8 767.5h0M244.1 763.4h0M244.1 766.3h0M245.8 764.7h0" stroke="#2e78c3" stroke-width="4.00" stroke-linecap="round" fill="none"/>
<path d="M241.2 761.0h0M241.2 763.3h0M241.2 766.1h0M242.8 762.2h0M242.8 769.5h0M242.3 760.1h0M242.3 762.4h0M242.3 767.3h0M242.3 769.7h0M244.1 760.9h0M244.1 768.6h0" stroke="#366fbc" stroke-width="4.00" stroke-linecap="round" fill="none"/>
<path d="M241.2 768.4h0M242.8 760.0h0M242.8 765.1h0M242.3 764.6h0" stroke="#3d65b6" stroke-width="4.00" stroke-linecap="round" fill="none"/>
<path d="M268.0 764.6h0M269.9 764.7h0M271.5 764.8h0M272.5 764.7h0M274.2 764.5h0M275.8 764.8h0M277.5 764.6h0M279.0 764.6h0M285.1 764.9h0M288.2 764.6h0M289.9 765.0h0M291.1 765.0h0M292.7 764.8h0M294.6 765.1h0M296.1 764.6h0" stroke="#e8105a" stroke-width="4.00" stroke-linecap="round" fill="none"/>
<path d="M286.6 764.7h0" stroke="#e50e65" stroke-width="4.00" stroke-linecap="round" fill="none"/>
<path d="M235.4 787.2h0" stroke="#e8105a" stroke-width="4.00" stroke-linecap="round" fill="none"/>
<path d="M238.8 787.2h0M239.4 788.5h0M242.9 782.3h0M242.3 782.1h0M243.8 790.9h0M243.8 793.0h0" stroke="#4f53a8" stroke-width="4.00" stroke-linecap="round" fill="none"/>
<path d="M239.4 783.5h0M241.1 780.9h0M241.1 791.0h0M241.1 793.4h0M242.9 787.1h0M242.9 789.5h0M242.9 794.3h0M242.3 779.9h0M242.3 784.6h0M242.3 787.1h0M242.3 789.6h0M243.8 780.8h0M243.8 783.7h0M245.2 790.8h0M246.0 787.2h0" stroke="#5f4ba0" stroke-width="4.00" stroke-linecap="round" fill="none"/>
<path d="M239.4 785.9h0M242.9 784.8h0M242.9 792.0h0M242.3 792.1h0M245.2 783.6h0" stroke="#7f3b90" stroke-width="4.00" stroke-linecap="round" fill="none"/>
<path d="M239.4 790.8h0M241.1 783.8h0M241.1 786.0h0M241.1 788.2h0M242.9 779.7h0M242.3 794.8h0M243.8 786.1h0M245.2 786.2h0M245.2 788.6h0" stroke="#6f4398" stroke-width="4.00" stroke-linecap="round" fill="none"/>
<path d="M243.8 788.2h0M248.4 788.3h0M249.9 788.4h0M260.4 786.0h0" stroke="#455caf" stroke-width="4.00" stroke-linecap="round" fill="none"/>
<path d="M248.4 785.7h0M249.9 785.7h0M252.0 786.2h0M254.7 785.8h0M254.7 788.6h0M260.4 788.4h0M261.5 788.5h0M263.4 785.7h0" stroke="#366fbc" stroke-width="4.00" stroke-linecap="round" fill="none"/>
<path d="M252.0 788.6h0M253.3 788.7h0M256.7 788.3h0M258.7 786.0h0M258.7 788.3h0M261.5 785.9h0M263.4 788.3h0M265.1 788.2h0M270.7 787.1h0" stroke="#2e78c3" stroke-width="4.00" stroke-linecap="round" fill="none"/>
<path d="M253.3 785.7h0M256.7 785.7h0M265.1 786.1h0" stroke="#3d65b6" stroke-width="4.00" stroke-linecap="round" fill="none"/>
<path d="M240.4 805.0h0M240.4 808.6h0M240.8 804.6h0M240.8 807.0h0" stroke="#e50e65" stroke-width="4.00" stroke-linecap="round" fill="none"/>
<path d="M240.4 807.0h0M240.4 810.5h0M240.4 814.2h0M240.8 803.1h0M240.8 808.9h0M240.8 810.7h0M240.8 812.4h0M240.8 814.5h0M240.8 816.0h0M241.5 804.8h0M241.5 806.6h0M241.5 808.5h0M241.5 810.5h0" stroke="#e8105a" stroke-width="4.00" stroke-linecap="round" fill="none"/>
<path d="M240.4 812.4h0M241.5 812.1h0M241.5 814.2h0" stroke="#e20d6f" stroke-width="4.00" stroke-linecap="round" fill="none"/>
<path d="M244.7 804.9h0M244.7 806.8h0M244.7 808.6h0M244.7 810.8h0M245.7 810.3h0M245.7 814.3h0M246.4 806.8h0M246.4 810.4h0" stroke="#7f3b90" stroke-width="4.00" stroke-linecap="round" fill="none"/>
<path d="M244.7 812.6h0M244.7 814.3h0M246.4 808.5h0" stroke="#5f4ba0" stroke-width="4.00" stroke-linecap="round" fill="none"/>
<path d="M245.7 803.1h0M245.7 804.5h0M245.7 806.6h0M245.7 812.6h0M246.4 805.0h0" stroke="#6f4398" stroke-width="4.00" stroke-linecap="round" fill="none"/>
<path d="M245.7 808.3h0M245.7 816.0h0M246.4 812.2h0M246.4 814.2h0" stroke="#92318b" stroke-width="4.00" stroke-linecap="round" fill="none"/>
<path d="M254.2 808.2h0M256.3 810.6h0M257.9 811.0h0M259.2 810.6h0M261.1 811.0h0M261.8 810.5h0" stroke="#2e78c3" stroke-width="4.00" stroke-linecap="round" fill="none"/>
<path d="M254.2 811.0h0M259.2 808.5h0M261.8 808.5h0" stroke="#366fbc" stroke-width="4.00" stroke-linecap="round" fill="none"/>
<path d="M256.3 808.1h0M257.9 808.1h0M261.1 808.6h0" stroke="#3d65b6" stroke-width="4.00" stroke-linecap="round" fill="none"/>
<path d="M210.6 831.6h0M212.4 832.2h0M214.4 832.1h0M216.0 832.0h0M220.3 831.7h0M222.1 831.9h0M224.3 832.1h0M225.8 832.0h0" stroke="#e8105a" stroke-width="4.00" stroke-linecap="round" fill="none"/>
<path d="M217.8 831.9h0M219.1 831.8h0" stroke="#e50e65" stroke-width="4.00" stroke-linecap="round" fill="none"/>
<path d="M240.5 832.0h0" stroke="#e20d6f" stroke-width="4.00" stroke-linecap="round" fill="none"/>
<path d="M243.5 832.0h0M244.9 832.1h0M246.7 833.4h0M246.7 828.0h0M249.8 831.9h0" stroke="#92318b" stroke-width="4.00" stroke-linecap="round" fill="none"/>
<path d="M244.9 826.8h0M244.9 834.6h0M246.7 825.9h0M246.7 828.5h0M246.7 835.5h0M246.7 837.8h0M246.7 837.9h0M248.4 831.7h0" stroke="#6f4398" stroke-width="4.00" stroke-linecap="round" fill="none"/>
<path d="M244.9 829.3h0M244.9 836.8h0M246.7 830.8h0M246.7 830.8h0M246.7 832.9h0M248.4 826.8h0M248.4 829.7h0" stroke="#7f3b90" stroke-width="4.00" stroke-linecap="round" fill="none"/>
<path d="M246.7 825.6h0M246.7 835.8h0M248.4 836.8h0" stroke="#5f4ba0" stroke-width="4.00" stroke-linecap="round" fill="none"/>
<path d="M248.4 834.5h0" stroke="#a92588" stroke-width="4.00" stroke-linecap="round" fill="none"/>
<path d="M235.5 854.4h0M256.1 855.4h0M259.5 855.2h0" stroke="#2e78c3" stroke-width="4.00" stroke-linecap="round" fill="none"/>
<path d="M241.0 854.0h0M242.8 856.6h0M244.2 849.1h0M244.2 859.3h0M244.2 861.4h0M244.2 852.0h0M244.2 856.5h0M244.2 859.4h0M245.9 854.6h0M245.9 859.3h0M256.1 853.1h0M257.2 855.3h0" stroke="#455caf" stroke-width="4.00" stroke-linecap="round" fill="none"/>
<path d="M242.8 849.6h0M242.8 854.4h0M242.8 859.3h0M244.2 851.8h0M244.2 854.0h0M253.9 853.3h0M262.4 853.0h0" stroke="#3d65b6" stroke-width="4.00" stroke-linecap="round" fill="none"/>
<path d="M242.8 852.0h0M244.2 847.1h0M244.2 854.3h0" stroke="#5f4ba0" stroke-width="4.00" stroke-linecap="round" fill="none"/>
<path d="M244.2 846.8h0M244.2 849.1h0M245.9 849.1h0M245.9 851.6h0M245.9 856.9h0M246.7 854.1h0" stroke="#4f53a8" stroke-width="4.00" stroke-linecap="round" fill="none"/>
<path d="M244.2 856.9h0M252.1 852.8h0M252.1 855.5h0M253.9 855.7h0M257.2 853.3h0M259.5 852.8h0M260.2 853.2h0M260.2 855.6h0M262.4 855.3h0" stroke="#366fbc" stroke-width="4.00" stroke-linecap="round" fill="none"/>
<path d="M244.2 861.6h0" stroke="#6f4398" stroke-width="4.00" stroke-linecap="round" fill="none"/>
<path d="M249.3 852.9h0" stroke="#92318b" stroke-width="4.00" stroke-linecap="round" fill="none"/>
<path d="M249.3 855.3h0" stroke="#7f3b90" stroke-width="4.00" stroke-linecap="round" fill="none"/>
<path d="M217.7 876.6h0" stroke="#5f4ba0" stroke-width="4.00" stroke-linecap="round" fill="none"/>
<path d="M224.8 876.7h0M231.7 876.3h0" stroke="#6f4398" stroke-width="4.00" stroke-linecap="round" fill="none"/>
<path d="M226.2 876.8h0" stroke="#92318b" stroke-width="4.00" stroke-linecap="round" fill="none"/>
<path d="M227.7 876.7h0" stroke="#7f3b90" stroke-width="4.00" stroke-linecap="round" fill="none"/>
<path d="M229.3 876.7h0M233.0 876.6h0" stroke="#a92588" stroke-width="4.00" stroke-linecap="round" fill="none"/>
<path d="M235.4 875.6h0M235.4 878.1h0M237.1 878.0h0M240.2 877.6h0M241.9 875.5h0M241.9 877.8h0" stroke="#d60d83" stroke-width="4.00" stroke-linecap="round" fill="none"/>
<path d="M237.1 875.3h0M238.4 875.7h0M238.4 877.8h0" stroke="#c01985" stroke-width="4.00" stroke-linecap="round" fill="none"/>
<path d="M240.2 875.5h0" stroke="#de0b7a" stroke-width="4.00" stroke-linecap="round" fill="none"/>
<path d="M243.3 876.4h0M245.1 872.8h0M246.9 877.6h0M248.7 869.0h0M248.7 876.5h0M249.2 869.5h0M249.2 879.3h0M249.2 883.7h0M250.8 870.4h0M250.8 875.2h0M250.8 877.9h0M250.8 880.1h0M252.0 875.7h0M254.0 876.4h0" stroke="#2e78c3" stroke-width="4.00" stroke-linecap="round" fill="none"/>
<path d="M245.1 875.3h0M245.1 877.6h0M246.9 873.1h0M246.9 875.4h0M246.9 880.0h0M249.2 876.7h0M250.8 872.7h0M252.0 872.9h0M252.0 877.9h0M252.0 880.3h0" stroke="#366fbc" stroke-width="4.00" stroke-linecap="round" fill="none"/>
<path d="M245.1 880.2h0M246.9 870.8h0M246.9 882.5h0M248.7 871.9h0M248.7 874.0h0M248.7 879.0h0M248.7 881.8h0M248.7 883.7h0M249.2 871.6h0M249.2 874.4h0M249.2 881.8h0M250.8 882.8h0" stroke="#3d65b6" stroke-width="4.00" stroke-linecap="round" fill="none"/>
<path d="M239.1 899.1h0M240.6 895.5h0M240.6 897.7h0M241.3 894.1h0M244.1 899.3h0" stroke="#e20d6f" stroke-width="4.00" stroke-linecap="round" fill="none"/>
<path d="M240.6 900.5h0M241.3 898.8h0M241.3 901.5h0M241.3 904.1h0M241.7 894.4h0M241.7 896.3h0M241.7 899.0h0M241.7 904.2h0M242.6 895.4h0M242.6 900.3h0M242.6 902.8h0" stroke="#de0b7a" stroke-width="4.00" stroke-linecap="round" fill="none"/>
<path d="M240.6 902.5h0M241.3 896.4h0M241.7 901.5h0" stroke="#d60d83" stroke-width="4.00" stroke-linecap="round" fill="none"/>
<path d="M242.6 897.8h0" stroke="#c01985" stroke-width="4.00" stroke-linecap="round" fill="none"/>
<path d="M244.4 899.1h0M246.6 892.9h0" stroke="#3d65b6" stroke-width="4.00" stroke-linecap="round" fill="none"/>
<path d="M245.9 894.3h0M245.9 901.4h0M245.9 903.8h0M246.5 895.4h0M246.5 897.7h0M246.5 900.0h0M246.5 905.2h0M246.6 898.0h0M246.6 900.2h0M248.2 894.4h0M248.2 896.6h0M248.2 898.8h0M248.2 901.5h0" stroke="#2e78c3" stroke-width="4.00" stroke-linecap="round" fill="none"/>
<path d="M245.9 896.6h0M245.9 899.0h0M246.5 892.6h0M246.6 895.1h0M246.6 902.6h0M246.6 904.9h0M248.2 903.9h0M250.2 899.0h0" stroke="#366fbc" stroke-width="4.00" stroke-linecap="round" fill="none"/>
<path d="M246.5 902.5h0" stroke="#455caf" stroke-width="4.00" stroke-linecap="round" fill="none"/>
<path d="M227.6 921.5h0M228.4 921.3h0M230.2 921.3h0M232.4 921.1h0M233.6 921.6h0M236.9 921.3h0M238.8 921.4h0M240.4 921.4h0" stroke="#e8105a" stroke-width="4.00" stroke-linecap="round" fill="none"/>
<path d="M235.8 921.5h0" stroke="#e50e65" stroke-width="4.00" stroke-linecap="round" fill="none"/>
<path d="M244.3 921.4h0M246.6 929.0h0M246.9 916.6h0M246.9 919.1h0M246.9 928.8h0" stroke="#6f4398" stroke-width="4.00" stroke-linecap="round" fill="none"/>
<path d="M245.5 916.5h0M245.5 921.2h0M245.5 924.0h0M246.6 913.9h0M246.6 916.5h0M246.9 921.5h0M246.9 926.3h0M248.1 916.3h0M248.1 918.7h0M248.1 921.6h0M249.3 921.4h0" stroke="#4f53a8" stroke-width="4.00" stroke-linecap="round" fill="none"/>
<path d="M245.5 919.0h0M245.5 926.5h0M246.6 918.6h0M246.6 921.6h0M246.6 926.2h0M246.9 913.9h0M246.9 923.7h0M248.1 923.5h0M248.1 926.1h0" stroke="#5f4ba0" stroke-width="4.00" stroke-linecap="round" fill="none"/>
<path d="M246.6 923.9h0" stroke="#455caf" stroke-width="4.00" stroke-linecap="round" fill="none"/>
<path d="M310.4 943.1h0M241.4 938.5h0M261.9 938.5h0M221.2 947.9h0" stroke="#2e78c3" stroke-width="4.00" stroke-linecap="round" fill="none"/>
<path d="M291.4 941.8h0M172.1 944.1h0M218.8 942.9h0" stroke="#4f53a8" stroke-width="4.00" stroke-linecap="round" fill="none"/>
<path d="M267.8 941.8h0M248.5 944.5h0M243.4 947.2h0" stroke="#3d65b6" stroke-width="4.00" stroke-linecap="round" fill="none"/>
<path d="M274.2 946.3h0M191.0 943.9h0" stroke="#c01985" stroke-width="4.00" stroke-linecap="round" fill="none"/>
<path d="M225.7 942.9h0M269.6 939.7h0" stroke="#e8105a" stroke-width="4.00" stroke-linecap="round" fill="none"/>
<path d="M316.4 944.2h0M297.6 942.8h0M262.5 940.8h0M247.6 941.6h0" stroke="#e50e65" stroke-width="4.00" stroke-linecap="round" fill="none"/>
<path d="M194.6 942.8h0M256.7 947.8h0M224.3 948.3h0" stroke="#92318b" stroke-width="4.00" stroke-linecap="round" fill="none"/>
<path d="M258.5 939.3h0M250.1 940.9h0M230.4 945.7h0" stroke="#6f4398" stroke-width="4.00" stroke-linecap="round" fill="none"/>
<path d="M223.2 945.1h0M247.7 947.6h0" stroke="#de0b7a" stroke-width="4.00" stroke-linecap="round" fill="none"/>
<path d="M185.8 943.2h0M274.0 942.4h0M166.0 944.0h0M265.2 939.5h0" stroke="#2e78c3" stroke-width="4.00" stroke-linecap="round" fill="none"/>
<path d="M267.1 945.4h0M233.4 940.4h0M245.2 945.4h0" stroke="#4f53a8" stroke-width="4.00" stroke-linecap="round" fill="none"/>
<path d="M270.2 947.1h0M270.1 943.5h0M256.7 942.7h0" stroke="#3d65b6" stroke-width="4.00" stroke-linecap="round" fill="none"/>
<path d="M220.9 944.4h0M234.3 944.3h0" stroke="#c01985" stroke-width="4.00" stroke-linecap="round" fill="none"/>
<path d="M307.8 944.2h0M213.9 947.3h0" stroke="#e8105a" stroke-width="4.00" stroke-linecap="round" fill="none"/>
<path d="M213.6 940.2h0M318.8 943.5h0M252.6 941.0h0" stroke="#e50e65" stroke-width="4.00" stroke-linecap="round" fill="none"/>
<path d="M261.5 945.1h0M288.6 946.1h0M299.9 943.7h0" stroke="#92318b" stroke-width="4.00" stroke-linecap="round" fill="none"/>
<path d="M177.4 943.7h0M229.0 940.7h0" stroke="#6f4398" stroke-width="4.00" stroke-linecap="round" fill="none"/>
<path d="M258.0 944.8h0M294.2 941.9h0" stroke="#de0b7a" stroke-width="4.00" stroke-linecap="round" fill="none"/>
<path d="M198.1 943.5h0M304.6 944.6h0M246.5 938.3h0M253.9 937.9h0" stroke="#2e78c3" stroke-width="4.00" stroke-linecap="round" fill="none"/>
<path d="M239.7 941.6h0M282.1 940.7h0M231.4 938.9h0" stroke="#4f53a8" stroke-width="4.00" stroke-linecap="round" fill="none"/>
<path d="M231.9 942.8h0M313.5 943.1h0" stroke="#3d65b6" stroke-width="4.00" stroke-linecap="round" fill="none"/>
<path d="M292.3 945.2h0M232.8 946.5h0" stroke="#c01985" stroke-width="4.00" stroke-linecap="round" fill="none"/>
<path d="M212.9 944.6h0M196.0 944.8h0" stroke="#e8105a" stroke-width="4.00" stroke-linecap="round" fill="none"/>
<path d="M285.3 945.5h0M228.8 943.9h0M252.9 946.8h0" stroke="#e50e65" stroke-width="4.00" stroke-linecap="round" fill="none"/>
<path d="M234.5 949.4h0M249.3 938.3h0M251.7 944.6h0" stroke="#92318b" stroke-width="4.00" stroke-linecap="round" fill="none"/>
<path d="M216.4 946.9h0M203.4 941.7h0" stroke="#6f4398" stroke-width="4.00" stroke-linecap="round" fill="none"/>
<path d="M281.1 944.1h0M236.4 947.7h0" stroke="#de0b7a" stroke-width="4.00" stroke-linecap="round" fill="none"/>
<path d="M285.2 941.0h0M174.8 943.3h0M205.3 944.4h0M243.8 937.8h0" stroke="#2e78c3" stroke-width="4.00" stroke-linecap="round" fill="none"/>
<path d="M183.1 943.3h0M227.0 945.8h0" stroke="#4f53a8" stroke-width="4.00" stroke-linecap="round" fill="none"/>
<path d="M321.3 943.7h0M259.4 941.7h0" stroke="#3d65b6" stroke-width="4.00" stroke-linecap="round" fill="none"/>
<path d="M207.8 943.2h0M244.7 940.6h0" stroke="#c01985" stroke-width="4.00" stroke-linecap="round" fill="none"/>
<path d="M230.1 948.8h0" stroke="#e8105a" stroke-width="4.00" stroke-linecap="round" fill="none"/>
<path d="M254.4 943.8h0M209.2 940.3h0M243.1 942.6h0" stroke="#e50e65" stroke-width="4.00" stroke-linecap="round" fill="none"/>
<path d="M244.6 950.2h0M272.8 939.9h0M188.3 943.6h0" stroke="#92318b" stroke-width="4.00" stroke-linecap="round" fill="none"/>
<path d="M219.2 940.2h0M276.9 941.2h0" stroke="#6f4398" stroke-width="4.00" stroke-linecap="round" fill="none"/>
<path d="M264.9 946.4h0M282.6 946.9h0" stroke="#de0b7a" stroke-width="4.00" stroke-linecap="round" fill="none"/>
<path d="M277.1 946.9h0M216.1 940.5h0M223.7 940.3h0" stroke="#2e78c3" stroke-width="4.00" stroke-linecap="round" fill="none"/>
<path d="M302.2 942.7h0M324.8 943.7h0" stroke="#4f53a8" stroke-width="4.00" stroke-linecap="round" fill="none"/>
<path d="M211.8 941.9h0M214.7 942.9h0" stroke="#3d65b6" stroke-width="4.00" stroke-linecap="round" fill="none"/>
<path d="M264.1 943.9h0M226.1 938.8h0" stroke="#c01985" stroke-width="4.00" stroke-linecap="round" fill="none"/>
<path d="M235.4 938.8h0" stroke="#e8105a" stroke-width="4.00" stroke-linecap="round" fill="none"/>
<path d="M279.8 947.0h0M237.8 940.1h0M267.7 948.2h0" stroke="#e50e65" stroke-width="4.00" stroke-linecap="round" fill="none"/>
<path d="M295.5 944.0h0M227.3 948.7h0M252.7 949.6h0" stroke="#92318b" stroke-width="4.00" stroke-linecap="round" fill="none"/>
<path d="M255.1 940.5h0M207.1 946.2h0" stroke="#6f4398" stroke-width="4.00" stroke-linecap="round" fill="none"/>
<path d="M279.4 940.4h0" stroke="#de0b7a" stroke-width="4.00" stroke-linecap="round" fill="none"/>
<path d="M169.6 943.9h0M238.0 945.1h0M236.3 942.8h0" stroke="#2e78c3" stroke-width="4.00" stroke-linecap="round" fill="none"/>
<path d="M209.7 945.3h0M242.1 949.5h0" stroke="#4f53a8" stroke-width="4.00" stroke-linecap="round" fill="none"/>
<path d="M262.6 947.9h0M259.2 948.7h0" stroke="#3d65b6" stroke-width="4.00" stroke-linecap="round" fill="none"/>
<path d="M276.7 944.0h0M206.1 941.2h0" stroke="#c01985" stroke-width="4.00" stroke-linecap="round" fill="none"/>
<path d="M239.0 948.7h0" stroke="#e8105a" stroke-width="4.00" stroke-linecap="round" fill="none"/>
<path d="M241.2 945.9h0M222.4 942.4h0M219.3 946.3h0" stroke="#e50e65" stroke-width="4.00" stroke-linecap="round" fill="none"/>
<path d="M201.6 944.0h0M180.3 944.2h0" stroke="#92318b" stroke-width="4.00" stroke-linecap="round" fill="none"/>
<path d="M250.6 947.7h0M249.1 949.8h0" stroke="#6f4398" stroke-width="4.00" stroke-linecap="round" fill="none"/>
<path d="M288.3 943.5h0" stroke="#de0b7a" stroke-width="4.00" stroke-linecap="round" fill="none"/>
<line x1="164.6" y1="966.5" x2="326.6" y2="966.5" stroke="#3a3a3a" stroke-width="1.15"/>
<line x1="181.2" y1="966.1" x2="181.2" y2="969.1" stroke="#333" stroke-width="1"/>
<text x="181.2" y="980.5" font-size="10.30" text-anchor="middle" textLength="22.6" lengthAdjust="spacingAndGlyphs">−0.4</text>
<line x1="212.9" y1="966.1" x2="212.9" y2="969.1" stroke="#333" stroke-width="1"/>
<text x="212.9" y="980.5" font-size="10.30" text-anchor="middle" textLength="22.6" lengthAdjust="spacingAndGlyphs">−0.2</text>
<line x1="244.9" y1="966.1" x2="244.9" y2="969.1" stroke="#333" stroke-width="1"/>
<text x="244.9" y="980.5" font-size="10.30" text-anchor="middle" textLength="14.8" lengthAdjust="spacingAndGlyphs">0.0</text>
<line x1="277.3" y1="966.1" x2="277.3" y2="969.1" stroke="#333" stroke-width="1"/>
<text x="277.3" y="980.5" font-size="10.30" text-anchor="middle" textLength="14.8" lengthAdjust="spacingAndGlyphs">0.2</text>
<line x1="309.6" y1="966.1" x2="309.6" y2="969.1" stroke="#333" stroke-width="1"/>
<text x="309.6" y="980.5" font-size="10.30" text-anchor="middle" textLength="14.8" lengthAdjust="spacingAndGlyphs">0.4</text>
<text x="245.6" y="994.8" font-size="10.04" text-anchor="middle" textLength="184.0" lengthAdjust="spacingAndGlyphs">SHAP value (impact on model output)</text>
<text x="142.8" y="724.6" font-size="10.09" text-anchor="end" textLength="57.2" lengthAdjust="spacingAndGlyphs">zBMI (child)</text>
<text x="142.8" y="742.3" font-size="10.09" text-anchor="end" textLength="102.0" lengthAdjust="spacingAndGlyphs">N-acetyl neuraminic </text>
<text x="142.8" y="753.7" font-size="10.09" text-anchor="end" textLength="20.3" lengthAdjust="spacingAndGlyphs">acid</text>
<text x="142.8" y="764.6" font-size="10.09" text-anchor="end" textLength="124.0" lengthAdjust="spacingAndGlyphs">Inverse distance nearest </text>
<text x="142.8" y="776.0" font-size="10.09" text-anchor="end" textLength="60.0" lengthAdjust="spacingAndGlyphs">road (preg)*</text>
<text x="142.8" y="787.0" font-size="10.09" text-anchor="end" textLength="111.3" lengthAdjust="spacingAndGlyphs">Facility density (300m </text>
<text x="142.8" y="798.4" font-size="10.09" text-anchor="end" textLength="41.9" lengthAdjust="spacingAndGlyphs">- school)</text>
<text x="142.8" y="814.0" font-size="10.09" text-anchor="end" textLength="19.6" lengthAdjust="spacingAndGlyphs">CRP</text>
<text x="142.8" y="836.4" font-size="10.09" text-anchor="end" textLength="27.4" lengthAdjust="spacingAndGlyphs">MCP1</text>
<text x="142.8" y="854.1" font-size="10.09" text-anchor="end" textLength="142.1" lengthAdjust="spacingAndGlyphs">Accessibility(bus lines 300m </text>
<text x="142.8" y="865.5" font-size="10.09" text-anchor="end" textLength="41.9" lengthAdjust="spacingAndGlyphs">- shcool)</text>
<text x="142.8" y="881.1" font-size="10.09" text-anchor="end" textLength="61.9" lengthAdjust="spacingAndGlyphs">Sugar intake</text>
<text x="142.8" y="898.8" font-size="10.09" text-anchor="end" textLength="100.0" lengthAdjust="spacingAndGlyphs">Vegetable oil intake </text>
<text x="142.8" y="910.2" font-size="10.09" text-anchor="end" textLength="52.5" lengthAdjust="spacingAndGlyphs">(non olive)</text>
<text x="142.8" y="925.8" font-size="10.09" text-anchor="end" textLength="79.3" lengthAdjust="spacingAndGlyphs">Kynurenine / Trp</text>
<text x="142.8" y="948.2" font-size="10.09" text-anchor="end" textLength="129.2" lengthAdjust="spacingAndGlyphs">Sum of 457 other features</text>
<rect x="336.1" y="698.2" width="3.4" height="268.1" fill="url(#cb)"/>
<text x="343.6" y="701.8" font-size="9.68" textLength="21.6" lengthAdjust="spacingAndGlyphs">High</text>
<text x="343.6" y="970.3" font-size="9.68" textLength="18.5" lengthAdjust="spacingAndGlyphs">Low</text>
<text x="373.0" y="832.2" font-size="10.92" text-anchor="middle" textLength="72.4" lengthAdjust="spacingAndGlyphs" transform="rotate(-90 373.0 832.2)">Feature value</text>
<path d="M436.5 89.2 L436.5 84.2 L451.3 84.2 L451.3 82.0 L481.2 82.0 L481.2 81.0 L497.4 81.0 L497.4 79.5 L513.5 79.5 L513.5 81.5 L544.0 81.5 L544.0 83.0 L575.0 83.0 L575.0 86.1 L590.1 86.1 L590.1 87.5 L605.3 87.5 L605.3 88.3 L620.5 88.3 L620.5 88.8 L636.6 88.8 L636.6 89.0 L683.5 89.0 L683.5 89.2 Z" fill="#e5e5e5"/>
<path d="M443.6 82.9h0M443.4 79.7h0M443.7 81.2h0M443.7 76.7h0M443.9 84.9h0M443.6 83.7h0M443.4 77.4h0M443.4 82.9h0M443.3 78.8h0M443.1 85.5h0M443.4 75.5h0M443.5 76.6h0M443.8 77.3h0M443.8 80.2h0M443.6 77.4h0M443.6 84.2h0M443.6 79.3h0M443.2 77.4h0M443.4 84.9h0M443.0 75.6h0M443.4 85.6h0M443.5 76.8h0M443.1 78.6h0M443.4 82.3h0M443.6 76.5h0M443.8 83.1h0M443.9 82.2h0M443.1 78.1h0M443.4 80.4h0M443.8 75.9h0M443.6 79.2h0M443.1 84.1h0M443.3 80.2h0M443.1 81.1h0M443.7 75.6h0M443.6 76.6h0M443.2 83.6h0M443.9 76.3h0M443.1 85.1h0M443.4 78.4h0M443.3 84.3h0M443.0 85.6h0M443.6 82.0h0M443.0 82.4h0M443.9 79.3h0M443.3 83.9h0M443.6 83.9h0M443.4 81.1h0M443.2 78.0h0M444.0 85.3h0M443.9 83.7h0M443.5 84.9h0M443.3 79.6h0M443.9 85.2h0M443.3 83.4h0M443.7 82.5h0M443.4 75.8h0M443.6 83.8h0M443.9 79.7h0M443.4 84.9h0M443.8 77.1h0M443.5 83.1h0M443.9 77.5h0M443.8 82.7h0M443.8 84.0h0M444.0 85.8h0M443.6 78.5h0M443.0 84.6h0M443.9 76.5h0M443.8 78.7h0M443.1 81.4h0M443.5 85.8h0M443.8 82.5h0M443.6 79.9h0M443.3 81.3h0M443.8 76.0h0M443.9 76.5h0M443.7 79.5h0M443.2 79.2h0M443.7 85.6h0M443.6 82.8h0M443.1 85.3h0M443.7 77.8h0M443.2 77.8h0M443.0 78.9h0M443.5 77.9h0M443.1 84.7h0M443.8 85.3h0M443.6 79.1h0M443.9 80.4h0M459.2 76.5h0M459.0 77.3h0M459.4 73.7h0M459.1 77.8h0M459.0 74.7h0M459.4 74.5h0M459.5 74.9h0M459.3 77.4h0M458.5 73.7h0M459.2 82.3h0M459.3 77.0h0M458.6 74.3h0M458.7 77.0h0M458.9 74.7h0M459.0 75.6h0M459.5 76.0h0M459.1 76.2h0M458.8 75.9h0M458.6 82.0h0M459.1 80.7h0M459.0 81.2h0M458.7 81.0h0M458.5 80.4h0M458.7 77.7h0M459.0 75.4h0M458.6 81.4h0M458.9 81.7h0M458.9 76.7h0M459.2 76.8h0M458.5 80.7h0M459.5 79.1h0M458.7 76.5h0M458.7 80.5h0M458.6 83.8h0M458.8 73.8h0M458.7 75.0h0M458.8 73.2h0M458.6 81.0h0M458.8 84.4h0M458.7 76.2h0M458.6 72.8h0M458.5 85.8h0M459.4 75.3h0M458.7 77.5h0M458.5 77.3h0M459.0 85.5h0M459.3 80.7h0M459.3 85.3h0M458.8 75.8h0M458.5 76.4h0M459.4 82.5h0M459.1 76.9h0M459.5 84.2h0M458.8 73.9h0M458.9 73.4h0M459.2 81.8h0M459.3 84.8h0M459.4 80.1h0M459.1 84.7h0M459.4 81.2h0M458.7 82.1h0M459.0 84.3h0M459.3 81.0h0M459.0 82.8h0M458.9 84.8h0M458.9 77.6h0M459.5 74.1h0M459.3 84.0h0M458.8 77.7h0M459.5 82.9h0M458.9 73.4h0M458.6 82.2h0M459.1 74.4h0M459.0 77.6h0M459.0 80.6h0M459.1 81.9h0M459.0 80.0h0M459.0 74.6h0M459.5 78.9h0M459.4 81.3h0M459.3 77.7h0M459.0 75.6h0M458.7 78.1h0M459.5 77.3h0M458.5 81.1h0M459.5 75.7h0M459.5 78.6h0M458.7 74.7h0M459.1 81.3h0M459.1 80.8h0M474.9 84.3h0M475.0 85.4h0M474.8 77.4h0M474.0 77.5h0M474.6 76.6h0M474.7 81.6h0M474.8 80.2h0M474.6 83.1h0M474.1 74.4h0M474.5 77.6h0M474.3 84.5h0M474.6 80.4h0M474.9 77.5h0M474.6 77.1h0M474.9 78.6h0M475.0 76.4h0M474.1 79.4h0M474.3 80.7h0M475.0 79.3h0M474.4 78.6h0M474.2 82.2h0M475.0 85.7h0M474.9 79.1h0M474.9 74.8h0M474.1 83.0h0M474.3 83.8h0M474.4 86.3h0M475.0 77.0h0M474.4 73.3h0M474.0 73.5h0M474.3 80.0h0M474.1 81.2h0M474.3 86.1h0M474.6 72.3h0M474.8 81.6h0M474.4 78.5h0M474.6 75.5h0M474.3 74.1h0M474.2 83.8h0M474.4 80.8h0M474.7 72.5h0M474.4 75.7h0M474.8 77.0h0M474.5 84.5h0M474.6 84.6h0M474.3 78.5h0M474.4 86.2h0M474.8 79.3h0M474.1 83.3h0M474.5 77.9h0M474.3 83.2h0M474.9 79.5h0M474.8 81.3h0M474.2 86.3h0M474.0 76.1h0M474.4 78.2h0M474.9 85.9h0M474.5 77.4h0M474.2 74.7h0M474.3 85.6h0M474.3 74.8h0M474.3 81.3h0M474.9 84.0h0M474.4 73.4h0M474.8 76.7h0M474.6 75.0h0M474.5 82.0h0M474.2 73.3h0M474.3 81.4h0M474.4 84.3h0M474.5 75.6h0M474.2 74.4h0M474.2 73.4h0M474.6 73.4h0M474.7 81.5h0M474.6 74.2h0M474.8 83.5h0M474.5 72.4h0M474.9 83.7h0M474.9 74.7h0M474.9 80.9h0M474.6 84.9h0M474.7 78.1h0M474.1 76.6h0M474.2 81.6h0M474.3 76.9h0M474.6 80.2h0M474.5 75.7h0M474.5 80.9h0M474.1 83.3h0M489.7 66.8h0M489.8 66.6h0M490.0 68.2h0M490.2 66.5h0M490.1 64.9h0M490.2 68.6h0M490.0 67.4h0M489.9 65.1h0M490.4 66.3h0M489.7 66.0h0M490.2 67.5h0M489.9 67.9h0M490.0 67.2h0M489.7 69.2h0M490.3 68.1h0M490.4 61.8h0M490.3 64.7h0M490.0 61.7h0M490.2 65.9h0M490.0 62.4h0M489.8 63.4h0M490.2 64.1h0M489.8 61.6h0M490.2 68.9h0M490.3 65.5h0M490.2 64.5h0M490.0 66.8h0M489.7 68.4h0M489.9 68.2h0M489.6 61.7h0M489.8 67.2h0M490.2 68.9h0M490.2 62.6h0M490.0 68.7h0M489.6 63.0h0M490.4 63.8h0M490.4 66.8h0M490.0 68.6h0M489.7 62.8h0M490.2 68.7h0M489.6 65.9h0M490.1 64.6h0M489.7 66.0h0M490.0 67.0h0M489.7 62.4h0M489.8 61.7h0M489.7 63.7h0M490.4 62.9h0M506.0 59.4h0M505.5 64.9h0M506.0 63.7h0M505.2 62.8h0M505.2 64.4h0M505.9 59.5h0M506.0 63.9h0M505.8 63.8h0M505.8 63.9h0M505.7 64.0h0M505.4 59.7h0M505.8 64.2h0M505.8 60.3h0M505.9 63.3h0M505.7 60.7h0M505.5 60.8h0M505.7 62.3h0M505.7 58.4h0M505.5 63.5h0M505.9 60.7h0M506.0 58.2h0M505.2 63.7h0M505.3 60.0h0M505.2 60.4h0M505.4 59.7h0M505.3 59.1h0M505.3 60.6h0M505.5 57.8h0M505.6 64.5h0M505.7 61.3h0M505.5 57.6h0M505.2 58.8h0M505.4 60.1h0M505.9 63.1h0M505.6 65.0h0M505.3 61.9h0M505.6 59.0h0M505.9 57.8h0M506.0 58.3h0M505.4 64.9h0M508.5 61.0h0M511.5 51.7h0M514.0 51.2h0M517.3 52.0h0M528.0 48.5h0M528.8 50.6h0M539.5 49.0h0M544.2 40.0h0M557.1 27.5h0M520.8 46.1h0M520.6 46.2h0M520.7 47.3h0M521.1 50.3h0M520.6 52.3h0M520.7 46.3h0M521.2 50.3h0M520.7 50.4h0M520.7 49.8h0M520.6 51.3h0M521.3 46.6h0M521.1 52.3h0M521.3 49.5h0M520.9 49.8h0M521.2 46.6h0M521.1 50.3h0M520.6 52.5h0M520.9 48.6h0M520.8 47.0h0M521.2 52.6h0M521.3 47.1h0M521.4 49.9h0M520.7 47.5h0M520.9 48.7h0M520.6 50.5h0M520.6 48.1h0M520.6 50.9h0M521.3 50.4h0M521.1 51.3h0M521.1 51.6h0M521.4 50.7h0M521.1 51.2h0M536.6 50.3h0M536.7 45.4h0M536.4 49.8h0M536.8 50.1h0M536.5 46.8h0M536.6 51.3h0M536.4 50.8h0M536.2 46.8h0M536.8 48.1h0M536.8 51.8h0M536.4 48.1h0M536.3 48.8h0M537.0 52.0h0M536.2 48.2h0M536.4 47.3h0M537.0 50.3h0M536.3 47.1h0M536.5 45.7h0M536.3 46.8h0M536.2 47.3h0M536.5 51.1h0M536.2 50.3h0M536.3 52.2h0M536.8 46.6h0M536.3 45.4h0M536.7 50.7h0M536.2 48.5h0M536.5 50.8h0M536.4 49.7h0M537.0 49.4h0M536.6 46.3h0M536.3 51.6h0M551.7 32.8h0M552.4 30.2h0M552.6 27.0h0M551.9 26.5h0M552.6 25.7h0M552.6 28.2h0M552.4 29.6h0M552.2 33.6h0M552.6 31.9h0M552.6 33.4h0M552.1 27.7h0M551.8 28.4h0M551.8 33.7h0M552.3 24.2h0M551.9 34.1h0M552.1 33.4h0M552.2 30.2h0M552.2 24.0h0M551.8 33.2h0M552.6 27.6h0M552.1 27.3h0M552.3 25.3h0M552.1 25.4h0M552.3 31.2h0M552.3 28.0h0M552.4 34.8h0M552.2 30.9h0M552.3 28.6h0M552.1 30.1h0M552.1 29.5h0M551.8 25.7h0M552.0 31.8h0M552.0 28.9h0M552.2 24.1h0M552.6 35.2h0M552.4 33.7h0M552.0 24.7h0M552.6 33.4h0M551.8 29.0h0M552.4 33.1h0M552.5 24.9h0M552.3 35.5h0M552.2 26.1h0M552.6 24.9h0M551.9 23.5h0M551.9 31.9h0M552.2 23.8h0M552.0 28.9h0M552.4 29.4h0M552.5 34.5h0M552.0 34.2h0M552.4 26.3h0M552.0 31.9h0M552.2 31.5h0M551.9 26.1h0M552.2 26.0h0M552.2 25.2h0M552.3 29.6h0M551.8 32.6h0M552.1 30.4h0M552.2 29.8h0M552.0 24.7h0M551.8 29.3h0M552.3 29.8h0M552.3 32.7h0M551.9 24.9h0M552.5 24.6h0M552.6 23.6h0M552.4 33.3h0M552.6 28.5h0M552.4 27.6h0M551.8 24.1h0M552.4 31.7h0M552.6 33.2h0M552.1 27.3h0M552.4 34.8h0M552.7 31.6h0M552.0 27.5h0M552.1 25.7h0M552.5 26.8h0M567.5 25.8h0M567.8 32.3h0M567.1 28.8h0M567.5 32.1h0M567.0 29.5h0M567.0 29.0h0M567.0 31.8h0M567.2 32.8h0M567.5 34.0h0M566.9 30.7h0M567.7 32.8h0M567.3 26.4h0M567.7 26.3h0M567.7 27.1h0M567.7 25.7h0M566.9 26.7h0M567.5 34.6h0M567.2 31.0h0M567.1 27.2h0M567.2 27.8h0M567.7 30.2h0M567.3 29.7h0M567.5 26.7h0M567.6 25.5h0M567.2 26.6h0M567.2 27.4h0M566.8 33.6h0M566.8 33.1h0M567.1 31.6h0M567.5 33.0h0M567.5 31.2h0M566.9 32.8h0M567.6 26.5h0M567.4 28.2h0M567.0 26.7h0M567.1 31.2h0M567.6 32.6h0M567.4 29.3h0M567.3 27.1h0M567.4 33.4h0M567.0 31.0h0M567.7 26.8h0M567.2 28.9h0M567.2 33.4h0M567.4 28.5h0M567.8 30.8h0M567.6 29.5h0M567.2 34.5h0M567.1 29.0h0M567.1 27.7h0M567.2 33.3h0M567.4 27.9h0M567.5 26.6h0M567.4 29.4h0M566.9 27.4h0M567.4 32.5h0M567.4 27.1h0M567.3 32.6h0M566.8 27.3h0M567.6 26.3h0M567.5 28.5h0M567.6 30.0h0M567.0 27.0h0M567.0 30.2h0M567.5 34.0h0M567.0 25.4h0M567.3 24.7h0M567.3 31.4h0M567.2 31.9h0M567.1 30.1h0M567.2 29.0h0M567.5 31.5h0M582.8 30.5h0M583.2 28.2h0M583.0 29.3h0M583.0 24.0h0M582.6 31.5h0M582.8 20.2h0M582.6 23.4h0M582.5 28.2h0M583.0 23.3h0M583.1 26.0h0M582.6 21.2h0M582.5 31.0h0M582.3 30.6h0M582.3 32.9h0M583.3 27.4h0M582.8 31.3h0M582.9 20.2h0M583.0 20.8h0M582.7 25.9h0M583.2 32.8h0M583.2 21.0h0M583.1 24.2h0M583.1 29.7h0M582.9 23.7h0M582.7 32.3h0M583.2 25.5h0M582.7 32.1h0M583.2 24.9h0M583.2 31.0h0M582.7 21.4h0M583.2 21.4h0M583.1 23.0h0M582.7 30.1h0M582.3 24.3h0M582.6 31.1h0M582.6 32.2h0M582.5 30.4h0M583.3 28.6h0M582.4 24.0h0M582.9 21.8h0M582.5 32.7h0M582.5 27.5h0M582.9 29.7h0M582.3 30.1h0M582.4 29.3h0M582.9 28.1h0M582.6 26.3h0M582.4 20.4h0M582.5 28.2h0M583.2 24.2h0M582.5 31.6h0M582.8 22.5h0M583.3 32.0h0M582.7 32.6h0M582.9 27.4h0M583.1 22.1h0M582.6 23.1h0M582.4 30.6h0M582.9 33.3h0M583.1 28.7h0M582.9 31.4h0M582.6 30.3h0M583.1 23.2h0M583.1 24.9h0M583.2 25.9h0M582.3 25.9h0M582.5 24.4h0M583.2 22.6h0M582.7 25.9h0M582.4 21.1h0M583.2 33.1h0M582.5 30.3h0M598.1 28.2h0M598.5 30.3h0M598.0 29.2h0M597.9 24.2h0M597.9 24.1h0M598.4 25.3h0M598.1 27.2h0M598.4 25.6h0M598.3 25.0h0M598.1 24.8h0M597.9 30.3h0M598.2 24.0h0M597.9 25.4h0M598.5 23.6h0M597.8 29.2h0M597.8 29.6h0M598.7 32.5h0M598.6 31.1h0M598.6 29.3h0M598.6 31.8h0M597.7 31.3h0M598.4 29.1h0M598.1 30.1h0M598.0 24.6h0M597.8 25.1h0M597.9 31.9h0M598.5 23.5h0M598.4 24.8h0M598.5 25.2h0M597.9 23.6h0M597.8 23.3h0M598.6 27.9h0M597.8 32.0h0M598.0 31.7h0M598.2 26.9h0M598.0 24.8h0M597.7 24.0h0M598.0 29.9h0M598.2 29.0h0M598.2 29.0h0M598.3 26.6h0M598.2 31.1h0M598.4 25.3h0M598.3 27.0h0M597.7 26.5h0M598.3 23.0h0M598.3 29.5h0M597.7 30.7h0M597.8 23.4h0M598.2 25.7h0M598.0 29.0h0M597.9 27.0h0M598.4 23.9h0M598.0 30.3h0M598.0 25.1h0M598.1 26.8h0M598.4 27.4h0M598.0 31.2h0M598.6 30.5h0M598.4 29.3h0M598.3 29.0h0M598.2 25.2h0M598.2 24.6h0M598.6 28.8h0M613.6 22.4h0M613.6 24.8h0M613.9 29.1h0M614.1 27.0h0M613.1 25.5h0M613.1 23.5h0M613.4 24.2h0M613.3 26.9h0M613.8 27.6h0M613.8 24.4h0M613.6 30.4h0M613.5 29.1h0M613.3 29.5h0M613.5 27.5h0M613.7 30.5h0M613.8 26.9h0M614.0 25.4h0M613.4 27.5h0M613.4 22.6h0M613.6 26.9h0M613.1 22.6h0M613.4 21.6h0M613.8 27.8h0M613.8 24.7h0M613.5 22.1h0M614.0 27.6h0M613.6 26.6h0M613.3 28.1h0M613.3 31.1h0M614.0 21.3h0M613.4 22.5h0M613.9 22.6h0M613.4 22.4h0M613.5 22.6h0M614.0 27.2h0M614.0 29.2h0M613.9 28.7h0M613.3 25.6h0M613.8 22.1h0M613.2 22.9h0M613.8 22.6h0M613.5 23.6h0M614.0 28.3h0M613.9 26.0h0M613.9 21.7h0M613.3 28.4h0M613.9 25.7h0M613.2 30.1h0M613.4 27.7h0M613.2 22.6h0M614.1 22.4h0M613.7 25.3h0M613.7 31.2h0M613.7 27.3h0M614.0 25.2h0M613.2 29.8h0M613.2 29.8h0M613.5 31.1h0M613.7 25.4h0M613.9 31.3h0M628.6 26.3h0M628.9 21.8h0M629.3 28.9h0M629.0 26.4h0M628.7 24.5h0M628.9 29.4h0M628.5 28.5h0M629.4 24.2h0M628.6 28.5h0M629.0 28.5h0M629.2 30.5h0M629.2 27.4h0M629.1 25.5h0M629.5 27.2h0M629.1 25.6h0M629.1 29.5h0M629.5 27.0h0M629.1 22.3h0M628.9 26.6h0M629.1 24.8h0M628.7 28.3h0M628.8 23.2h0M629.4 27.1h0M629.4 27.9h0M629.2 28.2h0M628.5 25.5h0M629.1 24.6h0M628.6 28.1h0M629.1 24.9h0M628.7 27.1h0M628.6 28.6h0M629.3 24.4h0M628.6 28.7h0M629.5 23.1h0M629.2 25.9h0M629.4 30.1h0M628.7 27.9h0M629.1 26.1h0M628.6 23.4h0M629.0 26.1h0M629.1 25.4h0M628.9 28.1h0M628.5 23.7h0M629.3 30.6h0M629.4 30.4h0M629.4 21.8h0M628.5 22.6h0M628.5 23.9h0M629.0 22.0h0M629.0 22.9h0M629.2 23.5h0M629.0 28.1h0M628.8 27.0h0M628.5 24.3h0M629.4 27.6h0M629.5 28.3h0M643.9 27.9h0M644.2 30.8h0M644.3 29.1h0M644.3 27.8h0M644.5 28.4h0M644.5 25.4h0M644.6 24.0h0M644.6 31.1h0M644.9 26.5h0M644.7 28.1h0M644.0 25.6h0M644.7 27.7h0M644.6 23.9h0M644.5 27.7h0M644.7 28.8h0M644.0 25.2h0M644.7 23.6h0M644.0 22.4h0M644.7 23.6h0M644.6 26.8h0M644.6 30.9h0M644.8 28.7h0M644.2 26.3h0M644.0 22.0h0M644.1 27.7h0M644.4 23.7h0M644.3 25.0h0M643.9 31.1h0M644.5 30.6h0M644.7 29.0h0M644.4 25.3h0M644.1 28.4h0M644.5 25.8h0M644.2 22.2h0M644.1 31.3h0M644.7 26.7h0M644.2 26.5h0M644.7 30.3h0M644.3 25.5h0M644.7 29.6h0M643.9 22.9h0M644.8 22.2h0M644.3 30.7h0M644.7 31.0h0M644.6 27.9h0M644.6 26.4h0M644.3 30.3h0M644.8 27.8h0M644.1 24.0h0M644.4 26.1h0M644.5 27.5h0M644.8 29.2h0M644.2 25.8h0M644.6 22.0h0M644.1 23.9h0M643.9 21.9h0M659.6 25.5h0M659.6 25.4h0M659.9 26.8h0M660.2 25.9h0M659.6 27.0h0M660.1 25.7h0M659.5 25.8h0M659.5 25.9h0M659.5 26.7h0M660.0 26.5h0M660.1 26.9h0M659.5 25.4h0M659.9 25.7h0M660.1 25.8h0M659.8 27.0h0M659.6 26.2h0M675.0 17.5h0M675.0 25.8h0M675.2 26.6h0" stroke="#3a80c4" stroke-width="3.50" stroke-linecap="round" fill="none"/>
<path d="M436.5 14.2V89.5H683.5" stroke="#4a4a4a" stroke-width="1.15" fill="none"/>
<line x1="433.2" y1="30.3" x2="436.5" y2="30.3" stroke="#444" stroke-width="0.9"/>
<text x="430.0" y="33.2" font-size="8.40" text-anchor="end" textLength="16.5" lengthAdjust="spacingAndGlyphs">0.25</text>
<line x1="433.2" y1="55.5" x2="436.5" y2="55.5" stroke="#444" stroke-width="0.9"/>
<text x="430.0" y="58.4" font-size="8.40" text-anchor="end" textLength="16.5" lengthAdjust="spacingAndGlyphs">0.00</text>
<line x1="433.2" y1="81.3" x2="436.5" y2="81.3" stroke="#444" stroke-width="0.9"/>
<text x="430.0" y="84.2" font-size="8.40" text-anchor="end" textLength="22.7" lengthAdjust="spacingAndGlyphs">−0.25</text>
<line x1="443.5" y1="89.2" x2="443.5" y2="92.5" stroke="#444" stroke-width="0.9"/>
<text x="443.5" y="101.8" font-size="8.40" text-anchor="middle" textLength="4.7" lengthAdjust="spacingAndGlyphs">0</text>
<line x1="474.6" y1="89.2" x2="474.6" y2="92.5" stroke="#444" stroke-width="0.9"/>
<text x="474.6" y="101.8" font-size="8.40" text-anchor="middle" textLength="4.7" lengthAdjust="spacingAndGlyphs">2</text>
<line x1="505.6" y1="89.2" x2="505.6" y2="92.5" stroke="#444" stroke-width="0.9"/>
<text x="505.6" y="101.8" font-size="8.40" text-anchor="middle" textLength="4.7" lengthAdjust="spacingAndGlyphs">4</text>
<line x1="536.7" y1="89.2" x2="536.7" y2="92.5" stroke="#444" stroke-width="0.9"/>
<text x="536.7" y="101.8" font-size="8.40" text-anchor="middle" textLength="4.7" lengthAdjust="spacingAndGlyphs">6</text>
<line x1="567.7" y1="89.2" x2="567.7" y2="92.5" stroke="#444" stroke-width="0.9"/>
<text x="567.7" y="101.8" font-size="8.40" text-anchor="middle" textLength="4.7" lengthAdjust="spacingAndGlyphs">8</text>
<line x1="598.8" y1="89.2" x2="598.8" y2="92.5" stroke="#444" stroke-width="0.9"/>
<text x="598.8" y="101.8" font-size="8.40" text-anchor="middle" textLength="9.4" lengthAdjust="spacingAndGlyphs">10</text>
<line x1="629.9" y1="89.2" x2="629.9" y2="92.5" stroke="#444" stroke-width="0.9"/>
<text x="629.9" y="101.8" font-size="8.40" text-anchor="middle" textLength="9.4" lengthAdjust="spacingAndGlyphs">12</text>
<line x1="660.9" y1="89.2" x2="660.9" y2="92.5" stroke="#444" stroke-width="0.9"/>
<text x="660.9" y="101.8" font-size="8.40" text-anchor="middle" textLength="9.4" lengthAdjust="spacingAndGlyphs">14</text>
<text x="560.0" y="114.5" font-size="8.80" text-anchor="middle" textLength="68.4" lengthAdjust="spacingAndGlyphs">Maternal  stress</text>
<text x="400.7" y="52.1" font-size="7.80" text-anchor="middle" textLength="48.7" lengthAdjust="spacingAndGlyphs" transform="rotate(-90 400.7 52.1)">SHAP values</text>
<path d="M436.3 193.2 L436.3 158.2 L484.8 158.2 L484.8 182.3 L534.5 182.3 L534.5 175.0 L584.3 175.0 L584.3 184.9 L633.5 184.9 L633.5 188.2 L683.5 188.2 L683.5 193.2 Z" fill="#e5e5e5"/>
<path d="M457.8 183.9h0M459.4 189.5h0M464.3 189.0h0M458.9 181.6h0M463.9 183.7h0M460.0 187.5h0M456.8 186.5h0M465.3 184.4h0M459.4 175.3h0M459.9 176.7h0M457.1 176.5h0M462.5 183.3h0M465.2 178.3h0M458.6 177.7h0M459.0 185.6h0M464.9 176.4h0M465.2 185.3h0M457.8 178.4h0M460.1 189.4h0M458.1 177.0h0M456.9 178.6h0M458.0 185.6h0M465.3 187.0h0M456.0 189.0h0M457.1 184.1h0M459.6 177.5h0M457.4 183.7h0M458.1 180.8h0M463.1 188.6h0M461.3 187.3h0M455.9 188.5h0M461.2 188.5h0M461.1 184.4h0M460.9 175.3h0M461.9 187.9h0M459.4 189.2h0M456.5 184.4h0M457.3 184.3h0M458.8 188.6h0M461.3 183.2h0M458.7 177.8h0M456.2 180.8h0M455.6 184.5h0M461.6 186.2h0M455.7 184.7h0M458.5 188.8h0M457.2 181.3h0M460.9 175.4h0M462.3 179.1h0M463.4 176.6h0M461.0 176.4h0M458.4 189.2h0M457.6 188.3h0M456.4 187.2h0M463.6 177.7h0M458.3 186.0h0M458.5 181.5h0M463.5 177.5h0M461.0 188.0h0M460.8 176.2h0M456.0 179.9h0M460.3 188.4h0M457.3 184.5h0M457.2 177.8h0M459.2 184.8h0M461.0 179.9h0M462.7 187.4h0M459.3 182.2h0M458.5 176.6h0M457.4 177.9h0M458.2 178.9h0M464.6 175.8h0M465.4 184.8h0M459.7 175.7h0M464.5 182.9h0M460.5 175.7h0M462.5 181.4h0M460.9 176.1h0M455.7 187.8h0M462.1 188.2h0M455.7 175.5h0M461.3 176.7h0M462.7 181.4h0M460.9 178.4h0M463.8 177.2h0M464.6 188.1h0M459.3 185.9h0M456.0 181.2h0M457.6 179.6h0M460.2 178.1h0M463.6 184.0h0M465.3 184.7h0M460.7 179.2h0M457.1 176.6h0M458.8 180.9h0M463.9 186.1h0M456.1 179.0h0M460.8 178.0h0M455.9 189.5h0M456.1 176.3h0M464.2 189.4h0M464.6 177.6h0M463.2 179.6h0M463.1 183.0h0M464.7 185.6h0M462.1 186.9h0M459.6 178.6h0M460.4 176.6h0M465.2 183.3h0M456.6 180.7h0M462.0 178.8h0M459.3 183.5h0M457.2 188.2h0M458.0 177.1h0M456.6 187.5h0M456.1 175.6h0M463.3 183.1h0M459.7 189.2h0M457.0 186.4h0M459.2 188.2h0M455.9 176.7h0M456.6 178.0h0M462.9 175.9h0M457.5 186.4h0M459.0 187.0h0M463.6 184.8h0M458.4 178.7h0M461.0 189.1h0M463.2 183.9h0M464.1 178.8h0M461.2 184.7h0M462.3 181.1h0M455.6 189.4h0M455.5 177.9h0M457.4 179.9h0M462.8 178.8h0M457.7 188.0h0M459.5 186.9h0M463.3 188.3h0M462.7 178.0h0M509.7 181.5h0M509.6 176.3h0M505.6 179.3h0M509.5 184.9h0M509.1 181.3h0M511.7 183.2h0M508.7 187.4h0M506.9 179.2h0M514.4 186.9h0M508.9 182.5h0M513.7 178.5h0M515.0 176.8h0M509.0 189.0h0M506.2 182.7h0M514.1 187.6h0M511.1 184.2h0M509.8 176.7h0M506.8 181.5h0M512.1 179.9h0M514.3 185.1h0M514.4 181.7h0M510.8 182.3h0M509.5 185.4h0M506.9 183.0h0M506.0 184.8h0M511.8 180.3h0M510.1 179.1h0M508.9 178.9h0M507.1 179.8h0M514.1 183.0h0M512.9 182.5h0M506.5 176.9h0M510.1 182.1h0M509.7 176.2h0M512.0 187.5h0M510.3 180.9h0M514.7 176.3h0M506.9 176.8h0M513.2 186.9h0M508.5 185.9h0M506.1 179.8h0M509.3 175.6h0M512.5 183.4h0M507.3 186.4h0M510.0 176.1h0M511.7 175.7h0M510.1 185.7h0M509.1 185.6h0M512.5 185.7h0M507.8 177.7h0M510.2 183.7h0M514.1 188.1h0M509.5 181.6h0M507.4 187.7h0M510.7 186.9h0M506.6 178.1h0M512.4 181.5h0M511.9 186.4h0M507.7 186.6h0M510.3 180.0h0M512.0 179.2h0M505.3 178.1h0M511.8 177.6h0M506.2 180.4h0M510.0 179.0h0M514.6 184.1h0M508.1 180.9h0M507.4 188.8h0M506.3 186.4h0M505.8 185.2h0M511.0 177.6h0M509.1 176.1h0M512.3 176.5h0M505.3 183.7h0M514.5 187.6h0M509.9 177.1h0M511.3 179.5h0M513.5 178.5h0M509.1 177.1h0M508.9 180.3h0M508.6 188.5h0M506.4 178.1h0M508.4 188.4h0M512.7 185.5h0M507.2 185.8h0M507.4 183.5h0M510.5 182.5h0M511.5 180.5h0M513.1 185.2h0M507.9 177.6h0M561.5 146.1h0M559.5 145.5h0M559.5 158.7h0M562.4 142.5h0M564.2 158.3h0M564.6 149.2h0M556.1 155.8h0M556.9 160.3h0M564.3 148.5h0M559.0 151.6h0M557.1 154.2h0M558.9 143.7h0M559.6 158.9h0M563.3 157.2h0M560.7 148.7h0M555.1 160.8h0M555.4 143.1h0M564.0 150.1h0M556.9 158.0h0M554.7 146.5h0M561.0 145.2h0M559.5 153.4h0M560.0 161.3h0M562.5 147.9h0M560.8 143.7h0M558.1 155.6h0M562.6 150.2h0M554.7 150.0h0M557.7 161.1h0M564.4 151.5h0M556.4 154.5h0M554.9 157.2h0M554.5 160.0h0M563.5 150.7h0M555.2 150.0h0M562.9 151.1h0M557.9 149.8h0M559.4 148.1h0M556.7 161.7h0M561.7 155.3h0M556.0 152.7h0M563.4 144.7h0M555.9 142.4h0M559.1 155.7h0M561.5 150.3h0M559.1 151.3h0M557.7 147.0h0M561.6 159.6h0M556.4 160.8h0M560.6 147.6h0M554.3 150.0h0M564.3 152.8h0M564.5 143.2h0M557.9 145.2h0M557.0 154.2h0M557.7 156.7h0M559.5 143.8h0M555.2 155.8h0M558.5 161.7h0M556.3 143.0h0M561.1 154.1h0M557.4 144.5h0M561.8 153.1h0M561.6 159.2h0M560.4 162.5h0M559.0 160.1h0M562.9 159.0h0M556.1 153.7h0M557.3 162.5h0M555.2 147.4h0M559.5 151.8h0M557.8 148.8h0M564.4 140.8h0M561.3 160.2h0M556.7 158.6h0M558.3 160.1h0M559.8 143.6h0M560.8 150.0h0M554.9 161.0h0M555.7 155.4h0M558.9 141.0h0M555.4 153.3h0M564.0 145.1h0M558.6 157.0h0M560.8 158.7h0M554.5 141.5h0M558.1 153.5h0M555.1 152.8h0M558.3 145.5h0M558.7 141.5h0M561.0 143.4h0M558.0 140.9h0M564.2 159.0h0M559.9 144.9h0M555.3 152.0h0M555.7 147.0h0M559.0 146.7h0M562.7 149.7h0M556.3 156.1h0M560.8 142.5h0M557.7 141.0h0M563.3 142.8h0M562.8 153.0h0M558.5 154.0h0M561.7 141.4h0M558.4 148.2h0M556.7 143.0h0M559.8 157.9h0M555.2 145.7h0M558.3 162.1h0M559.4 143.9h0M557.0 142.7h0M556.6 156.6h0M556.1 145.6h0M558.0 156.7h0M562.9 154.3h0M561.6 145.7h0M563.1 146.8h0M556.8 153.6h0M558.5 157.2h0M555.3 142.3h0M562.6 151.2h0M560.5 145.1h0M554.7 145.7h0M554.7 154.3h0M561.6 162.6h0M555.1 149.7h0M563.6 144.8h0M560.0 158.4h0M564.3 142.1h0M564.4 143.0h0M563.4 144.2h0M559.6 159.3h0M558.4 142.5h0M556.3 155.5h0M556.7 151.1h0M558.4 142.8h0M561.7 159.6h0M564.0 144.1h0M557.1 159.7h0M606.3 135.4h0M609.4 137.0h0M613.0 129.7h0M606.1 124.1h0M605.7 131.9h0M610.0 124.7h0M613.5 128.8h0M604.5 123.5h0M609.2 123.1h0M609.4 127.7h0M605.3 127.5h0M607.8 136.1h0M604.0 139.0h0M609.8 127.7h0M612.6 136.4h0M612.6 139.5h0M603.8 135.5h0M612.1 123.6h0M611.6 137.8h0M605.9 129.3h0M609.9 129.4h0M604.0 138.2h0M606.1 129.9h0M609.4 130.2h0M612.9 136.6h0M609.1 126.4h0M604.7 139.0h0M603.8 135.9h0M609.9 135.3h0M609.7 126.0h0M603.6 133.1h0M608.3 131.7h0M612.1 126.1h0M604.3 128.0h0M613.2 127.6h0M610.3 131.8h0M604.0 131.1h0M610.4 138.8h0M611.4 125.4h0M609.2 127.4h0M604.2 127.4h0M610.6 139.6h0M606.8 122.3h0M608.0 122.5h0M604.7 139.6h0M611.2 133.6h0M605.9 124.8h0M609.0 123.0h0M606.1 128.1h0M610.0 132.7h0M613.8 139.4h0M604.8 137.4h0M604.0 132.7h0M606.3 130.0h0M609.4 133.3h0M611.6 139.4h0M609.5 123.3h0M606.8 137.6h0M612.1 138.5h0M605.8 130.1h0M611.7 127.7h0M608.8 125.4h0M607.3 126.3h0M613.9 127.3h0M605.2 132.3h0M609.3 128.9h0M611.6 132.3h0M607.7 136.9h0M603.9 134.9h0M606.0 129.0h0M613.3 135.5h0M613.6 138.7h0M608.9 126.0h0M610.3 122.4h0M613.8 123.8h0M607.5 132.4h0M608.0 136.8h0M603.6 124.4h0M613.2 132.5h0M609.1 135.6h0M611.7 136.4h0M607.1 129.3h0M605.9 123.7h0M604.5 129.6h0M605.4 136.5h0M612.2 124.2h0M609.4 137.4h0M613.4 123.5h0M608.2 138.4h0M604.1 131.9h0M612.1 124.5h0M608.5 135.0h0M604.2 129.6h0M605.8 129.5h0M613.7 125.4h0M606.5 125.8h0M610.5 136.3h0M613.2 124.5h0M612.0 134.2h0M613.3 124.8h0M608.7 124.6h0M611.2 134.0h0M613.5 133.4h0M610.4 127.9h0M613.5 125.1h0M609.1 134.4h0M612.4 128.8h0M613.7 133.3h0M611.4 135.0h0M611.1 133.7h0M611.1 127.5h0M605.7 134.0h0M611.2 130.0h0M610.2 128.7h0M604.4 129.3h0M608.1 139.2h0M608.5 138.1h0M611.2 139.0h0M612.9 127.0h0M608.0 123.5h0M611.8 131.5h0M607.2 125.5h0M613.0 130.4h0M612.6 139.1h0M609.2 130.8h0M605.8 136.7h0M604.9 125.7h0M607.4 123.9h0M608.5 136.8h0M609.2 138.9h0M604.4 147.9h0M657.7 124.2h0M655.1 129.3h0M655.5 123.0h0M662.0 129.3h0M654.2 129.0h0M657.6 132.1h0M660.8 123.7h0M662.3 136.1h0M658.3 129.6h0M654.6 135.9h0M660.8 127.7h0M656.6 121.1h0M656.5 123.3h0M654.8 138.3h0M656.8 127.7h0M661.8 124.3h0M654.6 136.3h0M658.1 127.4h0M659.9 133.3h0M657.7 125.4h0M658.4 129.3h0M657.9 122.1h0M656.1 124.6h0M657.0 122.3h0M657.2 123.4h0M658.6 132.9h0M654.1 127.6h0M657.2 131.4h0M654.8 127.2h0M660.5 136.9h0M662.7 121.6h0M662.3 128.8h0M658.8 136.8h0M654.8 125.7h0M660.7 135.1h0M661.5 137.3h0M658.8 123.4h0M659.5 127.8h0M654.3 121.5h0M657.0 121.5h0M662.8 129.8h0M657.0 138.0h0M661.6 137.2h0M658.3 126.2h0M662.0 126.8h0M659.9 131.3h0M661.2 126.9h0M657.4 131.8h0M656.0 122.3h0M662.4 130.2h0M659.2 130.3h0M660.1 127.9h0M660.5 129.8h0M655.1 135.4h0M655.8 133.8h0M654.0 130.4h0M656.5 129.3h0M657.8 128.5h0M662.8 127.3h0M661.3 136.6h0M659.1 125.3h0M660.7 134.8h0M657.4 133.9h0M660.9 136.1h0M661.7 121.0h0M656.9 125.3h0M654.8 126.2h0M655.1 121.4h0M658.1 124.3h0M659.1 136.5h0M657.4 137.0h0M657.8 125.1h0M653.9 122.2h0M657.5 133.0h0M658.4 122.1h0M658.7 137.8h0M661.7 133.6h0M656.7 136.4h0M661.0 132.4h0M660.0 135.2h0M658.9 127.2h0M661.4 123.2h0M659.2 135.8h0M661.1 124.5h0M657.7 132.0h0M654.5 127.3h0M660.1 129.2h0M654.3 135.7h0M658.5 131.8h0M655.3 124.2h0M654.3 122.2h0M659.0 137.0h0M662.9 137.6h0M655.4 121.4h0M653.7 134.9h0M656.6 132.9h0M661.5 135.3h0M658.2 136.7h0M662.4 128.2h0M660.8 128.1h0M653.8 124.8h0M656.6 126.4h0M658.1 130.0h0M662.1 131.3h0M655.1 126.2h0M658.7 133.4h0M661.0 131.9h0M658.3 123.5h0M657.9 134.1h0M660.6 126.1h0" stroke="#3a80c4" stroke-width="3.50" stroke-linecap="round" fill="none"/>
<path d="M436.5 118.3V193.5H683.5" stroke="#4a4a4a" stroke-width="1.15" fill="none"/>
<line x1="433.0" y1="123.6" x2="436.3" y2="123.6" stroke="#444" stroke-width="0.9"/>
<text x="429.8" y="126.5" font-size="8.40" text-anchor="end" textLength="11.8" lengthAdjust="spacingAndGlyphs">0.1</text>
<line x1="433.0" y1="166.5" x2="436.3" y2="166.5" stroke="#444" stroke-width="0.9"/>
<text x="429.8" y="169.4" font-size="8.40" text-anchor="end" textLength="11.8" lengthAdjust="spacingAndGlyphs">0.0</text>
<line x1="460.3" y1="193.2" x2="460.3" y2="196.5" stroke="#444" stroke-width="0.9"/>
<text x="460.3" y="205.2" font-size="8.40" text-anchor="middle" textLength="4.7" lengthAdjust="spacingAndGlyphs">0</text>
<line x1="509.8" y1="193.2" x2="509.8" y2="196.5" stroke="#444" stroke-width="0.9"/>
<text x="509.8" y="205.2" font-size="8.40" text-anchor="middle" textLength="4.7" lengthAdjust="spacingAndGlyphs">1</text>
<line x1="559.3" y1="193.2" x2="559.3" y2="196.5" stroke="#444" stroke-width="0.9"/>
<text x="559.3" y="205.2" font-size="8.40" text-anchor="middle" textLength="4.7" lengthAdjust="spacingAndGlyphs">2</text>
<line x1="608.8" y1="193.2" x2="608.8" y2="196.5" stroke="#444" stroke-width="0.9"/>
<text x="608.8" y="205.2" font-size="8.40" text-anchor="middle" textLength="4.7" lengthAdjust="spacingAndGlyphs">3</text>
<line x1="658.3" y1="193.2" x2="658.3" y2="196.5" stroke="#444" stroke-width="0.9"/>
<text x="658.3" y="205.2" font-size="8.40" text-anchor="middle" textLength="4.7" lengthAdjust="spacingAndGlyphs">4</text>
<text x="559.9" y="218.4" font-size="9.40" text-anchor="middle" textLength="147.1" lengthAdjust="spacingAndGlyphs">Noise disturbance (other children)</text>
<text x="410.8" y="156.2" font-size="7.90" text-anchor="middle" textLength="49.3" lengthAdjust="spacingAndGlyphs" transform="rotate(-90 410.8 156.2)">SHAP values</text>
<path d="M436.3 297.1 L436.3 296.5 L530.0 296.5 L530.0 296.0 L545.0 296.0 L545.0 295.0 L567.0 295.0 L567.0 294.0 L578.0 294.0 L578.0 295.5 L598.0 295.5 L598.0 296.5 L640.0 296.5 L640.0 297.1 Z" fill="#e5e5e5"/>
<path d="M447.1 291.6h0M462.9 292.2h0M516.8 290.7h0M511.0 293.2h0M537.0 291.7h0M503.1 290.0h0M533.8 292.8h0M565.8 290.3h0M486.2 291.3h0M548.7 290.7h0M551.6 291.6h0M513.1 292.0h0M478.0 292.0h0M557.1 291.5h0M500.5 292.0h0M476.8 290.4h0M543.8 292.3h0M544.6 291.6h0M516.5 292.8h0M522.3 292.4h0M514.6 292.5h0M516.6 290.9h0M545.4 290.7h0M477.8 290.4h0M489.3 290.8h0M507.8 293.0h0M521.7 292.6h0M495.0 291.4h0M485.9 293.2h0M484.8 293.1h0M477.3 292.9h0M547.5 291.6h0M475.2 291.9h0M544.7 293.0h0M559.8 292.7h0M559.4 291.9h0M528.7 290.3h0M509.4 291.8h0M531.6 290.7h0M527.2 291.6h0M510.5 290.0h0M566.3 292.1h0M543.2 290.5h0M492.3 292.2h0M542.3 292.6h0M495.6 291.3h0M481.0 290.5h0M484.6 292.6h0M491.4 290.1h0M481.9 290.1h0M562.2 291.9h0M502.4 291.0h0M506.7 290.3h0M474.5 289.8h0M553.0 290.0h0M520.2 290.8h0M521.2 291.4h0M504.1 290.3h0M512.5 292.4h0M510.8 291.6h0M519.8 291.1h0M543.2 291.4h0M508.1 290.3h0M540.3 292.6h0M552.9 290.4h0M485.7 290.1h0M499.1 292.7h0M494.5 290.2h0M525.2 290.6h0M499.1 292.4h0M565.6 290.7h0M501.6 292.6h0M488.3 291.7h0M521.1 290.9h0M524.1 290.5h0M505.6 293.2h0M511.1 293.0h0M544.0 293.2h0M483.3 291.8h0M539.0 292.4h0M519.6 292.6h0M565.8 291.9h0M488.1 290.3h0M481.4 292.8h0M490.3 291.6h0M540.6 291.1h0M561.8 291.8h0M533.8 291.1h0M485.3 290.4h0M481.1 289.8h0M517.3 291.0h0M476.2 292.7h0M550.6 292.5h0M506.4 291.6h0M491.2 290.5h0M483.0 292.8h0M505.2 290.7h0M561.9 292.9h0M543.5 290.5h0M516.2 292.7h0M477.2 293.2h0M560.4 292.6h0M556.1 291.6h0M509.6 292.6h0M494.6 290.0h0M489.0 290.5h0M557.5 291.6h0M525.9 289.9h0M494.9 290.0h0M547.7 292.0h0M539.3 291.3h0M521.3 292.1h0M488.8 291.9h0M503.3 290.1h0M559.9 291.3h0M558.3 291.8h0M535.5 292.1h0M563.6 291.6h0M562.5 292.0h0M495.1 292.4h0M510.4 289.9h0M561.9 292.2h0M490.6 290.2h0M524.6 291.4h0M553.2 290.0h0M528.4 292.3h0M544.9 290.4h0M492.2 293.0h0M524.7 292.3h0M498.0 292.8h0M508.5 291.9h0M496.9 290.5h0M547.2 292.6h0M550.2 292.6h0M524.1 290.4h0M488.3 291.0h0M484.4 292.4h0M564.7 292.1h0M544.3 289.9h0M487.0 290.9h0M479.8 292.6h0M513.3 293.0h0M499.4 293.2h0M544.4 292.9h0M506.3 291.8h0M510.1 293.1h0M539.8 291.1h0M495.4 290.8h0M532.8 293.0h0M549.6 293.2h0M538.3 290.0h0M482.2 292.8h0M487.9 290.9h0M505.0 290.3h0M547.6 291.4h0M518.5 290.5h0M509.3 291.1h0M541.9 293.0h0M501.8 290.8h0M539.1 291.9h0M494.2 290.5h0M553.8 291.1h0M491.3 291.3h0M529.1 292.6h0M539.2 290.4h0M521.0 291.1h0M532.2 292.3h0M510.9 293.0h0M528.2 290.7h0M556.4 292.9h0M508.9 292.4h0M538.2 292.9h0M556.6 290.5h0M527.5 290.9h0M509.9 292.0h0M517.0 292.4h0M503.2 292.7h0M488.3 292.6h0M541.9 292.5h0M549.0 293.1h0M533.8 292.5h0M553.7 292.6h0M538.0 293.1h0M528.6 292.6h0M494.4 291.4h0M496.1 291.3h0M543.5 293.2h0M536.7 291.5h0M536.6 290.1h0M540.9 293.0h0M526.9 292.0h0M527.1 293.0h0M554.9 292.6h0M545.0 291.6h0M510.4 291.9h0M475.4 291.8h0M511.6 291.9h0M487.6 292.6h0M484.7 291.1h0M510.8 291.9h0M488.6 291.7h0M474.7 292.8h0M559.7 291.8h0M531.9 291.7h0M544.2 291.2h0M488.7 290.1h0M525.7 290.0h0M526.6 291.2h0M532.0 293.2h0M563.5 290.3h0M497.9 291.0h0M556.2 291.6h0M543.8 291.5h0M526.4 291.3h0M505.5 290.6h0M517.9 291.8h0M496.0 291.2h0M541.7 291.4h0M555.1 292.6h0M554.5 290.7h0M539.9 293.0h0M487.3 290.2h0M476.2 290.1h0M528.1 291.7h0M533.2 290.5h0M553.0 290.3h0M493.2 290.8h0M525.4 290.0h0M528.9 292.6h0M496.9 293.0h0M511.3 292.0h0M474.7 292.7h0M491.4 292.8h0M544.2 292.6h0M543.1 293.1h0M488.8 290.2h0M482.4 291.7h0M539.0 292.8h0M564.4 291.7h0M555.1 292.9h0M507.5 291.1h0M505.2 292.0h0M501.5 292.3h0M517.3 292.1h0M549.6 291.6h0M487.0 293.2h0M534.7 292.6h0M557.6 292.4h0M507.3 292.9h0M557.8 293.2h0M484.5 290.9h0M524.8 293.2h0M532.9 293.1h0M533.1 290.9h0M541.7 292.5h0M491.5 291.2h0M479.6 292.6h0M559.6 290.8h0M561.4 292.0h0M556.7 292.0h0M483.0 291.0h0M522.4 291.7h0M521.1 290.6h0M506.5 290.6h0M554.1 291.2h0M487.5 292.4h0M558.2 292.1h0M504.7 291.2h0M528.7 289.9h0M540.4 290.4h0M518.4 290.0h0M481.6 292.6h0M524.1 290.1h0M486.8 292.5h0M562.9 291.2h0M537.0 291.3h0M547.3 290.4h0M487.3 292.7h0M559.8 290.2h0M560.3 292.8h0M506.5 293.0h0M485.3 292.1h0M488.9 291.0h0M534.0 291.8h0M558.2 292.8h0M507.1 291.9h0M504.9 291.4h0M542.3 292.3h0M540.2 290.3h0M492.1 290.4h0M476.4 290.1h0M542.5 291.8h0M556.7 290.9h0M513.1 293.1h0M519.0 292.5h0M517.1 291.3h0M483.5 292.4h0M537.7 290.9h0M475.5 292.0h0M538.1 290.9h0M548.1 290.3h0M479.4 290.0h0M505.1 290.1h0M517.3 289.9h0M548.3 291.4h0M532.8 292.9h0M518.8 291.8h0M552.9 291.1h0M534.1 290.4h0M565.1 290.8h0M566.4 292.0h0M564.9 293.1h0M510.9 291.6h0M509.0 290.3h0M491.3 290.4h0M483.1 291.4h0M526.6 292.3h0M539.0 292.2h0M535.0 292.1h0M490.8 291.5h0M481.3 291.8h0M535.5 290.1h0M535.4 290.2h0M517.2 292.3h0M503.2 292.2h0M515.9 289.9h0M553.0 290.8h0M500.9 290.7h0M542.2 290.2h0M479.2 292.5h0M499.2 292.9h0M534.5 292.2h0M510.1 293.0h0M540.8 290.3h0M530.1 291.4h0M523.9 290.8h0M517.1 291.7h0M474.2 292.8h0M508.0 293.0h0M534.1 291.8h0M519.9 291.5h0M546.3 291.7h0M525.8 292.3h0M531.7 290.2h0M537.6 291.5h0M546.3 291.5h0M476.2 292.5h0M532.0 293.1h0M536.3 291.3h0M527.8 291.0h0M559.7 293.1h0M500.6 290.9h0M559.7 291.5h0M494.2 292.8h0M564.3 290.2h0M488.3 292.6h0M553.8 291.9h0M538.6 292.4h0M493.2 290.2h0M474.9 293.1h0M517.6 292.0h0M481.2 290.5h0M520.6 292.4h0M481.5 292.3h0M525.6 290.6h0M539.5 292.9h0M495.7 292.1h0M560.0 292.4h0M540.6 291.7h0M541.6 292.5h0M536.7 290.9h0M474.7 292.2h0M530.9 291.2h0M512.4 291.9h0M507.7 292.5h0M552.7 290.7h0M526.4 290.8h0M487.8 290.7h0M550.2 291.7h0M545.0 293.2h0M520.4 290.2h0M564.8 292.0h0M597.4 279.0h0M568.9 288.1h0M574.5 284.4h0M579.9 280.1h0M598.0 283.4h0M597.2 278.1h0M573.6 281.6h0M582.2 282.4h0M585.1 283.1h0M566.8 287.7h0M581.9 278.3h0M597.1 283.9h0M573.8 280.3h0M581.5 277.6h0M583.4 281.1h0M567.6 285.5h0M569.8 287.5h0M576.9 277.6h0M587.1 278.2h0M581.5 281.8h0M596.3 281.7h0M567.6 286.3h0M568.0 285.4h0M579.8 281.6h0M591.3 282.8h0M578.6 277.8h0M591.0 277.6h0M578.6 279.6h0M570.4 287.5h0M570.3 286.2h0M591.4 280.5h0M575.2 283.5h0M584.3 280.7h0M571.2 286.0h0M589.9 280.7h0M578.8 277.3h0M591.8 277.3h0M578.8 279.2h0M591.6 277.5h0M592.8 278.3h0M589.3 281.1h0M575.8 279.9h0M592.7 283.1h0M596.1 281.9h0M581.9 282.5h0M579.9 280.6h0M588.3 281.0h0M575.6 280.1h0M573.2 282.2h0M568.8 289.8h0M593.0 279.0h0M576.8 277.7h0M575.1 280.4h0M591.2 277.1h0M596.5 281.7h0M570.1 288.5h0M595.6 281.3h0M574.8 280.5h0M591.9 276.2h0M597.7 278.1h0M582.4 280.0h0M584.0 281.5h0M589.3 277.7h0M580.9 279.4h0M574.6 282.5h0M587.0 283.2h0M580.2 279.2h0M591.2 281.3h0M567.4 287.3h0M588.9 283.1h0M593.5 280.2h0M570.2 285.8h0M585.3 281.4h0M575.9 283.3h0M578.7 279.2h0M577.9 282.2h0M568.5 286.0h0M591.3 278.8h0M574.8 282.7h0M597.2 281.6h0M584.1 282.9h0M567.7 290.0h0M575.8 284.1h0M568.6 289.6h0M569.8 284.7h0M570.9 286.9h0M569.5 287.6h0M566.7 291.0h0M566.9 291.4h0M579.9 280.2h0M591.9 278.1h0M576.0 279.8h0M591.1 278.6h0M579.3 279.3h0M584.1 278.3h0M588.5 276.6h0M593.1 280.6h0M586.9 278.3h0M593.4 280.0h0M569.0 288.8h0M567.4 290.2h0M591.9 276.6h0M573.5 282.6h0M585.4 280.9h0M587.0 277.7h0M567.5 291.1h0M583.5 282.6h0M574.5 284.1h0M585.1 278.2h0M581.1 279.0h0M590.4 279.9h0M569.4 286.1h0M587.8 278.2h0M574.2 283.4h0M583.9 281.0h0M574.1 284.1h0M581.3 279.9h0M582.3 276.5h0M579.5 280.1h0M592.2 279.8h0M584.9 281.8h0M568.7 284.6h0M566.7 287.2h0M572.2 284.2h0M579.3 276.9h0M573.1 281.4h0M590.1 276.6h0M595.8 281.7h0M588.5 280.1h0M585.5 279.4h0M590.0 280.6h0M574.2 284.5h0M596.7 278.0h0M589.2 277.4h0M590.6 278.9h0M572.2 284.3h0M568.6 287.7h0M574.8 283.9h0M577.1 277.5h0M573.1 281.0h0M598.5 272.3h0M597.7 275.8h0M597.9 274.1h0M597.5 279.0h0M598.1 269.3h0M597.6 279.3h0M597.2 273.2h0M598.2 268.5h0M622.2 236.8h0M615.7 243.0h0M622.4 229.6h0M620.8 232.1h0M613.1 235.9h0M622.2 229.1h0M613.6 239.4h0M605.4 240.2h0M619.4 228.9h0M605.3 230.4h0M614.1 231.3h0M612.6 238.3h0M603.6 243.6h0M618.3 237.9h0M604.6 229.1h0M597.8 235.6h0M609.3 232.9h0M613.0 239.8h0M609.5 227.7h0M611.8 228.5h0M620.6 231.1h0M602.8 241.1h0M621.5 236.4h0M611.8 240.1h0M622.7 228.9h0M599.1 234.3h0M608.4 231.1h0M623.1 226.8h0M598.4 244.2h0M610.6 245.8h0M602.2 248.2h0M608.5 243.2h0M605.3 233.4h0M605.9 238.8h0M606.2 243.9h0M610.9 234.1h0M599.4 248.3h0M617.6 229.8h0M615.9 225.8h0M613.3 241.6h0M601.5 237.1h0M622.4 228.1h0M604.6 246.4h0M599.8 237.5h0M624.6 237.1h0M602.1 229.7h0M618.2 234.0h0M611.3 229.2h0M604.9 237.2h0M600.7 247.7h0M617.0 230.0h0M624.3 233.2h0M600.1 239.8h0M612.2 235.9h0M610.3 230.6h0M599.0 243.9h0M607.1 229.6h0M601.3 240.8h0M619.0 225.6h0M601.7 233.2h0M599.1 235.1h0M620.6 226.9h0M620.3 228.0h0M601.2 237.6h0M619.8 234.4h0M597.7 250.2h0M619.4 230.9h0M622.3 230.9h0M619.2 235.5h0M624.9 229.1h0M605.8 233.5h0M611.1 228.6h0M605.2 247.8h0M599.5 246.8h0M611.7 235.2h0M601.4 241.8h0M610.6 240.9h0M612.3 240.3h0M601.1 246.1h0M605.3 235.3h0M600.4 250.8h0M601.3 236.3h0M610.2 234.5h0M598.2 234.0h0M623.8 233.0h0M615.3 231.6h0M610.4 239.6h0M611.3 238.4h0M619.6 236.5h0M599.9 244.2h0M606.0 239.7h0M619.1 230.6h0M615.8 232.9h0M605.5 248.4h0M624.8 228.2h0M606.6 243.1h0M619.4 240.1h0M602.0 244.8h0M621.0 229.9h0M598.2 248.3h0M603.0 243.4h0M597.6 237.8h0M607.1 228.9h0M616.4 238.5h0M623.8 233.9h0M617.3 235.7h0M610.9 233.8h0M619.5 241.7h0M614.6 240.0h0M616.2 230.7h0M611.2 229.9h0M603.6 235.6h0M619.1 230.7h0M620.9 226.2h0M599.3 248.1h0M620.8 236.7h0M623.9 234.0h0M615.8 235.5h0M613.5 237.6h0M602.8 238.9h0M614.0 239.4h0M621.9 239.4h0M610.9 239.0h0M601.3 233.2h0M606.6 228.0h0M615.2 229.4h0M599.5 243.3h0M608.5 236.5h0M611.5 245.9h0M613.7 234.7h0M618.0 230.2h0M607.3 241.7h0M601.6 238.3h0M624.6 230.4h0M620.8 239.8h0M613.3 225.2h0M606.4 245.4h0M607.9 234.2h0M608.6 241.1h0M621.3 236.2h0M602.1 235.5h0M616.1 237.8h0M620.8 241.4h0M620.2 234.4h0M618.8 233.7h0M615.4 242.6h0M598.1 237.1h0M620.6 238.4h0M600.3 242.6h0M621.8 238.6h0M599.5 242.8h0M597.5 239.5h0M622.7 237.7h0M599.2 237.3h0M623.4 231.1h0M622.7 230.1h0M604.8 247.7h0M610.8 230.7h0M616.5 227.6h0M613.9 227.3h0M605.2 237.8h0M622.4 226.5h0M620.0 227.4h0M614.6 238.5h0M605.2 247.9h0M618.5 240.6h0M605.8 229.4h0M616.0 234.4h0M604.0 239.0h0M613.5 230.7h0M619.2 241.7h0M622.6 234.5h0M600.5 238.0h0M608.2 240.0h0M599.3 246.2h0M599.4 235.8h0M608.6 243.4h0M621.4 241.0h0M602.6 234.5h0M622.3 236.9h0M634.3 235.1h0M623.7 240.6h0M627.7 229.9h0M624.6 240.3h0M634.5 235.1h0M623.6 228.7h0M621.6 228.2h0M631.7 234.7h0M620.1 239.7h0M622.2 237.9h0M620.6 232.3h0M634.9 233.4h0M631.5 231.0h0M630.8 234.3h0M630.7 232.0h0M631.4 238.3h0M620.6 238.2h0M627.9 230.2h0M624.1 235.1h0M626.9 239.0h0M621.9 227.7h0M629.4 235.4h0M623.1 236.4h0M622.5 239.7h0M628.9 235.0h0M605.1 253.9h0M638.7 232.5h0M643.6 232.0h0M648.5 233.7h0M647.6 237.7h0M656.2 230.2h0M665.1 228.1h0M662.0 235.0h0M664.0 236.0h0M671.7 226.7h0M638.8 225.8h0M632.0 241.0h0M628.0 242.0h0" stroke="#3a80c4" stroke-width="3.50" stroke-linecap="round" fill="none"/>
<path d="M436.5 221.6V297.5H683.5" stroke="#4a4a4a" stroke-width="1.15" fill="none"/>
<line x1="433.0" y1="235.8" x2="436.3" y2="235.8" stroke="#444" stroke-width="0.9"/>
<text x="429.8" y="238.7" font-size="8.40" text-anchor="end" textLength="11.8" lengthAdjust="spacingAndGlyphs">0.2</text>
<line x1="433.0" y1="285.5" x2="436.3" y2="285.5" stroke="#444" stroke-width="0.9"/>
<text x="429.8" y="288.4" font-size="8.40" text-anchor="end" textLength="11.8" lengthAdjust="spacingAndGlyphs">0.0</text>
<line x1="435.9" y1="297.1" x2="435.9" y2="300.4" stroke="#444" stroke-width="0.9"/>
<text x="435.9" y="309.2" font-size="8.40" text-anchor="middle" textLength="10.9" lengthAdjust="spacingAndGlyphs">−4</text>
<line x1="488.4" y1="297.1" x2="488.4" y2="300.4" stroke="#444" stroke-width="0.9"/>
<text x="488.4" y="309.2" font-size="8.40" text-anchor="middle" textLength="10.9" lengthAdjust="spacingAndGlyphs">−2</text>
<line x1="540.9" y1="297.1" x2="540.9" y2="300.4" stroke="#444" stroke-width="0.9"/>
<text x="540.9" y="309.2" font-size="8.40" text-anchor="middle" textLength="4.7" lengthAdjust="spacingAndGlyphs">0</text>
<line x1="593.4" y1="297.1" x2="593.4" y2="300.4" stroke="#444" stroke-width="0.9"/>
<text x="593.4" y="309.2" font-size="8.40" text-anchor="middle" textLength="4.7" lengthAdjust="spacingAndGlyphs">2</text>
<line x1="645.9" y1="297.1" x2="645.9" y2="300.4" stroke="#444" stroke-width="0.9"/>
<text x="645.9" y="309.2" font-size="8.40" text-anchor="middle" textLength="4.7" lengthAdjust="spacingAndGlyphs">4</text>
<text x="559.9" y="323.0" font-size="9.20" text-anchor="middle" textLength="49.6" lengthAdjust="spacingAndGlyphs">zBMI (child)</text>
<text x="410.8" y="259.9" font-size="7.85" text-anchor="middle" textLength="49.0" lengthAdjust="spacingAndGlyphs" transform="rotate(-90 410.8 259.9)">SHAP values</text>
<path d="M431.6 421.0 L431.6 420.5 L460.0 420.5 L460.0 419.0 L470.0 419.0 L470.0 417.5 L485.0 417.5 L485.0 416.3 L500.0 416.3 L500.0 415.8 L515.0 415.8 L515.0 417.5 L530.0 417.5 L530.0 419.5 L545.0 419.5 L545.0 420.5 L580.0 420.5 L580.0 421.0 Z" fill="#e5e5e5"/>
<path d="M442.3 414.6h0M455.0 417.1h0M461.4 418.6h0M453.8 415.8h0M465.6 415.6h0M454.6 416.9h0M460.2 417.4h0M463.0 416.3h0M448.2 418.3h0M457.0 415.0h0M449.2 415.3h0M455.5 418.8h0M449.3 417.5h0M467.3 415.6h0M453.9 415.0h0M457.2 417.8h0M468.7 415.5h0M447.7 418.4h0M454.8 414.7h0M456.9 417.7h0M464.4 413.4h0M464.9 417.3h0M459.5 418.1h0M456.2 415.5h0M457.8 417.1h0M460.4 414.7h0M462.6 417.6h0M453.5 417.5h0M454.2 415.3h0M455.3 418.9h0M447.8 414.7h0M466.1 413.2h0M462.2 417.6h0M461.2 415.3h0M455.8 418.3h0M452.6 416.4h0M460.2 414.7h0M452.1 414.4h0M458.8 418.6h0M450.2 414.7h0M460.3 415.4h0M448.8 416.1h0M466.2 418.1h0M448.9 417.0h0M448.6 416.1h0M457.3 416.5h0M461.7 415.1h0M458.1 418.3h0M456.0 416.6h0M458.6 418.8h0M448.9 417.1h0M464.6 414.9h0M462.9 413.8h0M466.5 414.5h0M455.0 416.5h0M463.5 418.4h0M464.4 418.9h0M462.4 415.5h0M461.2 414.3h0M447.8 415.0h0M452.1 416.4h0M455.5 417.3h0M458.9 417.7h0M455.0 414.7h0M448.0 414.7h0M457.2 414.9h0M449.2 418.1h0M449.3 415.3h0M453.0 417.7h0M456.7 418.6h0M451.1 414.9h0M462.1 413.8h0M465.4 412.5h0M465.2 413.3h0M457.6 416.5h0M460.4 416.1h0M449.8 414.8h0M452.4 416.3h0M453.3 418.9h0M458.1 414.3h0M456.9 415.3h0M459.2 415.2h0M466.5 414.7h0M454.6 415.2h0M468.6 412.5h0M463.2 414.2h0M456.6 416.4h0M462.7 418.4h0M450.3 416.5h0M457.2 415.8h0M466.3 416.2h0M467.3 417.9h0M451.1 415.5h0M464.5 413.2h0M460.7 414.2h0M449.9 416.9h0M459.8 415.0h0M450.6 418.2h0M467.2 418.0h0M461.7 415.0h0M459.5 418.5h0M459.2 415.6h0M453.2 415.7h0M463.6 415.2h0M459.5 415.1h0M457.9 414.6h0M467.1 415.2h0M451.4 417.0h0M457.7 414.8h0M459.6 416.4h0M455.6 418.7h0M462.5 415.5h0M449.0 418.1h0M458.7 416.3h0M456.0 416.8h0M447.8 416.5h0M453.1 417.8h0M452.4 416.5h0M467.1 415.0h0M457.6 416.0h0M454.8 415.3h0M530.2 407.1h0M497.1 409.5h0M480.0 410.4h0M483.5 413.3h0M494.2 412.5h0M499.1 409.7h0M536.8 410.8h0M518.6 412.0h0M510.2 409.3h0M479.3 413.9h0M489.5 413.2h0M524.3 411.8h0M486.7 412.3h0M527.8 410.1h0M538.2 407.2h0M532.2 408.4h0M469.6 413.9h0M484.8 412.1h0M491.9 410.2h0M513.6 412.1h0M509.7 411.9h0M529.7 410.5h0M502.8 410.4h0M511.6 412.9h0M495.5 409.9h0M518.9 411.0h0M536.0 411.7h0M490.0 413.8h0M531.3 407.0h0M482.2 409.7h0M519.1 410.5h0M496.8 412.5h0M495.1 413.5h0M485.5 411.7h0M512.7 412.3h0M529.3 411.4h0M512.9 407.9h0M504.0 411.2h0M477.7 410.4h0M481.8 412.8h0M535.1 408.3h0M489.8 409.0h0M477.7 410.0h0M491.7 411.5h0M482.1 412.5h0M482.5 414.2h0M530.3 409.8h0M529.7 409.1h0M509.4 411.0h0M513.7 411.8h0M514.4 410.3h0M491.2 410.0h0M492.3 410.3h0M509.7 413.0h0M533.0 408.2h0M490.3 413.6h0M533.8 407.5h0M481.2 412.8h0M505.9 412.6h0M523.5 408.4h0M498.5 412.1h0M479.6 413.9h0M536.3 408.1h0M490.2 413.2h0M536.6 408.8h0M538.4 411.7h0M516.5 412.4h0M531.2 409.3h0M518.9 412.7h0M538.0 406.9h0M512.5 411.2h0M527.9 411.2h0M481.6 410.9h0M538.7 406.8h0M530.0 410.6h0M507.9 409.5h0M515.3 412.7h0M488.7 409.7h0M500.5 408.9h0M479.5 411.3h0M505.5 412.5h0M520.7 411.7h0M521.6 409.3h0M536.1 409.2h0M534.1 409.7h0M529.8 410.9h0M533.8 409.3h0M536.2 411.8h0M489.5 412.2h0M534.2 411.4h0M520.2 412.1h0M485.5 414.3h0M536.4 410.0h0M505.2 409.8h0M517.9 410.9h0M517.1 412.8h0M511.0 411.9h0M491.3 408.9h0M492.4 411.7h0M517.1 411.1h0M505.6 411.2h0M523.8 409.1h0M477.9 410.6h0M484.7 412.8h0M506.7 410.0h0M528.5 411.2h0M514.1 411.8h0M471.2 411.7h0M471.5 413.5h0M511.7 413.0h0M518.8 408.4h0M488.6 412.1h0M502.9 413.8h0M534.0 409.8h0M500.5 412.2h0M524.4 408.9h0M519.9 408.3h0M483.3 414.2h0M482.7 412.2h0M485.6 413.4h0M513.0 413.1h0M485.7 414.2h0M482.3 413.1h0M506.1 408.4h0M504.1 411.8h0M486.7 412.0h0M529.9 409.0h0M518.9 410.3h0M514.7 408.0h0M516.3 407.9h0M523.4 411.1h0M471.9 410.8h0M506.5 410.6h0M504.6 412.0h0M499.4 411.9h0M536.0 409.2h0M533.2 411.0h0M486.2 411.1h0M486.3 411.4h0M531.5 411.6h0M529.5 408.9h0M499.5 413.4h0M487.6 409.7h0M501.9 412.8h0M523.7 408.8h0M505.8 413.4h0M475.2 412.5h0M489.0 412.2h0M478.5 412.8h0M507.7 413.2h0M512.4 409.4h0M475.4 410.6h0M521.9 411.4h0M493.5 410.6h0M529.2 410.0h0M509.1 410.4h0M507.3 412.6h0M532.9 411.1h0M512.8 413.1h0M481.5 414.6h0M518.2 408.2h0M521.6 409.8h0M474.5 411.6h0M499.1 411.4h0M481.2 411.6h0M512.2 408.5h0M502.2 411.8h0M506.3 413.5h0M482.7 411.4h0M485.2 412.5h0M498.9 410.3h0M473.4 411.6h0M492.3 410.6h0M473.0 412.1h0M525.9 407.7h0M528.3 409.0h0M537.1 411.9h0M498.9 409.4h0M484.8 409.1h0M509.2 412.3h0M476.4 412.4h0M485.0 412.6h0M489.6 409.5h0M531.5 410.9h0M514.8 408.5h0M515.7 413.1h0M475.5 412.8h0M523.8 412.2h0M535.0 411.6h0M509.1 408.6h0M527.4 411.4h0M485.1 413.7h0M526.9 409.8h0M487.1 413.8h0M512.6 412.5h0M471.6 414.1h0M475.8 410.5h0M478.8 410.6h0M480.0 411.0h0M489.6 410.7h0M527.7 410.5h0M511.0 412.9h0M489.7 410.0h0M512.6 411.7h0M512.3 409.8h0M500.1 410.1h0M480.0 411.7h0M522.5 407.5h0M492.0 409.3h0M534.7 408.1h0M482.2 410.0h0M473.5 410.8h0M494.4 411.1h0M517.7 410.3h0M521.0 412.5h0M496.3 408.8h0M509.5 408.3h0M519.0 410.3h0M522.5 410.8h0M501.2 408.8h0M484.7 411.8h0M534.1 407.1h0M494.4 412.9h0M474.2 414.6h0M530.1 407.1h0M491.6 409.7h0M513.6 412.8h0M479.4 413.7h0M495.4 409.8h0M493.9 412.0h0M489.1 409.0h0M493.1 409.4h0M475.5 410.0h0M477.8 410.2h0M532.5 411.4h0M477.6 410.1h0M507.5 412.6h0M531.7 409.5h0M506.8 410.1h0M493.3 413.3h0M477.7 414.1h0M488.2 414.3h0M501.6 408.8h0M507.6 408.4h0M529.0 409.0h0M527.5 411.7h0M485.4 413.6h0M524.6 407.4h0M531.8 410.3h0M505.6 410.6h0M490.7 410.6h0M492.1 409.7h0M469.7 411.7h0M534.2 409.5h0M505.6 410.7h0M528.7 412.4h0M495.3 409.0h0M496.2 411.6h0M484.3 414.3h0M507.6 412.8h0M522.5 408.4h0M493.6 410.0h0M469.8 411.7h0M469.8 413.9h0M502.6 411.9h0M485.9 413.2h0M517.7 411.5h0M515.9 409.4h0M493.0 410.9h0M536.3 409.2h0M521.0 410.9h0M470.3 411.8h0M489.5 411.4h0M528.2 410.5h0M531.5 411.8h0M514.4 412.5h0M508.0 411.4h0M528.5 412.3h0M495.9 410.7h0M492.2 413.1h0M471.0 414.0h0M493.8 412.3h0M502.9 409.6h0M494.5 413.8h0M479.3 412.8h0M515.5 411.7h0M508.7 410.9h0M469.9 410.6h0M516.0 410.0h0M519.1 408.8h0M485.6 411.8h0M511.9 412.4h0M497.6 411.6h0M529.2 407.8h0M514.1 408.3h0M482.6 414.5h0M471.4 410.8h0M470.1 413.6h0M477.0 409.7h0M507.2 412.3h0M525.2 411.1h0M500.9 408.7h0M522.0 409.3h0M518.3 408.5h0M484.4 414.4h0M524.1 411.4h0M517.1 408.0h0M499.3 412.1h0M490.8 412.7h0M536.8 410.4h0M506.4 409.8h0M475.2 412.6h0M513.6 411.2h0M504.6 412.6h0M498.7 410.8h0M500.5 410.5h0M529.1 407.1h0M494.2 411.0h0M520.2 411.4h0M485.3 413.1h0M516.2 410.2h0M485.7 413.2h0M475.9 414.0h0M530.4 407.9h0M538.3 410.5h0M512.8 409.1h0M469.6 411.9h0M536.3 407.3h0M490.5 412.3h0M498.3 412.1h0M523.3 411.2h0M519.9 411.8h0M492.8 409.0h0M498.0 408.9h0M505.4 410.6h0M503.4 410.4h0M492.0 413.4h0M470.6 411.5h0M470.9 411.2h0M501.0 409.3h0M527.0 408.6h0M486.6 414.4h0M512.6 408.6h0M532.4 410.6h0M498.6 412.2h0M495.4 409.3h0M475.6 409.5h0M480.2 414.4h0M491.9 411.9h0M499.1 411.7h0M521.4 408.7h0M499.2 408.9h0M487.0 412.1h0M488.9 414.1h0M534.0 410.4h0M529.4 410.6h0M494.8 408.8h0M528.1 408.5h0M519.1 411.2h0M470.3 410.8h0M517.5 412.4h0M506.6 413.6h0M481.6 412.4h0M493.0 411.8h0M509.5 409.0h0M528.2 409.8h0M501.0 412.1h0M538.1 408.9h0M472.1 411.0h0M497.1 413.6h0M504.2 408.7h0M510.0 409.6h0M506.9 410.6h0M526.6 410.8h0M478.4 410.8h0M498.9 409.7h0M488.4 413.4h0M497.6 412.2h0M522.1 412.1h0M476.4 412.2h0M511.0 409.3h0M534.2 407.3h0M483.5 409.5h0M525.5 411.1h0M471.2 410.4h0M470.8 411.1h0M473.9 409.8h0M509.5 410.4h0M515.2 410.2h0M530.2 412.0h0M470.2 412.3h0M489.8 411.2h0M491.3 413.3h0M509.3 411.1h0M480.3 414.7h0M484.6 411.2h0M489.9 410.8h0M534.5 407.6h0M533.2 410.1h0M502.3 411.5h0M482.4 410.5h0M473.6 414.2h0M533.9 410.0h0M475.7 413.2h0M515.4 409.4h0M521.3 408.3h0M494.1 413.4h0M480.1 410.6h0M470.9 409.9h0M535.6 407.4h0M500.4 411.1h0M493.3 410.7h0M507.5 410.8h0M503.2 410.0h0M517.9 409.2h0M531.1 412.0h0M473.0 411.7h0M491.3 410.3h0M510.7 409.8h0M527.1 407.6h0M539.6 402.1h0M541.3 400.8h0M538.8 401.4h0M541.8 404.0h0M540.9 402.9h0M539.9 403.8h0M541.6 402.3h0M538.2 405.3h0M542.8 401.5h0M542.4 403.6h0M544.9 396.7h0M548.1 397.2h0M543.9 395.0h0M554.7 398.6h0M544.2 394.6h0M542.2 398.1h0M548.4 394.6h0M542.1 395.8h0M541.3 394.7h0M544.9 395.4h0M552.3 395.3h0M543.7 396.4h0M554.4 397.7h0M555.1 396.2h0M547.7 397.1h0M546.8 396.3h0M541.8 394.8h0M554.4 398.4h0M543.1 396.8h0M548.6 396.5h0M550.6 398.3h0M542.9 394.4h0M551.4 394.2h0M549.6 395.7h0M551.2 395.0h0M541.4 394.4h0M554.3 397.8h0M547.6 396.5h0M551.4 395.0h0M544.2 397.0h0M552.7 397.8h0M541.9 395.4h0M544.8 398.4h0M554.0 395.7h0M553.5 394.5h0M549.6 398.4h0M554.4 397.8h0M549.9 394.9h0M549.0 397.4h0M544.3 396.3h0M548.7 396.4h0M553.4 396.3h0M554.8 397.8h0M551.5 395.8h0M555.4 394.4h0M544.5 398.5h0M547.5 394.4h0M545.6 397.6h0M550.9 397.6h0M549.6 395.3h0M548.4 398.0h0M546.6 398.4h0M553.7 396.8h0M549.5 395.8h0M546.7 395.5h0M550.1 397.8h0M549.4 396.1h0M549.0 396.0h0M554.2 398.3h0M553.0 395.6h0M549.3 396.6h0M553.1 394.3h0M549.8 395.1h0M547.3 396.3h0M553.4 395.5h0M543.9 396.1h0M550.5 394.5h0M553.3 394.5h0M547.4 396.5h0M546.7 395.1h0M564.7 391.1h0M557.6 390.9h0M559.0 389.4h0M558.8 387.2h0M557.0 386.7h0M557.7 384.1h0M556.0 389.9h0M559.9 386.9h0M563.2 390.7h0M557.6 388.5h0M562.5 389.1h0M562.1 385.1h0M557.0 390.5h0M558.5 388.1h0M561.9 386.1h0M561.4 385.9h0M565.6 390.2h0M561.7 390.6h0M560.4 383.9h0M556.1 389.0h0M554.6 388.3h0M560.4 386.3h0M561.1 386.1h0M557.1 386.9h0M559.6 388.4h0M556.0 390.7h0M559.5 388.0h0M558.3 388.9h0M557.0 387.5h0M560.6 389.9h0M554.5 384.3h0M560.3 387.9h0M565.8 385.6h0M565.4 384.1h0M563.4 388.4h0M555.4 388.3h0M563.3 390.7h0M561.2 391.0h0M555.3 386.6h0M557.8 390.1h0M569.0 376.7h0M581.6 381.6h0M581.8 378.7h0M578.6 381.9h0M573.6 379.7h0M567.8 377.3h0M570.9 384.2h0M580.2 380.6h0M571.0 376.4h0M583.6 385.7h0M581.5 381.4h0M573.9 382.1h0M581.1 382.0h0M580.3 380.8h0M565.9 379.7h0M568.3 380.8h0M569.8 385.7h0M571.7 386.1h0M569.9 382.5h0M571.3 383.6h0M571.3 376.7h0M578.5 376.7h0M583.9 384.1h0M569.3 385.9h0M571.4 384.2h0M567.4 384.2h0M577.0 384.0h0M576.6 382.8h0M573.7 384.4h0M582.3 381.3h0M582.6 383.5h0M577.5 382.4h0M572.1 384.2h0M583.4 376.9h0M583.1 379.2h0M577.8 382.6h0M572.6 376.3h0M571.0 380.2h0M573.3 380.3h0M571.5 385.8h0M573.3 376.4h0M566.6 377.3h0M573.6 376.5h0M565.9 384.8h0M570.3 386.4h0M567.4 376.8h0M574.0 378.8h0M576.1 384.1h0M573.4 380.6h0M582.1 384.7h0M584.0 383.2h0M566.9 380.3h0M581.8 377.8h0M581.9 382.2h0M577.0 383.8h0M569.2 383.2h0M569.0 377.4h0M571.0 386.0h0M571.3 381.7h0M574.6 378.3h0M586.7 365.0h0M584.4 373.6h0M584.8 371.0h0M583.4 368.1h0M587.4 369.7h0M586.9 365.1h0M587.3 372.4h0M586.6 373.3h0M584.7 376.4h0M585.1 376.8h0M587.8 367.4h0M587.6 366.1h0M586.2 372.1h0M585.8 370.1h0M584.9 371.9h0M587.6 371.2h0M585.1 367.9h0M585.3 373.2h0M612.5 360.9h0M587.3 366.8h0M601.9 365.1h0M602.6 367.4h0M600.5 362.6h0M596.3 362.1h0M593.5 365.6h0M599.9 360.1h0M603.0 361.6h0M591.8 360.4h0M587.4 363.9h0M610.7 359.4h0M593.9 368.5h0M608.2 366.5h0M596.9 366.1h0M597.3 362.6h0M598.4 367.6h0M594.1 360.3h0M591.9 362.2h0M598.1 363.4h0M606.6 367.6h0M610.0 362.2h0M596.5 366.3h0M589.9 367.5h0M596.6 363.4h0M596.5 364.4h0M591.1 363.5h0M604.0 362.7h0M587.3 360.5h0M609.1 363.3h0M603.2 368.6h0M602.0 361.0h0M589.2 368.1h0M606.8 360.5h0M596.7 366.8h0M596.3 362.8h0M594.1 365.6h0M608.9 366.2h0M594.0 361.2h0M602.5 363.5h0M609.3 361.3h0M599.2 359.5h0M600.2 367.9h0M611.4 363.9h0M605.0 364.9h0M599.2 367.2h0M602.8 367.1h0M601.8 368.1h0M611.8 362.3h0M587.1 368.6h0M602.3 360.4h0M598.7 365.1h0M604.4 364.5h0M597.1 360.4h0M588.0 364.5h0M603.7 365.6h0M610.7 366.7h0M610.7 367.0h0M596.8 364.4h0M586.8 361.6h0M592.8 368.1h0M600.5 359.4h0M605.0 367.1h0M612.2 360.6h0M592.3 365.9h0M598.4 365.6h0M604.7 364.6h0M596.0 368.7h0M605.8 361.2h0M599.9 363.8h0M628.9 360.6h0M613.8 353.3h0M619.9 357.6h0M620.0 358.7h0M637.5 353.1h0M641.7 359.7h0M641.3 358.9h0M613.8 355.6h0M623.9 361.2h0M618.4 359.8h0M640.8 361.0h0M617.9 361.5h0M640.8 357.8h0M631.7 357.5h0M636.4 353.6h0M614.3 353.7h0M629.7 361.9h0M615.5 355.2h0M631.5 354.5h0M623.9 353.8h0M637.6 356.3h0M612.5 359.4h0M630.3 359.2h0M613.5 359.7h0M627.2 357.5h0M633.7 356.5h0M634.2 355.5h0M628.4 359.7h0M617.6 354.3h0M612.7 353.4h0M629.3 352.0h0M638.7 352.9h0M628.7 356.5h0M613.4 355.0h0M621.5 361.6h0M634.5 361.9h0M615.6 354.8h0M626.6 359.0h0M625.1 361.2h0M632.5 361.1h0M618.3 356.4h0M623.5 358.7h0M617.2 358.5h0M636.2 359.2h0M634.2 358.0h0M644.8 357.8h0M619.3 352.3h0M613.2 355.4h0M628.1 358.5h0M618.9 358.4h0M615.9 356.6h0M638.7 358.3h0M618.8 357.2h0M618.5 353.3h0M614.7 359.8h0M643.4 357.3h0M635.4 354.5h0M626.6 357.6h0M630.1 355.3h0M635.9 361.3h0M637.0 355.4h0M636.5 354.8h0M644.6 358.4h0M640.6 355.3h0M624.3 352.5h0M620.5 355.9h0M617.4 354.6h0M632.0 352.1h0M642.7 358.3h0M618.9 358.2h0M624.9 357.0h0M624.3 359.7h0M625.4 354.9h0M626.3 359.4h0M615.7 353.5h0M636.3 349.7h0M654.0 357.9h0M662.0 357.8h0M664.8 354.1h0M594.0 356.5h0M599.0 357.0h0M580.0 372.5h0M572.0 374.5h0M617.0 350.0h0M625.0 350.5h0" stroke="#3a80c4" stroke-width="3.50" stroke-linecap="round" fill="none"/>
<path d="M431.5 346.1V421.5H677.3" stroke="#4a4a4a" stroke-width="1.15" fill="none"/>
<line x1="428.3" y1="358.6" x2="431.6" y2="358.6" stroke="#444" stroke-width="0.9"/>
<text x="425.1" y="361.5" font-size="8.40" text-anchor="end" textLength="4.7" lengthAdjust="spacingAndGlyphs">1</text>
<line x1="428.3" y1="401.7" x2="431.6" y2="401.7" stroke="#444" stroke-width="0.9"/>
<text x="425.1" y="404.6" font-size="8.40" text-anchor="end" textLength="4.7" lengthAdjust="spacingAndGlyphs">0</text>
<line x1="449.7" y1="421.0" x2="449.7" y2="424.3" stroke="#444" stroke-width="0.9"/>
<text x="449.7" y="433.7" font-size="8.40" text-anchor="middle" textLength="4.7" lengthAdjust="spacingAndGlyphs">2</text>
<line x1="495.1" y1="421.0" x2="495.1" y2="424.3" stroke="#444" stroke-width="0.9"/>
<text x="495.1" y="433.7" font-size="8.40" text-anchor="middle" textLength="4.7" lengthAdjust="spacingAndGlyphs">3</text>
<line x1="540.5" y1="421.0" x2="540.5" y2="424.3" stroke="#444" stroke-width="0.9"/>
<text x="540.5" y="433.7" font-size="8.40" text-anchor="middle" textLength="4.7" lengthAdjust="spacingAndGlyphs">4</text>
<line x1="585.9" y1="421.0" x2="585.9" y2="424.3" stroke="#444" stroke-width="0.9"/>
<text x="585.9" y="433.7" font-size="8.40" text-anchor="middle" textLength="4.7" lengthAdjust="spacingAndGlyphs">5</text>
<line x1="631.3" y1="421.0" x2="631.3" y2="424.3" stroke="#444" stroke-width="0.9"/>
<text x="631.3" y="433.7" font-size="8.40" text-anchor="middle" textLength="4.7" lengthAdjust="spacingAndGlyphs">6</text>
<text x="554.5" y="446.2" font-size="8.90" text-anchor="middle" textLength="31.4" lengthAdjust="spacingAndGlyphs">IL1beta</text>
<text x="413.0" y="384.5" font-size="7.60" text-anchor="middle" textLength="47.5" lengthAdjust="spacingAndGlyphs" transform="rotate(-90 413.0 384.5)">SHAP values</text>
<path d="M431.6 526.1 L431.6 525.8 L505.0 525.8 L505.0 524.8 L520.0 524.8 L520.0 523.5 L535.0 523.5 L535.0 522.0 L550.0 522.0 L550.0 521.0 L565.0 521.0 L565.0 520.3 L585.0 520.3 L585.0 522.0 L598.0 522.0 L598.0 524.5 L608.0 524.5 L608.0 526.1 Z" fill="#e5e5e5"/>
<path d="M442.3 460.4h0M469.8 461.0h0M472.1 457.2h0M472.7 462.3h0M490.3 460.4h0M487.1 459.2h0M480.6 459.3h0M479.9 458.5h0M484.1 460.0h0M477.5 456.1h0M479.9 460.4h0M479.9 455.8h0M479.0 456.4h0M480.8 459.2h0M485.3 457.0h0M480.3 460.5h0M483.5 456.3h0M484.3 457.2h0M487.4 458.2h0M485.4 457.6h0M486.5 458.3h0M480.0 460.7h0M479.5 460.6h0M481.4 457.9h0M487.6 455.0h0M487.9 456.7h0M479.6 457.6h0M491.1 459.9h0M519.0 459.2h0M491.8 458.3h0M495.0 459.3h0M494.1 458.0h0M508.9 459.7h0M502.1 460.1h0M507.0 458.9h0M501.1 454.0h0M492.9 457.9h0M510.1 455.2h0M506.9 456.5h0M516.7 457.9h0M505.1 455.6h0M513.4 460.6h0M503.8 455.6h0M513.7 458.8h0M490.8 458.5h0M514.8 457.2h0M519.2 457.3h0M509.7 459.4h0M504.8 458.1h0M506.0 456.7h0M510.8 460.4h0M493.0 454.3h0M499.8 454.2h0M502.1 456.1h0M494.9 457.0h0M489.7 459.0h0M503.0 459.4h0M509.5 456.2h0M508.7 458.7h0M509.6 460.3h0M504.2 460.0h0M503.2 460.2h0M515.3 453.8h0M514.6 458.9h0M493.8 454.3h0M507.0 460.7h0M496.5 454.1h0M504.3 456.1h0M522.9 454.0h0M510.6 456.4h0M508.2 455.8h0M489.6 457.7h0M496.2 455.3h0M496.0 454.9h0M493.6 455.8h0M509.7 459.5h0M520.2 459.9h0M512.6 459.5h0M502.5 455.2h0M508.7 454.6h0M508.1 456.6h0M498.9 460.6h0M500.4 459.5h0M510.2 458.7h0M503.3 456.6h0M503.4 458.5h0M501.4 456.1h0M501.5 458.3h0M520.7 454.6h0M490.3 459.7h0M507.7 458.2h0M489.7 459.4h0M492.9 456.4h0M493.1 456.5h0M517.7 460.7h0M505.5 458.2h0M497.3 459.0h0M503.9 458.5h0M511.1 455.0h0M521.3 454.8h0M499.7 460.4h0M515.6 457.7h0M521.4 458.4h0M491.9 455.2h0M493.0 460.3h0M499.8 453.9h0M509.3 460.7h0M524.9 464.8h0M530.3 462.3h0M540.7 466.5h0M530.4 462.2h0M537.0 466.1h0M525.4 466.7h0M531.2 463.2h0M538.0 461.7h0M524.2 460.1h0M534.4 463.1h0M539.5 461.6h0M534.8 467.8h0M535.2 464.3h0M528.7 463.4h0M527.6 462.7h0M531.1 462.4h0M523.2 467.0h0M534.8 465.1h0M524.5 465.3h0M523.5 461.6h0M538.1 461.3h0M524.4 460.0h0M531.0 464.6h0M530.9 466.9h0M531.5 460.0h0M540.6 462.4h0M530.8 466.2h0M535.6 463.4h0M535.4 465.6h0M525.4 463.5h0M535.2 463.4h0M533.7 461.8h0M529.3 464.0h0M524.2 465.2h0M540.0 468.0h0M525.1 466.1h0M529.8 464.6h0M527.1 461.2h0M528.1 466.1h0M527.7 464.8h0M539.7 465.9h0M528.6 465.7h0M535.9 460.9h0M533.7 466.6h0M536.3 462.5h0M546.2 470.8h0M557.8 469.1h0M545.9 467.0h0M546.5 464.1h0M552.4 472.2h0M544.0 472.6h0M557.1 465.6h0M550.9 463.9h0M556.6 465.7h0M553.8 465.6h0M542.6 465.4h0M556.6 464.8h0M545.5 469.7h0M549.3 465.8h0M557.9 471.9h0M550.5 465.8h0M560.4 467.1h0M552.6 465.7h0M541.3 470.8h0M541.1 467.4h0M554.1 469.0h0M558.9 468.6h0M546.7 465.5h0M556.2 468.8h0M547.2 469.9h0M550.6 467.2h0M546.3 467.5h0M561.2 471.6h0M553.8 466.2h0M554.4 472.0h0M547.5 468.9h0M543.1 469.6h0M558.5 468.6h0M552.6 470.8h0M547.1 472.6h0M555.0 463.9h0M554.9 469.7h0M548.1 470.8h0M548.3 466.2h0M560.2 469.2h0M547.5 470.7h0M546.7 471.0h0M545.5 467.8h0M549.9 465.7h0M552.3 468.9h0M541.5 471.3h0M556.6 467.1h0M560.0 470.1h0M557.6 471.4h0M559.3 469.1h0M551.6 467.2h0M547.0 472.6h0M549.7 472.1h0M557.5 471.8h0M551.4 469.4h0M548.2 464.8h0M542.3 472.6h0M558.0 467.9h0M557.9 464.8h0M543.4 469.2h0M576.6 473.5h0M578.8 476.2h0M577.5 476.2h0M564.9 471.1h0M571.3 473.1h0M575.0 474.4h0M576.6 475.1h0M566.8 478.5h0M567.0 472.5h0M577.3 477.0h0M571.0 474.2h0M574.7 474.8h0M574.3 478.2h0M569.8 471.4h0M570.2 473.2h0M577.2 476.6h0M571.5 477.9h0M562.8 478.4h0M577.3 470.3h0M572.2 471.5h0M578.3 470.0h0M563.7 478.5h0M570.2 470.7h0M579.4 472.2h0M564.7 472.6h0M564.4 476.1h0M569.5 476.1h0M574.7 478.1h0M569.0 476.9h0M568.2 475.7h0M576.5 477.6h0M570.0 478.1h0M575.6 475.2h0M575.3 473.2h0M565.0 473.7h0M574.9 474.8h0M577.4 477.5h0M573.4 477.6h0M568.5 470.2h0M570.1 471.6h0M576.3 475.8h0M578.6 474.3h0M563.8 471.2h0M566.8 476.4h0M568.4 478.4h0M573.7 474.5h0M579.1 472.5h0M570.5 474.5h0M568.2 478.3h0M564.3 473.7h0M604.7 505.1h0M601.3 503.9h0M595.3 498.2h0M586.4 488.7h0M593.4 501.9h0M582.1 491.2h0M592.4 498.6h0M583.0 484.2h0M595.7 498.4h0M590.6 497.5h0M592.3 502.5h0M592.0 502.3h0M602.9 498.7h0M596.4 497.7h0M585.1 491.3h0M604.4 502.7h0M582.7 486.3h0M597.8 503.4h0M599.2 503.5h0M590.1 501.7h0M580.4 483.4h0M604.4 499.8h0M603.3 506.0h0M584.9 497.2h0M589.7 501.4h0M582.3 490.7h0M594.4 495.5h0M588.2 492.6h0M588.9 495.2h0M582.8 492.2h0M580.5 487.2h0M582.7 491.9h0M580.5 486.0h0M593.4 500.4h0M602.0 499.0h0M604.5 505.7h0M585.1 490.3h0M598.1 497.2h0M602.7 502.8h0M593.4 493.2h0M600.6 506.3h0M598.4 500.6h0M581.9 482.7h0M596.7 501.4h0M591.1 498.2h0M585.9 497.9h0M582.9 483.9h0M582.7 488.2h0M591.9 501.7h0M581.3 483.5h0M600.2 506.2h0M586.8 499.8h0M600.6 505.0h0M588.1 501.1h0M583.1 484.3h0M590.9 501.6h0M588.4 496.3h0M580.5 481.6h0M597.1 495.3h0M593.2 502.6h0M601.2 506.4h0M591.8 493.0h0M595.6 501.0h0M589.7 495.2h0M585.2 492.9h0M584.1 495.4h0M600.2 505.9h0M594.9 504.7h0M584.5 490.8h0M587.8 502.4h0M597.4 501.9h0M604.9 505.0h0M582.4 481.4h0M596.7 504.3h0M591.0 498.9h0M597.8 502.9h0M581.3 481.3h0M600.1 499.7h0M588.1 495.2h0M595.3 501.5h0M590.2 498.9h0M583.8 485.4h0M587.7 493.0h0M591.4 494.9h0M597.6 497.5h0M581.3 482.5h0M603.2 502.5h0M594.2 503.1h0M604.6 501.9h0M596.5 499.4h0M583.0 489.7h0M600.2 497.6h0M584.3 484.7h0M582.4 484.5h0M602.4 503.2h0M583.8 489.0h0M580.4 479.0h0M592.8 502.3h0M598.6 503.6h0M584.6 496.4h0M601.5 501.1h0M604.0 501.1h0M581.7 485.6h0M581.1 486.9h0M583.4 492.7h0M588.7 501.5h0M594.2 504.3h0M604.0 502.5h0M604.4 505.2h0M599.1 499.9h0M592.6 502.9h0M589.7 494.7h0M595.1 502.5h0M596.8 505.9h0M592.5 503.9h0M591.5 501.2h0M585.5 499.2h0M588.0 490.8h0M588.9 495.7h0M587.3 490.7h0M594.0 501.5h0M583.2 491.3h0M603.5 502.6h0M589.5 496.3h0M586.7 494.8h0M592.0 493.5h0M595.2 497.8h0M589.5 493.9h0M594.4 502.1h0M584.8 486.7h0M584.7 497.9h0M584.5 491.2h0M585.0 495.6h0M586.6 496.8h0M581.6 486.1h0M601.6 499.0h0M596.2 505.0h0M582.7 493.3h0M590.7 497.6h0M580.8 481.8h0M616.1 513.6h0M607.7 520.3h0M610.0 507.0h0M608.6 521.6h0M617.7 513.7h0M617.9 506.9h0M620.6 508.1h0M613.3 520.6h0M621.7 507.1h0M618.5 505.4h0M615.0 513.3h0M616.8 505.3h0M607.7 508.4h0M621.1 522.3h0M611.8 522.9h0M614.0 510.7h0M621.1 510.1h0M620.8 520.9h0M611.3 513.8h0M610.9 510.3h0M620.7 514.3h0M618.2 517.9h0M609.8 505.8h0M613.8 513.8h0M607.4 519.4h0M609.0 517.3h0M618.1 517.7h0M607.9 515.4h0M620.6 506.1h0M608.0 510.8h0M622.9 512.3h0M608.2 522.9h0M618.2 508.8h0M613.0 516.3h0M619.8 505.7h0M621.3 510.1h0M617.3 507.5h0M615.8 508.3h0M614.4 510.1h0M613.1 510.8h0M605.4 519.3h0M616.8 508.2h0M613.5 517.9h0M611.9 515.9h0M623.6 505.6h0M620.3 514.8h0M608.4 514.5h0M605.3 513.2h0M613.9 510.5h0M606.8 523.0h0M615.8 511.5h0M617.2 522.6h0M622.2 515.3h0M618.5 505.5h0M614.8 508.6h0M613.6 507.3h0M606.2 509.8h0M609.4 520.5h0M606.3 505.4h0M614.0 506.0h0M605.5 520.1h0M606.7 512.5h0M611.9 510.0h0M620.1 506.2h0M620.4 518.7h0M617.5 512.2h0M612.0 521.0h0M608.0 510.6h0M606.4 505.2h0M611.8 521.6h0M617.5 508.6h0M605.5 522.6h0M620.2 515.1h0M616.5 520.9h0M613.8 508.7h0M605.0 508.6h0M618.4 509.2h0M606.6 514.9h0M620.3 509.4h0M609.6 518.3h0M617.0 518.9h0M618.0 522.7h0M613.5 509.0h0M619.9 521.0h0M617.9 508.0h0M613.8 520.8h0M619.6 515.4h0M606.2 510.1h0M612.1 521.0h0M612.2 519.8h0M616.2 515.2h0M606.4 507.5h0M605.5 511.6h0M606.3 514.2h0M613.5 509.5h0M615.2 509.2h0M612.7 517.1h0M613.1 521.8h0M608.9 516.3h0M620.4 509.3h0M606.0 514.5h0M607.7 517.7h0M616.0 511.2h0M610.4 505.1h0M608.8 505.4h0M608.8 516.4h0M614.5 515.4h0M619.7 522.5h0M614.0 512.8h0M612.7 509.6h0M635.9 520.0h0M636.5 516.5h0M634.2 516.7h0M630.3 513.6h0M637.8 516.9h0M624.8 515.3h0M638.6 520.8h0M634.5 517.5h0M625.6 516.4h0M638.3 520.4h0M632.1 517.6h0M629.8 520.2h0M624.5 520.2h0M624.7 512.8h0M638.4 509.6h0M626.2 516.2h0M637.9 510.4h0M639.7 518.1h0M630.7 510.3h0M628.6 510.1h0M634.1 508.8h0M624.5 509.7h0M634.5 511.5h0M627.5 514.1h0M632.9 516.0h0M629.5 511.8h0M633.8 512.2h0M625.5 511.5h0M629.8 516.1h0M629.2 510.9h0M630.7 512.0h0M627.7 512.2h0M630.7 518.9h0M637.2 517.4h0M636.0 518.9h0M631.8 518.4h0M636.1 517.5h0M633.3 520.5h0M628.4 521.1h0M628.4 510.7h0M605.4 490.2h0M609.8 505.4h0M614.5 506.0h0M626.5 506.0h0M637.3 508.8h0M640.1 506.5h0M640.1 516.4h0M647.7 511.1h0M650.6 511.1h0M644.9 518.7h0M647.2 520.2h0M652.1 523.1h0M656.3 520.2h0M659.5 511.7h0M665.4 514.5h0" stroke="#3a80c4" stroke-width="3.50" stroke-linecap="round" fill="none"/>
<path d="M431.5 451.6V526.5H677.3" stroke="#4a4a4a" stroke-width="1.15" fill="none"/>
<line x1="428.3" y1="453.9" x2="431.6" y2="453.9" stroke="#444" stroke-width="0.9"/>
<text x="425.1" y="456.8" font-size="8.40" text-anchor="end" textLength="16.5" lengthAdjust="spacingAndGlyphs">0.25</text>
<line x1="428.3" y1="479.5" x2="431.6" y2="479.5" stroke="#444" stroke-width="0.9"/>
<text x="425.1" y="482.4" font-size="8.40" text-anchor="end" textLength="16.5" lengthAdjust="spacingAndGlyphs">0.00</text>
<line x1="428.3" y1="505.5" x2="431.6" y2="505.5" stroke="#444" stroke-width="0.9"/>
<text x="425.1" y="508.4" font-size="8.40" text-anchor="end" textLength="22.7" lengthAdjust="spacingAndGlyphs">−0.25</text>
<line x1="447.6" y1="526.1" x2="447.6" y2="529.4" stroke="#444" stroke-width="0.9"/>
<text x="447.6" y="538.7" font-size="8.40" text-anchor="middle" textLength="16.5" lengthAdjust="spacingAndGlyphs">25.5</text>
<line x1="479.2" y1="526.1" x2="479.2" y2="529.4" stroke="#444" stroke-width="0.9"/>
<text x="479.2" y="538.7" font-size="8.40" text-anchor="middle" textLength="16.5" lengthAdjust="spacingAndGlyphs">26.0</text>
<line x1="510.8" y1="526.1" x2="510.8" y2="529.4" stroke="#444" stroke-width="0.9"/>
<text x="510.8" y="538.7" font-size="8.40" text-anchor="middle" textLength="16.5" lengthAdjust="spacingAndGlyphs">26.5</text>
<line x1="542.4" y1="526.1" x2="542.4" y2="529.4" stroke="#444" stroke-width="0.9"/>
<text x="542.4" y="538.7" font-size="8.40" text-anchor="middle" textLength="16.5" lengthAdjust="spacingAndGlyphs">27.0</text>
<line x1="574.0" y1="526.1" x2="574.0" y2="529.4" stroke="#444" stroke-width="0.9"/>
<text x="574.0" y="538.7" font-size="8.40" text-anchor="middle" textLength="16.5" lengthAdjust="spacingAndGlyphs">27.5</text>
<line x1="605.6" y1="526.1" x2="605.6" y2="529.4" stroke="#444" stroke-width="0.9"/>
<text x="605.6" y="538.7" font-size="8.40" text-anchor="middle" textLength="16.5" lengthAdjust="spacingAndGlyphs">28.0</text>
<line x1="637.2" y1="526.1" x2="637.2" y2="529.4" stroke="#444" stroke-width="0.9"/>
<text x="637.2" y="538.7" font-size="8.40" text-anchor="middle" textLength="16.5" lengthAdjust="spacingAndGlyphs">28.5</text>
<line x1="668.8" y1="526.1" x2="668.8" y2="529.4" stroke="#444" stroke-width="0.9"/>
<text x="668.8" y="538.7" font-size="8.40" text-anchor="middle" textLength="16.5" lengthAdjust="spacingAndGlyphs">29.0</text>
<text x="554.5" y="551.0" font-size="10.00" text-anchor="middle" textLength="30.8" lengthAdjust="spacingAndGlyphs">APO.A1</text>
<text x="394.6" y="489.5" font-size="7.60" text-anchor="middle" textLength="47.5" lengthAdjust="spacingAndGlyphs" transform="rotate(-90 394.6 489.5)">SHAP values</text>
<path d="M431.6 631.0 L431.6 630.8 L440.4 630.8 L440.4 629.8 L445.2 629.8 L445.2 622.3 L450.5 622.3 L450.5 615.6 L455.6 615.6 L455.6 619.0 L460.7 619.0 L460.7 623.2 L465.8 623.2 L465.8 625.1 L476.0 625.1 L476.0 627.4 L486.0 627.4 L486.0 629.5 L500.0 629.5 L500.0 630.5 L520.0 630.5 L520.0 631.0 Z" fill="#e5e5e5"/>
<path d="M443.2 575.5h0M447.5 574.0h0M452.1 570.8h0M448.9 570.8h0M454.8 573.2h0M452.5 574.3h0M444.7 562.4h0M452.8 578.8h0M443.7 566.3h0M455.5 576.2h0M455.3 573.4h0M451.1 576.9h0M443.3 565.7h0M444.6 571.4h0M454.5 580.4h0M443.3 574.0h0M454.2 575.8h0M444.2 566.6h0M442.4 568.0h0M449.6 573.1h0M453.2 579.0h0M445.5 576.3h0M448.2 571.8h0M446.2 570.8h0M453.3 574.0h0M445.1 564.2h0M456.1 575.3h0M456.0 574.0h0M445.9 567.4h0M447.3 571.6h0M451.4 576.6h0M445.4 569.0h0M450.3 565.1h0M449.6 567.8h0M452.2 565.6h0M444.6 572.3h0M455.1 578.4h0M454.8 564.8h0M455.7 579.5h0M444.0 577.4h0M443.6 565.5h0M455.2 565.7h0M451.9 572.2h0M454.7 568.2h0M443.6 571.4h0M454.1 573.4h0M445.6 575.1h0M445.2 566.8h0M456.0 573.2h0M444.5 572.8h0M442.8 566.3h0M449.0 564.4h0M445.8 564.8h0M452.5 569.9h0M444.5 567.0h0M448.7 577.0h0M445.6 569.7h0M445.4 562.9h0M443.8 562.4h0M448.9 564.7h0M447.6 572.1h0M449.4 563.1h0M448.8 574.0h0M454.7 566.7h0M445.9 565.1h0M455.1 571.6h0M442.1 565.4h0M444.4 572.0h0M448.5 562.8h0M453.3 573.3h0M450.6 580.8h0M451.4 580.5h0M447.3 573.3h0M446.3 568.3h0M447.4 562.6h0M442.4 573.8h0M442.1 563.6h0M442.3 574.4h0M449.5 572.5h0M452.8 581.3h0M446.7 573.4h0M456.4 579.9h0M450.9 572.8h0M446.5 573.0h0M449.1 568.3h0M449.0 571.7h0M448.1 578.2h0M449.0 567.6h0M445.8 568.3h0M449.4 572.5h0M447.1 565.1h0M454.7 581.2h0M447.5 578.8h0M453.2 565.8h0M447.0 568.1h0M450.1 561.9h0M444.9 561.9h0M442.5 566.6h0M444.9 574.7h0M452.5 579.5h0M445.6 567.6h0M453.4 571.2h0M446.4 560.1h0M449.8 577.1h0M454.9 568.7h0M453.2 581.8h0M450.7 580.2h0M447.9 569.6h0M454.0 572.9h0M446.0 562.8h0M453.8 572.0h0M452.6 573.5h0M448.8 564.0h0M446.6 573.8h0M455.0 575.4h0M450.2 566.4h0M450.8 575.4h0M444.1 570.3h0M446.8 572.8h0M443.1 566.6h0M456.5 574.8h0M451.7 578.9h0M451.5 572.1h0M453.4 575.4h0M449.8 579.3h0M449.0 564.9h0M452.4 580.8h0M448.4 565.8h0M446.4 573.2h0M450.4 579.0h0M454.8 582.8h0M459.8 580.7h0M459.6 582.1h0M459.0 585.2h0M461.3 589.4h0M455.7 586.7h0M461.8 592.3h0M455.9 589.8h0M461.3 584.0h0M460.8 582.8h0M455.3 579.6h0M457.5 585.5h0M458.7 584.0h0M458.8 588.0h0M457.1 580.7h0M455.1 583.6h0M456.8 587.7h0M461.3 579.7h0M458.8 587.5h0M461.2 589.4h0M458.0 577.3h0M460.1 583.3h0M457.4 578.4h0M460.4 582.2h0M461.8 580.2h0M454.8 576.1h0M457.5 590.6h0M462.0 582.6h0M456.8 587.3h0M456.5 587.7h0M458.7 582.6h0M455.6 576.5h0M457.9 583.9h0M454.8 582.8h0M455.9 583.1h0M457.0 580.9h0M461.0 587.1h0M456.4 586.0h0M458.7 591.0h0M459.2 582.7h0M456.6 583.0h0M458.1 579.1h0M455.6 580.6h0M455.2 584.8h0M455.6 590.4h0M465.9 594.4h0M460.6 591.1h0M463.9 596.7h0M460.7 594.2h0M463.2 594.0h0M466.0 593.7h0M468.9 599.8h0M466.5 600.4h0M464.7 595.7h0M464.7 593.4h0M461.3 593.0h0M468.7 595.0h0M464.4 603.9h0M467.4 602.8h0M468.4 592.7h0M461.8 602.8h0M464.0 598.1h0M462.8 600.7h0M464.9 595.6h0M464.5 599.3h0M465.3 595.1h0M464.0 591.4h0M465.8 593.9h0M465.5 594.3h0M468.5 598.1h0M466.2 593.6h0M461.7 593.8h0M460.2 602.9h0M467.6 599.5h0M465.2 591.6h0M462.3 600.5h0M468.3 599.8h0M468.9 599.6h0M460.2 603.3h0M465.7 603.8h0M464.0 598.4h0M466.9 591.8h0M466.0 600.2h0M460.5 599.9h0M467.7 596.4h0M464.7 594.3h0M468.2 593.3h0M463.8 592.3h0M469.4 600.8h0M464.0 597.6h0M468.9 599.5h0M467.1 603.4h0M465.0 603.1h0M467.1 601.6h0M461.4 603.0h0M470.2 605.0h0M470.5 603.3h0M470.4 604.7h0M473.0 604.8h0M473.7 615.4h0M472.7 613.1h0M476.0 603.1h0M474.2 609.6h0M471.6 612.0h0M474.0 604.3h0M470.3 609.1h0M475.9 607.0h0M474.8 610.2h0M472.2 611.4h0M474.4 609.5h0M474.3 613.0h0M475.3 606.0h0M473.6 606.5h0M472.8 606.0h0M472.4 605.3h0M469.6 601.4h0M473.3 610.3h0M472.4 611.2h0M471.1 606.9h0M469.4 605.2h0M469.0 605.2h0M474.3 602.8h0M469.4 614.7h0M474.6 603.0h0M474.8 613.6h0M480.1 620.0h0M509.5 622.0h0M509.7 626.3h0M503.6 617.0h0M486.1 614.6h0M501.1 617.0h0M516.4 622.7h0M497.7 615.3h0M482.8 611.0h0M497.6 616.5h0M493.6 617.2h0M502.3 621.6h0M489.5 620.4h0M514.7 619.8h0M517.0 624.3h0M519.4 620.5h0M481.1 618.6h0M472.4 617.1h0M492.0 616.0h0M511.6 615.3h0M505.8 622.2h0M518.8 625.2h0M492.1 612.4h0M498.6 625.5h0M496.4 621.9h0M515.0 622.8h0M499.0 615.6h0M475.7 614.6h0M506.6 622.3h0M494.1 614.7h0M510.3 615.3h0M506.2 626.5h0M501.0 620.5h0M484.8 616.1h0M511.0 618.2h0M474.4 613.7h0M479.6 614.0h0M515.0 617.9h0M476.7 613.6h0M481.1 611.0h0M475.6 616.9h0M507.5 619.4h0M512.2 616.9h0M506.8 616.5h0M474.8 611.2h0M505.7 619.8h0M512.7 622.1h0M489.9 623.3h0M483.0 612.2h0M518.6 618.6h0M500.6 620.6h0M487.1 622.1h0M484.6 617.2h0M475.5 612.9h0M508.5 614.7h0M516.1 624.2h0M495.2 615.5h0M497.5 617.4h0M512.1 625.6h0M485.8 620.2h0M482.1 611.3h0M475.5 618.1h0M518.1 621.7h0M491.0 622.0h0M516.6 620.3h0M501.7 622.8h0M486.1 614.1h0M489.3 615.4h0M512.6 616.5h0M476.9 619.7h0M515.6 620.8h0M515.9 622.8h0M503.4 619.5h0M498.6 624.2h0M471.9 613.3h0M489.4 613.0h0M487.6 624.5h0M481.2 615.7h0M482.1 621.4h0M495.7 622.3h0M491.3 623.4h0M515.7 619.2h0M496.4 618.4h0M498.7 626.2h0M503.6 618.2h0M509.9 622.5h0M485.3 612.2h0M490.7 613.8h0M503.0 616.3h0M501.8 621.1h0M475.1 613.7h0M505.7 621.2h0M513.4 625.4h0M479.2 616.9h0M484.9 617.2h0M492.4 625.8h0M486.1 625.7h0M499.9 622.3h0M496.5 619.0h0M490.7 619.7h0M503.7 626.2h0M474.4 610.1h0M514.3 619.7h0M481.0 619.4h0M495.3 625.4h0M489.5 612.7h0M518.6 619.1h0M480.8 612.5h0M496.7 613.3h0M477.2 611.9h0M471.1 624.5h0M473.1 622.1h0M507.3 619.9h0M500.3 613.3h0M518.6 626.9h0M510.4 615.6h0M482.3 623.7h0M472.5 609.6h0M497.4 624.8h0M478.1 616.6h0M494.8 622.4h0M496.6 623.5h0M481.0 622.8h0M504.0 623.9h0M510.3 621.6h0M487.7 612.4h0M483.7 625.2h0M478.0 623.6h0M473.8 622.3h0M476.0 620.6h0M503.4 619.3h0M481.0 620.5h0M513.3 615.1h0M488.2 613.5h0M492.7 620.7h0M514.4 626.6h0M506.7 615.8h0M511.5 620.8h0M504.2 615.8h0M481.9 613.1h0M504.8 624.6h0M472.8 614.4h0M514.8 618.1h0M515.7 615.5h0M513.0 622.8h0M510.9 621.2h0M481.3 620.8h0M487.9 622.0h0M478.8 621.8h0M474.0 612.3h0M499.3 621.4h0M498.8 622.2h0M487.9 616.3h0M501.3 619.1h0M492.6 621.0h0M501.6 619.5h0M490.5 619.5h0M510.6 621.9h0M503.2 618.9h0M519.0 619.9h0M479.0 623.8h0M492.1 623.3h0M489.7 613.3h0M513.7 623.9h0M494.7 625.5h0M498.1 619.4h0M504.8 620.4h0M499.7 613.4h0M494.4 612.8h0M499.5 620.6h0M478.5 621.8h0M480.9 625.8h0M515.0 615.5h0M515.3 625.0h0M487.4 617.8h0M503.2 622.2h0M476.2 621.4h0M490.9 619.6h0M478.2 625.8h0M480.6 618.8h0M473.7 615.0h0M511.9 618.8h0M494.0 618.8h0M497.2 625.9h0M502.2 616.2h0M514.1 621.9h0M474.6 620.3h0M481.4 622.5h0M504.4 625.9h0M478.3 617.0h0M520.3 622.6h0M548.3 617.0h0M540.8 625.5h0M540.6 620.5h0M555.8 617.3h0M563.3 616.0h0M532.8 620.9h0M569.5 623.6h0M522.5 620.4h0M531.9 622.2h0M537.5 617.7h0M555.0 618.8h0M536.2 623.5h0M547.3 623.6h0M554.7 616.0h0M530.1 622.9h0M531.3 622.5h0M569.8 617.9h0M530.8 626.2h0M571.3 620.5h0M557.7 614.9h0M527.1 625.1h0M520.4 617.9h0M522.9 626.1h0M540.9 626.0h0M560.4 624.7h0M562.7 615.2h0M550.8 617.3h0M543.7 625.4h0M528.8 617.2h0M528.6 622.5h0M543.7 618.3h0M562.5 625.4h0M538.1 620.0h0M529.8 619.8h0M567.4 626.2h0M551.7 619.5h0M528.4 616.8h0M548.5 619.8h0M564.5 619.2h0M529.4 618.3h0M543.9 619.2h0M569.5 624.5h0M548.0 625.5h0M558.1 619.3h0M472.7 609.0h0M478.0 610.0h0M482.0 610.5h0M485.0 611.0h0M491.0 612.0h0M500.3 610.6h0M507.0 615.0h0M517.0 614.5h0M524.5 614.0h0M542.0 616.0h0M555.0 617.0h0M444.5 558.0h0M447.0 557.5h0M569.0 620.5h0M573.0 620.0h0M598.5 620.0h0M598.5 626.3h0M617.0 621.7h0M665.7 621.7h0M575.0 626.5h0M560.0 620.0h0M564.0 625.0h0" stroke="#3a80c4" stroke-width="3.50" stroke-linecap="round" fill="none"/>
<path d="M431.5 556.1V631.5H677.3" stroke="#4a4a4a" stroke-width="1.15" fill="none"/>
<line x1="428.3" y1="564.7" x2="431.6" y2="564.7" stroke="#444" stroke-width="0.9"/>
<text x="425.1" y="567.6" font-size="8.40" text-anchor="end" textLength="11.8" lengthAdjust="spacingAndGlyphs">0.2</text>
<line x1="428.3" y1="594.9" x2="431.6" y2="594.9" stroke="#444" stroke-width="0.9"/>
<text x="425.1" y="597.8" font-size="8.40" text-anchor="end" textLength="11.8" lengthAdjust="spacingAndGlyphs">0.0</text>
<line x1="428.3" y1="625.1" x2="431.6" y2="625.1" stroke="#444" stroke-width="0.9"/>
<text x="425.1" y="628.0" font-size="8.40" text-anchor="end" textLength="18.0" lengthAdjust="spacingAndGlyphs">−0.2</text>
<line x1="474.9" y1="631.0" x2="474.9" y2="634.3" stroke="#444" stroke-width="0.9"/>
<text x="474.9" y="643.7" font-size="8.40" text-anchor="middle" textLength="11.8" lengthAdjust="spacingAndGlyphs">0.2</text>
<line x1="522.6" y1="631.0" x2="522.6" y2="634.3" stroke="#444" stroke-width="0.9"/>
<text x="522.6" y="643.7" font-size="8.40" text-anchor="middle" textLength="11.8" lengthAdjust="spacingAndGlyphs">0.4</text>
<line x1="570.3" y1="631.0" x2="570.3" y2="634.3" stroke="#444" stroke-width="0.9"/>
<text x="570.3" y="643.7" font-size="8.40" text-anchor="middle" textLength="11.8" lengthAdjust="spacingAndGlyphs">0.6</text>
<line x1="618.0" y1="631.0" x2="618.0" y2="634.3" stroke="#444" stroke-width="0.9"/>
<text x="618.0" y="643.7" font-size="8.40" text-anchor="middle" textLength="11.8" lengthAdjust="spacingAndGlyphs">0.8</text>
<line x1="665.7" y1="631.0" x2="665.7" y2="634.3" stroke="#444" stroke-width="0.9"/>
<text x="665.7" y="643.7" font-size="8.40" text-anchor="middle" textLength="11.8" lengthAdjust="spacingAndGlyphs">1.0</text>
<text x="554.5" y="656.2" font-size="9.60" text-anchor="middle" textLength="55.4" lengthAdjust="spacingAndGlyphs">(C2+C3) / C0</text>
<text x="399.2" y="593.8" font-size="7.60" text-anchor="middle" textLength="47.5" lengthAdjust="spacingAndGlyphs" transform="rotate(-90 399.2 593.8)">SHAP values</text>
<path d="M433.8 750.1 L433.8 749.8 L494.7 749.8 L494.7 745.0 L510.0 745.0 L510.0 742.5 L520.0 742.5 L520.0 740.3 L554.4 740.3 L554.4 742.4 L567.0 742.4 L567.0 745.5 L579.0 745.5 L579.0 747.7 L592.0 747.7 L592.0 749.2 L616.0 749.2 L616.0 750.1 Z" fill="#e5e5e5"/>
<path d="M444.3 738.6h0M456.7 733.6h0M472.3 727.4h0M474.6 729.7h0M483.4 724.2h0M479.3 733.5h0M480.8 734.2h0M473.4 747.0h0M483.4 745.8h0M486.6 743.2h0M489.2 727.1h0M493.9 727.6h0M497.1 725.3h0M493.3 733.5h0M491.3 737.9h0M495.0 740.0h0M493.9 744.3h0M497.4 732.0h0M499.7 734.4h0M500.3 737.3h0M502.1 727.6h0M501.5 740.8h0M504.4 739.1h0M506.1 742.6h0M503.8 723.6h0M506.7 723.3h0M507.3 726.4h0M505.0 731.5h0M509.6 718.0h0M510.2 722.7h0M511.4 727.4h0M512.6 732.6h0M512.6 736.7h0M514.9 728.6h0M515.8 716.3h0M518.4 720.6h0M519.6 725.0h0M517.8 734.6h0M502.1 730.9h0M498.6 732.0h0M508.8 725.6h0M514.9 723.9h0M517.2 723.9h0M526.4 690.6h0M510.1 720.4h0M517.0 722.8h0M506.3 730.3h0M511.4 721.5h0M516.6 719.3h0M516.8 727.3h0M517.4 725.0h0M507.0 723.2h0M511.4 723.5h0M508.0 722.7h0M505.3 730.9h0M512.1 720.7h0M506.5 731.9h0M505.4 724.2h0M516.5 718.8h0M510.4 728.6h0M508.3 728.6h0M512.1 723.0h0M505.8 728.6h0M508.8 720.8h0M511.0 720.1h0M513.5 724.3h0M507.5 726.7h0M514.6 726.7h0M515.7 719.7h0M561.1 697.2h0M557.1 692.6h0M528.8 700.8h0M550.4 696.2h0M539.8 693.8h0M522.1 699.4h0M556.3 697.2h0M532.2 698.0h0M547.0 694.0h0M564.5 690.7h0M558.9 692.8h0M558.0 691.2h0M538.0 700.6h0M544.8 696.4h0M559.1 692.3h0M567.0 694.3h0M542.2 700.9h0M543.4 699.0h0M541.9 701.5h0M557.0 698.8h0M538.7 696.2h0M546.5 694.9h0M550.4 698.6h0M546.2 695.0h0M537.5 694.2h0M570.7 694.3h0M530.5 698.9h0M556.4 695.9h0M523.3 697.4h0M564.7 692.0h0M563.7 693.9h0M526.4 696.6h0M530.5 699.9h0M538.9 695.6h0M566.7 694.5h0M524.1 700.1h0M539.3 700.0h0M523.0 699.8h0M548.7 698.2h0M531.8 697.3h0M567.0 694.8h0M549.6 697.5h0M544.5 700.4h0M522.8 701.1h0M551.1 696.4h0M541.7 698.5h0M522.4 698.8h0M519.2 702.7h0M526.4 698.9h0M549.5 695.1h0M558.5 694.6h0M547.9 693.5h0M569.8 695.6h0M557.1 697.3h0M569.4 694.9h0M554.5 697.5h0M562.4 693.0h0M541.7 695.7h0M537.5 694.9h0M570.3 694.3h0M524.7 703.9h0M533.0 701.6h0M555.4 698.8h0M564.5 693.1h0M536.3 700.6h0M539.5 698.4h0M560.1 696.9h0M550.7 698.7h0M540.1 701.5h0M534.3 697.6h0M558.3 694.8h0M543.8 700.1h0M520.6 699.5h0M559.3 692.8h0M531.6 702.4h0M550.7 693.4h0M540.6 700.3h0M532.2 699.6h0M533.3 703.0h0M546.3 694.6h0M528.3 701.1h0M527.8 700.0h0M567.2 693.2h0M538.6 701.8h0M534.9 700.7h0M569.5 695.6h0M530.1 697.1h0M562.0 696.5h0M541.2 698.9h0M558.7 698.3h0M568.7 694.1h0M554.2 695.0h0M540.9 700.6h0M565.5 692.2h0M546.9 693.9h0M536.5 699.3h0M525.9 703.5h0M560.2 694.6h0M523.5 697.1h0M551.7 693.4h0M549.8 693.0h0M520.2 703.3h0M524.0 697.5h0M527.1 699.9h0M532.7 698.5h0M536.3 698.6h0M553.7 697.6h0M548.7 696.8h0M561.4 692.5h0M528.0 701.5h0M528.3 697.7h0M524.2 697.0h0M562.2 695.6h0M538.1 698.3h0M565.7 696.9h0M531.8 699.2h0M542.8 695.9h0M536.7 696.0h0M565.3 693.3h0M569.4 693.2h0M531.0 698.8h0M528.5 700.6h0M559.0 698.2h0M540.3 700.0h0M546.0 699.6h0M536.6 698.3h0M531.2 701.8h0M528.9 699.3h0M561.3 691.5h0M526.9 696.4h0M538.2 701.5h0M554.5 696.6h0M556.6 691.9h0M565.5 692.7h0M529.6 703.4h0M550.4 693.0h0M531.6 696.0h0M568.3 694.0h0M557.2 693.4h0M531.3 698.3h0M557.2 694.5h0M538.4 701.7h0M552.6 699.3h0M558.7 697.1h0M560.1 693.0h0M561.9 693.2h0M559.0 695.0h0M556.2 694.1h0M525.3 702.8h0M528.4 700.6h0M551.6 698.7h0M532.9 698.3h0M534.1 695.6h0M531.1 699.9h0M534.4 695.1h0M533.8 700.7h0M545.7 698.5h0M529.0 700.4h0M567.2 696.0h0M524.4 699.3h0M567.1 690.1h0M526.1 701.6h0M528.4 697.4h0M540.4 697.8h0M531.4 702.1h0M519.4 704.3h0M556.6 691.3h0M536.9 697.9h0M555.8 696.4h0M553.0 695.9h0M538.3 697.2h0M554.2 697.2h0M567.2 691.2h0M530.4 702.3h0M559.5 695.4h0M519.7 698.3h0M534.9 701.5h0M538.8 694.1h0M552.4 693.7h0M564.9 690.3h0M531.8 702.0h0M561.2 691.9h0M553.5 696.3h0M521.9 698.8h0M541.8 696.6h0M549.4 699.7h0M567.6 692.2h0M553.0 696.6h0M523.9 700.5h0M550.7 693.1h0M539.5 700.1h0M546.5 699.7h0M555.6 696.0h0M555.9 693.0h0M529.4 698.3h0M535.6 702.1h0M527.7 698.4h0M567.0 697.4h0M567.1 691.4h0M549.0 694.2h0M589.1 688.5h0M597.2 689.3h0M596.6 689.1h0M577.3 688.6h0M589.2 690.1h0M575.8 690.4h0M597.7 689.4h0M581.8 689.6h0M572.3 692.1h0M595.4 693.1h0M581.4 691.0h0M578.4 692.0h0M596.0 695.1h0M578.2 692.8h0M579.3 689.5h0M595.2 694.6h0M572.7 689.0h0M575.5 696.4h0M579.9 688.9h0M596.3 693.3h0M573.3 688.9h0M593.6 689.9h0M587.0 695.2h0M562.3 692.2h0M591.8 698.8h0M572.6 690.7h0M598.0 689.9h0M583.2 695.0h0M560.2 689.7h0M581.5 688.2h0M571.5 696.5h0M598.5 696.0h0M573.0 688.0h0M577.9 699.0h0M580.5 691.5h0M584.1 687.6h0M585.3 687.4h0M583.0 690.8h0M593.6 696.1h0M572.4 696.3h0M569.0 697.7h0M594.3 695.4h0M596.5 692.6h0M561.7 695.7h0M570.6 699.8h0M563.2 689.3h0M565.6 686.9h0M569.7 686.6h0M572.8 687.3h0M571.9 700.3h0M570.0 688.4h0M589.0 690.5h0M563.0 684.5h0M588.5 693.0h0M590.0 699.5h0M600.0 694.0h0M604.0 697.5h0M609.5 695.0h0M611.0 691.5h0M617.0 690.0h0M620.0 692.0h0M642.6 692.5h0M666.3 694.5h0" stroke="#3a80c4" stroke-width="3.50" stroke-linecap="round" fill="none"/>
<path d="M433.5 682.2V750.5H677.8" stroke="#4a4a4a" stroke-width="1.15" fill="none"/>
<line x1="430.5" y1="704.1" x2="433.8" y2="704.1" stroke="#444" stroke-width="0.9"/>
<text x="426.6" y="707.2" font-size="8.99" text-anchor="end" textLength="12.6" lengthAdjust="spacingAndGlyphs">0.0</text>
<line x1="430.5" y1="738.9" x2="433.8" y2="738.9" stroke="#444" stroke-width="0.9"/>
<text x="426.6" y="742.0" font-size="8.99" text-anchor="end" textLength="19.2" lengthAdjust="spacingAndGlyphs">−0.2</text>
<line x1="472.4" y1="750.1" x2="472.4" y2="753.4" stroke="#444" stroke-width="0.9"/>
<text x="472.4" y="763.0" font-size="8.99" text-anchor="middle" textLength="11.7" lengthAdjust="spacingAndGlyphs">−2</text>
<line x1="530.8" y1="750.1" x2="530.8" y2="753.4" stroke="#444" stroke-width="0.9"/>
<text x="530.8" y="763.0" font-size="8.99" text-anchor="middle" textLength="5.0" lengthAdjust="spacingAndGlyphs">0</text>
<line x1="589.2" y1="750.1" x2="589.2" y2="753.4" stroke="#444" stroke-width="0.9"/>
<text x="589.2" y="763.0" font-size="8.99" text-anchor="middle" textLength="5.0" lengthAdjust="spacingAndGlyphs">2</text>
<line x1="647.6" y1="750.1" x2="647.6" y2="753.4" stroke="#444" stroke-width="0.9"/>
<text x="647.6" y="763.0" font-size="8.99" text-anchor="middle" textLength="5.0" lengthAdjust="spacingAndGlyphs">4</text>
<text x="555.8" y="776.2" font-size="10.20" text-anchor="middle" textLength="52.5" lengthAdjust="spacingAndGlyphs">zBMI (child)</text>
<text x="399.8" y="716.7" font-size="8.13" text-anchor="middle" textLength="50.8" lengthAdjust="spacingAndGlyphs" transform="rotate(-90 399.8 716.7)">SHAP values</text>
<path d="M433.8 858.2 L433.8 858.0 L566.6 858.0 L566.6 857.0 L592.1 857.0 L592.1 855.8 L604.4 855.8 L604.4 852.3 L616.0 852.3 L616.0 847.2 L628.3 847.2 L628.3 839.0 L652.8 839.0 L652.8 853.0 L664.7 853.0 L664.7 858.2 Z" fill="#e5e5e5"/>
<path d="M444.3 807.4h0M529.2 805.8h0M554.7 808.4h0M576.8 797.8h0M591.1 794.1h0M642.2 799.6h0M645.9 855.8h0M645.0 831.5h0M651.0 832.5h0M655.0 830.0h0M656.5 833.0h0M664.5 827.5h0M666.5 817.3h0M572.4 808.3h0M576.6 805.7h0M576.4 806.7h0M572.5 804.7h0M576.1 807.4h0M575.3 805.2h0M572.1 804.7h0M578.3 804.7h0M593.5 807.4h0M586.9 804.0h0M595.4 804.3h0M585.6 804.1h0M596.4 806.0h0M591.8 805.5h0M585.4 804.6h0M591.1 805.6h0M592.9 805.8h0M588.4 807.4h0M597.5 806.2h0M596.8 806.8h0M594.6 804.2h0M585.1 806.5h0M596.1 804.9h0M598.3 805.7h0M586.6 806.0h0M584.9 804.6h0M612.2 810.2h0M603.6 810.2h0M604.3 809.4h0M617.2 804.2h0M610.8 808.8h0M617.0 804.9h0M603.8 808.5h0M616.7 810.2h0M616.9 806.9h0M607.0 804.4h0M609.8 810.1h0M616.7 805.5h0M608.2 810.5h0M617.0 810.6h0M612.5 806.6h0M616.7 805.8h0M613.0 804.2h0M602.8 805.2h0M617.5 803.8h0M608.9 802.5h0M608.1 810.1h0M612.1 810.0h0M615.9 804.5h0M610.3 805.3h0M614.6 805.6h0M611.5 811.0h0M606.4 809.4h0M617.7 811.3h0M602.3 803.5h0M602.5 810.9h0M610.3 811.1h0M601.4 806.4h0M606.4 809.4h0M610.0 810.0h0M616.5 808.2h0M640.5 811.7h0M625.1 807.0h0M640.4 808.3h0M637.8 804.2h0M630.2 804.1h0M632.1 809.1h0M621.9 811.2h0M633.2 812.8h0M638.6 806.9h0M620.1 802.9h0M640.1 809.7h0M642.5 806.8h0M641.8 802.1h0M620.9 807.5h0M634.2 810.6h0M642.2 804.7h0M629.6 813.0h0M637.9 806.2h0M639.8 803.0h0M644.0 806.1h0M640.1 810.6h0M624.4 804.4h0M634.8 802.0h0M630.2 812.1h0M626.0 804.1h0M641.8 805.7h0M638.7 803.8h0M636.2 807.0h0M637.1 811.1h0M629.1 803.6h0M634.6 812.6h0M641.7 806.7h0M632.1 806.4h0M643.6 808.4h0M641.9 803.1h0M620.6 810.1h0M644.0 810.3h0M644.0 803.9h0M624.6 804.5h0M628.7 804.6h0M639.2 810.3h0M631.6 803.8h0M625.9 803.1h0M626.1 807.8h0M633.5 806.0h0M638.0 807.8h0M624.1 802.6h0M642.7 811.8h0M626.6 808.6h0M635.4 809.4h0M623.4 806.8h0M639.0 806.1h0M637.2 803.0h0M627.5 805.2h0M635.9 806.1h0M643.6 809.8h0M632.1 804.9h0M631.2 805.7h0M637.4 805.5h0M622.0 805.9h0M641.8 809.7h0M640.5 811.3h0M632.2 802.4h0M628.9 807.6h0M640.6 806.7h0M624.6 809.1h0M624.0 801.7h0M621.4 810.9h0M623.3 801.7h0M625.0 811.6h0M633.1 811.2h0M623.5 803.5h0M633.9 808.4h0M635.7 809.5h0M625.2 813.0h0M642.6 806.9h0M628.8 804.7h0M624.6 808.4h0M620.7 804.6h0M623.7 811.6h0M642.8 807.3h0M626.7 804.9h0M636.5 803.6h0M632.4 805.5h0M637.2 807.7h0M639.1 804.0h0M636.9 806.7h0M620.2 807.7h0M630.6 807.5h0M630.1 806.5h0M664.7 821.4h0M661.8 824.0h0M657.9 827.1h0M642.8 823.0h0M661.4 825.3h0M661.8 821.7h0M660.7 826.8h0M652.6 825.2h0M643.6 822.4h0M643.7 826.1h0M644.9 824.5h0M647.4 824.1h0M657.7 824.5h0M660.8 826.6h0M646.2 821.3h0M656.0 825.8h0M659.5 825.8h0M663.9 824.1h0M658.5 824.0h0M655.4 820.1h0M650.2 826.3h0M643.1 820.9h0M650.8 820.9h0M646.0 820.0h0M642.1 826.1h0M645.9 821.5h0M659.1 825.1h0M641.8 823.6h0M664.2 825.6h0M658.9 823.8h0M652.7 821.2h0M653.7 820.4h0M662.2 822.3h0M655.2 820.1h0M652.1 823.6h0M663.4 827.5h0M662.2 822.4h0M647.4 826.2h0M642.5 825.6h0M659.9 824.6h0M658.0 825.6h0M649.6 821.5h0M660.5 821.0h0M646.7 822.8h0M644.5 826.0h0M662.9 823.0h0M648.9 825.3h0M648.1 820.9h0M642.3 824.3h0M654.3 826.2h0M647.1 826.8h0M657.9 820.0h0M642.7 822.5h0M663.2 821.9h0M655.9 822.3h0M658.4 823.2h0M663.0 820.5h0M641.8 822.6h0M651.9 827.5h0M642.1 825.1h0M641.8 820.9h0M645.9 822.5h0M642.2 821.1h0M648.0 826.2h0M647.7 824.0h0M645.7 819.9h0M654.8 824.8h0M662.9 821.9h0M659.8 827.1h0M643.9 819.6h0M644.9 820.1h0M652.9 823.3h0M642.9 819.8h0M641.3 820.1h0M642.3 824.8h0" stroke="#3a80c4" stroke-width="3.50" stroke-linecap="round" fill="none"/>
<path d="M433.5 790.5V858.5H677.8" stroke="#4a4a4a" stroke-width="1.15" fill="none"/>
<line x1="430.5" y1="812.4" x2="433.8" y2="812.4" stroke="#444" stroke-width="0.9"/>
<text x="426.6" y="815.5" font-size="8.99" text-anchor="end" textLength="17.6" lengthAdjust="spacingAndGlyphs">0.00</text>
<line x1="430.5" y1="839.1" x2="433.8" y2="839.1" stroke="#444" stroke-width="0.9"/>
<text x="426.6" y="842.2" font-size="8.99" text-anchor="end" textLength="24.3" lengthAdjust="spacingAndGlyphs">−0.25</text>
<line x1="452.6" y1="858.2" x2="452.6" y2="861.5" stroke="#444" stroke-width="0.9"/>
<text x="452.6" y="871.5" font-size="8.99" text-anchor="middle" textLength="5.0" lengthAdjust="spacingAndGlyphs">0</text>
<line x1="506.6" y1="858.2" x2="506.6" y2="861.5" stroke="#444" stroke-width="0.9"/>
<text x="506.6" y="871.5" font-size="8.99" text-anchor="middle" textLength="5.0" lengthAdjust="spacingAndGlyphs">2</text>
<line x1="560.6" y1="858.2" x2="560.6" y2="861.5" stroke="#444" stroke-width="0.9"/>
<text x="560.6" y="871.5" font-size="8.99" text-anchor="middle" textLength="5.0" lengthAdjust="spacingAndGlyphs">4</text>
<line x1="614.6" y1="858.2" x2="614.6" y2="861.5" stroke="#444" stroke-width="0.9"/>
<text x="614.6" y="871.5" font-size="8.99" text-anchor="middle" textLength="5.0" lengthAdjust="spacingAndGlyphs">6</text>
<line x1="668.6" y1="858.2" x2="668.6" y2="861.5" stroke="#444" stroke-width="0.9"/>
<text x="668.6" y="871.5" font-size="8.99" text-anchor="middle" textLength="5.0" lengthAdjust="spacingAndGlyphs">8</text>
<text x="555.8" y="884.5" font-size="10.20" text-anchor="middle" textLength="93.5" lengthAdjust="spacingAndGlyphs">N-acetyl neuraminic </text>
<text x="555.8" y="894.7" font-size="10.20" text-anchor="middle" textLength="18.7" lengthAdjust="spacingAndGlyphs">acid</text>
<text x="394.3" y="824.6" font-size="8.13" text-anchor="middle" textLength="50.8" lengthAdjust="spacingAndGlyphs" transform="rotate(-90 394.3 824.6)">SHAP values</text>
<path d="M433.8 967.1 L433.8 945.7 L445.4 945.7 L445.4 925.0 L457.0 925.0 L457.0 964.9 L469.0 964.9 L469.0 967.1 Z" fill="#e5e5e5"/>
<path d="M446.7 944.8h0M448.6 944.8h0M447.2 944.7h0M453.1 943.5h0M447.5 943.7h0M449.3 945.0h0M445.0 942.3h0M452.4 944.2h0M450.3 943.5h0M447.9 942.7h0M446.7 945.1h0M447.0 944.0h0M454.9 944.0h0M448.9 943.5h0M451.9 943.6h0M443.8 942.7h0M448.9 944.1h0M455.0 943.5h0M447.0 945.6h0M451.8 944.0h0M447.8 943.7h0M446.4 942.4h0M445.5 943.3h0M449.5 943.0h0M453.8 944.0h0M445.2 945.2h0M453.8 943.5h0M446.7 943.6h0M454.2 943.4h0M448.7 944.6h0M447.9 945.1h0M454.8 943.9h0M453.1 943.9h0M450.7 944.9h0M451.6 944.3h0M446.3 943.6h0M445.2 944.6h0M454.9 943.7h0M448.1 945.3h0M453.6 943.5h0M456.0 951.8h0M456.6 962.3h0M456.8 964.2h0M457.4 915.8h0M460.0 902.3h0M460.5 908.0h0M461.6 906.7h0M462.6 919.6h0M464.0 920.3h0M466.2 904.7h0M467.0 909.0h0M468.0 910.3h0M472.1 923.5h0M473.6 915.8h0M485.0 917.8h0M495.0 916.7h0M514.6 904.2h0M518.0 902.0h0M547.0 923.8h0M607.7 903.6h0M629.6 909.5h0M666.4 910.8h0" stroke="#3a80c4" stroke-width="3.50" stroke-linecap="round" fill="none"/>
<path d="M433.5 899.2V967.5H677.8" stroke="#4a4a4a" stroke-width="1.15" fill="none"/>
<line x1="430.5" y1="916.7" x2="433.8" y2="916.7" stroke="#444" stroke-width="0.9"/>
<text x="426.6" y="919.8" font-size="8.99" text-anchor="end" textLength="12.6" lengthAdjust="spacingAndGlyphs">0.2</text>
<line x1="430.5" y1="942.4" x2="433.8" y2="942.4" stroke="#444" stroke-width="0.9"/>
<text x="426.6" y="945.5" font-size="8.99" text-anchor="end" textLength="12.6" lengthAdjust="spacingAndGlyphs">0.0</text>
<line x1="444.7" y1="967.1" x2="444.7" y2="970.4" stroke="#444" stroke-width="0.9"/>
<text x="444.7" y="979.6" font-size="8.99" text-anchor="middle" textLength="5.0" lengthAdjust="spacingAndGlyphs">0</text>
<line x1="489.0" y1="967.1" x2="489.0" y2="970.4" stroke="#444" stroke-width="0.9"/>
<text x="489.0" y="979.6" font-size="8.99" text-anchor="middle" textLength="5.0" lengthAdjust="spacingAndGlyphs">1</text>
<line x1="533.3" y1="967.1" x2="533.3" y2="970.4" stroke="#444" stroke-width="0.9"/>
<text x="533.3" y="979.6" font-size="8.99" text-anchor="middle" textLength="5.0" lengthAdjust="spacingAndGlyphs">2</text>
<line x1="577.6" y1="967.1" x2="577.6" y2="970.4" stroke="#444" stroke-width="0.9"/>
<text x="577.6" y="979.6" font-size="8.99" text-anchor="middle" textLength="5.0" lengthAdjust="spacingAndGlyphs">3</text>
<line x1="621.9" y1="967.1" x2="621.9" y2="970.4" stroke="#444" stroke-width="0.9"/>
<text x="621.9" y="979.6" font-size="8.99" text-anchor="middle" textLength="5.0" lengthAdjust="spacingAndGlyphs">4</text>
<line x1="666.2" y1="967.1" x2="666.2" y2="970.4" stroke="#444" stroke-width="0.9"/>
<text x="666.2" y="979.6" font-size="8.99" text-anchor="middle" textLength="5.0" lengthAdjust="spacingAndGlyphs">5</text>
<text x="555.8" y="993.4" font-size="10.20" text-anchor="middle" textLength="113.7" lengthAdjust="spacingAndGlyphs">Inverse distance nearest </text>
<text x="555.8" y="1003.6" font-size="10.20" text-anchor="middle" textLength="55.0" lengthAdjust="spacingAndGlyphs">road (preg)*</text>
<text x="406.5" y="933.7" font-size="8.13" text-anchor="middle" textLength="50.8" lengthAdjust="spacingAndGlyphs" transform="rotate(-90 406.5 933.7)">SHAP values</text>
<text x="363.3" y="11.4" font-size="14.2" text-anchor="middle" style="fill:#000;stroke:#000;stroke-width:0.15">P-Factor</text>
<text x="363.1" y="344.6" font-size="14.2" text-anchor="middle" style="fill:#000;stroke:#000;stroke-width:0.15">Metabolic Syndrome</text>
<text x="364.7" y="677.4" font-size="14.2" text-anchor="middle" style="fill:#000;stroke:#000;stroke-width:0.15">Lung Function</text>
<text x="5.0" y="32.0" font-size="18" style="fill:#000;stroke:#000;stroke-width:0.35">a</text>
<text x="5.2" y="364.2" font-size="18" style="fill:#000;stroke:#000;stroke-width:0.35">b</text>
<text x="5.7" y="698.0" font-size="18" style="fill:#000;stroke:#000;stroke-width:0.35">c</text>
<text x="377.8" y="31.7" font-size="18" style="fill:#000;stroke:#000;stroke-width:0.35">d</text>
<text x="378.8" y="365.8" font-size="18" style="fill:#000;stroke:#000;stroke-width:0.35">e</text>
<text x="378.6" y="697.4" font-size="18" style="fill:#000;stroke:#000;stroke-width:0.35">f</text>
</svg></body></html>
